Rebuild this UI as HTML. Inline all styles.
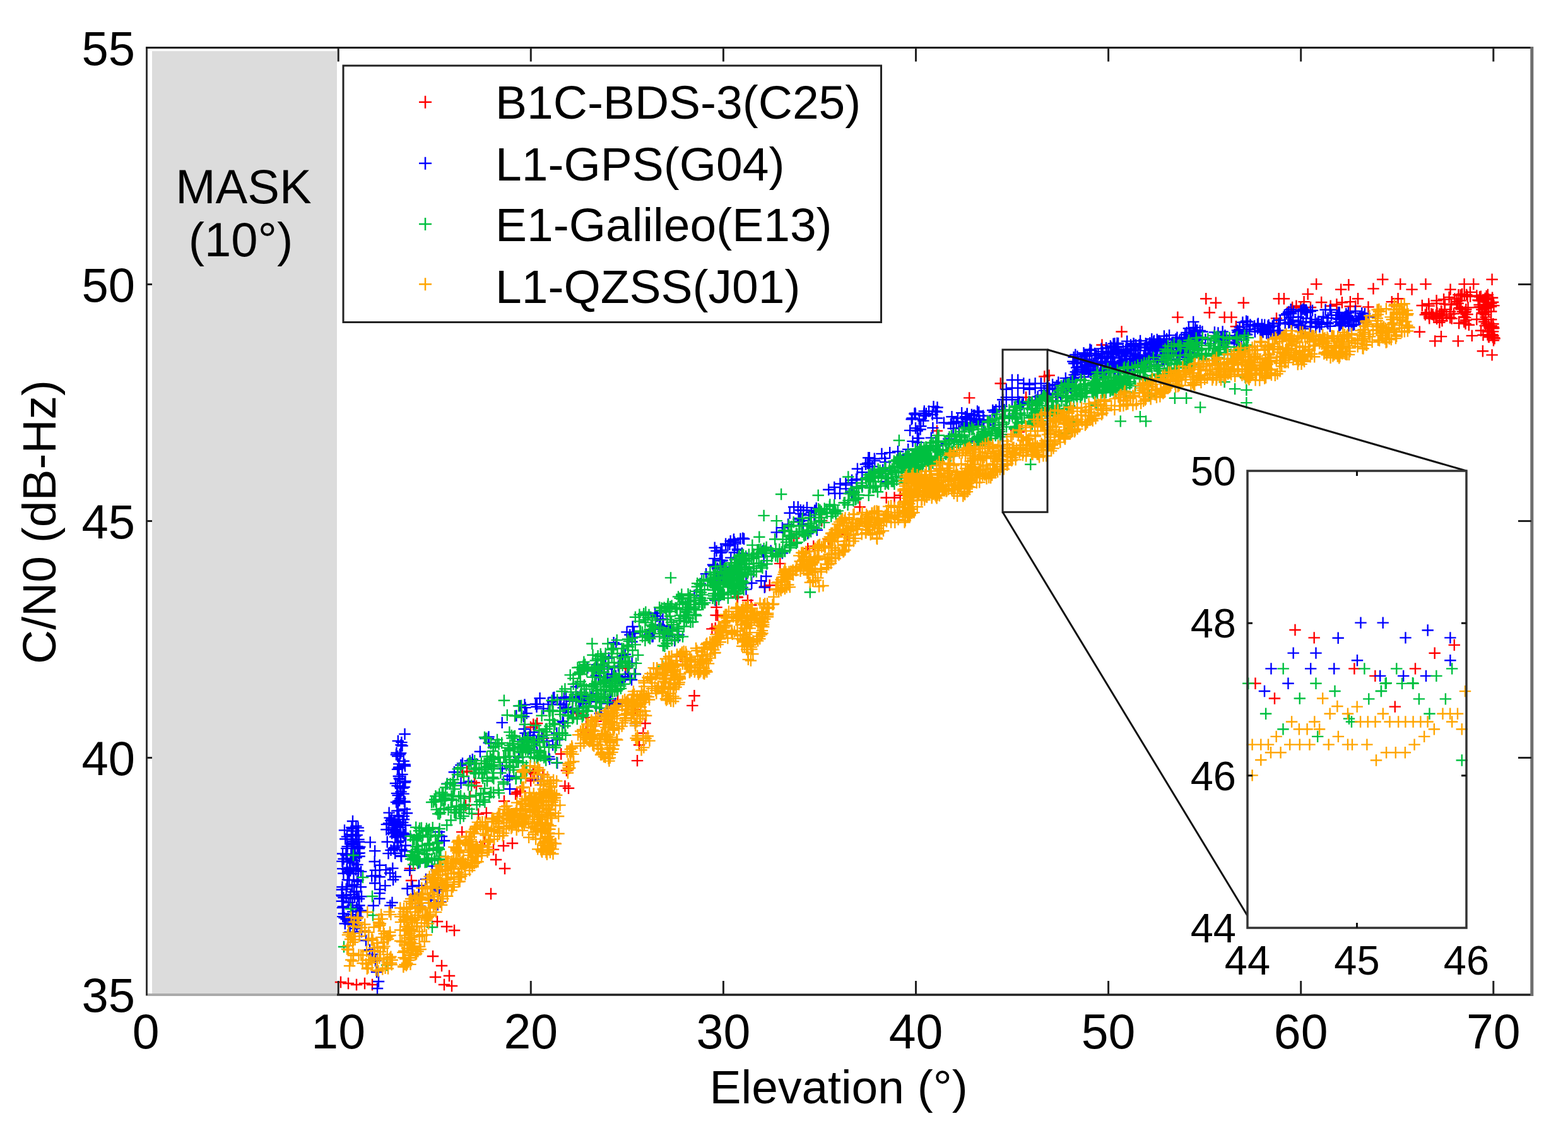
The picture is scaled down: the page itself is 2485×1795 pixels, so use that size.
<!DOCTYPE html><html><head><meta charset="utf-8"><style>html,body{margin:0;padding:0;background:#fff}svg{display:block}text{font-family:'Liberation Sans',Arial,sans-serif;fill:#000}</style></head><body>
<svg width="2485" height="1795" viewBox="0 0 2485 1795" xmlns="http://www.w3.org/2000/svg">
<rect x="241" y="81" width="293" height="1493" fill="#dcdcdc"/>
<path d="M530.8 1556.0h18.4m-9.2-9.2v18.4M542.8 1558.0h18.4m-9.2-9.2v18.4M555.8 1560.0h18.4m-9.2-9.2v18.4M568.8 1558.0h18.4m-9.2-9.2v18.4M580.8 1560.0h18.4m-9.2-9.2v18.4M676.8 1515.0h18.4m-9.2-9.2v18.4M690.8 1530.0h18.4m-9.2-9.2v18.4M680.8 1548.0h18.4m-9.2-9.2v18.4M702.8 1546.0h18.4m-9.2-9.2v18.4M694.8 1560.0h18.4m-9.2-9.2v18.4M706.8 1562.0h18.4m-9.2-9.2v18.4M683.8 1460.0h18.4m-9.2-9.2v18.4M698.8 1468.0h18.4m-9.2-9.2v18.4M710.8 1474.0h18.4m-9.2-9.2v18.4M758.8 1334.0h18.4m-9.2-9.2v18.4M772.8 1346.0h18.4m-9.2-9.2v18.4M788.8 1340.0h18.4m-9.2-9.2v18.4M802.8 1336.0h18.4m-9.2-9.2v18.4M776.8 1362.0h18.4m-9.2-9.2v18.4M790.8 1376.0h18.4m-9.2-9.2v18.4M768.8 1416.0h18.4m-9.2-9.2v18.4M730.8 1222.0h18.4m-9.2-9.2v18.4M742.8 1240.0h18.4m-9.2-9.2v18.4M735.8 1262.0h18.4m-9.2-9.2v18.4M728.8 1276.0h18.4m-9.2-9.2v18.4M831.8 1152.0h18.4m-9.2-9.2v18.4M837.8 1226.0h18.4m-9.2-9.2v18.4M640.8 1376.0h18.4m-9.2-9.2v18.4M642.8 1395.0h18.4m-9.2-9.2v18.4M835.7 1223.8h18.4m-9.2-9.2v18.4M851.3 1227.0h18.4m-9.2-9.2v18.4M888.7 1220.7h18.4m-9.2-9.2v18.4M891.8 1248.8h18.4m-9.2-9.2v18.4M904.3 1130.4h18.4m-9.2-9.2v18.4M919.8 1136.6h18.4m-9.2-9.2v18.4M935.4 1142.8h18.4m-9.2-9.2v18.4M982.1 1058.7h18.4m-9.2-9.2v18.4M1069.4 1040.0h18.4m-9.2-9.2v18.4M1091.2 1102.3h18.4m-9.2-9.2v18.4M1088.1 1117.9h18.4m-9.2-9.2v18.4M997.7 1124.1h18.4m-9.2-9.2v18.4M1013.3 1146.0h18.4m-9.2-9.2v18.4M1010.2 1161.5h18.4m-9.2-9.2v18.4M1003.9 1180.2h18.4m-9.2-9.2v18.4M1000.8 1205.1h18.4m-9.2-9.2v18.4M1119.2 996.4h18.4m-9.2-9.2v18.4M1125.4 974.6h18.4m-9.2-9.2v18.4M1159.7 946.6h18.4m-9.2-9.2v18.4M842.0 1146.0h18.4m-9.2-9.2v18.4M1395.5 788.5h18.4m-9.2-9.2v18.4M1408.3 788.5h18.4m-9.2-9.2v18.4M1417.5 784.8h18.4m-9.2-9.2v18.4M1333.3 847.1h18.4m-9.2-9.2v18.4M1304.0 854.4h18.4m-9.2-9.2v18.4M1249.0 852.6h18.4m-9.2-9.2v18.4M1280.1 865.4h18.4m-9.2-9.2v18.4M1271.0 869.1h18.4m-9.2-9.2v18.4M1227.0 892.9h18.4m-9.2-9.2v18.4M1293.0 825.1h18.4m-9.2-9.2v18.4M1353.4 803.2h18.4m-9.2-9.2v18.4M1159.3 945.6h18.4m-9.2-9.2v18.4M1175.7 951.1h18.4m-9.2-9.2v18.4M1181.2 958.5h18.4m-9.2-9.2v18.4M1128.1 974.9h18.4m-9.2-9.2v18.4M1126.3 962.1h18.4m-9.2-9.2v18.4M1124.5 995.1h18.4m-9.2-9.2v18.4M1203.2 929.2h18.4m-9.2-9.2v18.4M1210.5 927.3h18.4m-9.2-9.2v18.4M919.7 1159.5h18.4m-9.2-9.2v18.4M810.3 1255.2h18.4m-9.2-9.2v18.4M807.9 1258.0h18.4m-9.2-9.2v18.4M761.6 1288.0h18.4m-9.2-9.2v18.4M749.0 1289.7h18.4m-9.2-9.2v18.4M969.8 1110.2h18.4m-9.2-9.2v18.4M723.0 1318.1h18.4m-9.2-9.2v18.4M880.0 1194.5h18.4m-9.2-9.2v18.4M789.8 1269.2h18.4m-9.2-9.2v18.4M919.7 1158.1h18.4m-9.2-9.2v18.4M815.2 1253.5h18.4m-9.2-9.2v18.4M832.0 1237.0h18.4m-9.2-9.2v18.4M831.8 1233.7h18.4m-9.2-9.2v18.4M836.1 1147.7h18.4m-9.2-9.2v18.4M852.0 1169.7h18.4m-9.2-9.2v18.4M723.8 1223.4h18.4m-9.2-9.2v18.4M822.7 1223.4h18.4m-9.2-9.2v18.4M837.3 1223.4h18.4m-9.2-9.2v18.4M745.8 1245.4h18.4m-9.2-9.2v18.4M886.2 1245.4h18.4m-9.2-9.2v18.4M1527.0 630.4h18.4m-9.2-9.2v18.4M1576.5 607.5h18.4m-9.2-9.2v18.4M1653.4 594.7h18.4m-9.2-9.2v18.4M1646.1 596.5h18.4m-9.2-9.2v18.4M1664.4 629.5h18.4m-9.2-9.2v18.4M1616.8 629.5h18.4m-9.2-9.2v18.4M1475.7 682.6h18.4m-9.2-9.2v18.4M1479.4 743.0h18.4m-9.2-9.2v18.4M1605.8 684.4h18.4m-9.2-9.2v18.4M1717.5 570.9h18.4m-9.2-9.2v18.4M1593.0 688.1h18.4m-9.2-9.2v18.4M1737.3 546.5h18.4m-9.2-9.2v18.4M1768.4 525.5h18.4m-9.2-9.2v18.4M1857.2 502.6h18.4m-9.2-9.2v18.4M1902.1 473.3h18.4m-9.2-9.2v18.4M1917.7 479.7h18.4m-9.2-9.2v18.4M1907.6 495.2h18.4m-9.2-9.2v18.4M1931.4 502.6h18.4m-9.2-9.2v18.4M1942.4 502.6h18.4m-9.2-9.2v18.4M1961.6 479.7h18.4m-9.2-9.2v18.4M1949.7 517.2h18.4m-9.2-9.2v18.4M2013.8 504.4h18.4m-9.2-9.2v18.4M2017.5 473.3h18.4m-9.2-9.2v18.4M1882.0 539.2h18.4m-9.2-9.2v18.4M1885.6 542.9h18.4m-9.2-9.2v18.4M2335.4 483.0h18.4m-9.2-9.2v18.4M2357.2 513.2h18.4m-9.2-9.2v18.4M2344.6 516.1h18.4m-9.2-9.2v18.4M2358.8 535.2h18.4m-9.2-9.2v18.4M2350.5 534.1h18.4m-9.2-9.2v18.4M2349.6 481.5h18.4m-9.2-9.2v18.4M2345.1 483.5h18.4m-9.2-9.2v18.4M2357.4 518.3h18.4m-9.2-9.2v18.4M2355.8 530.3h18.4m-9.2-9.2v18.4M2345.2 502.4h18.4m-9.2-9.2v18.4M2346.5 469.1h18.4m-9.2-9.2v18.4M2349.8 473.9h18.4m-9.2-9.2v18.4M2357.1 520.2h18.4m-9.2-9.2v18.4M2354.1 530.7h18.4m-9.2-9.2v18.4M2344.8 498.6h18.4m-9.2-9.2v18.4M2337.7 469.8h18.4m-9.2-9.2v18.4M2339.1 490.4h18.4m-9.2-9.2v18.4M2354.6 516.1h18.4m-9.2-9.2v18.4M2348.8 525.6h18.4m-9.2-9.2v18.4M2334.3 487.0h18.4m-9.2-9.2v18.4M2335.8 470.4h18.4m-9.2-9.2v18.4M2347.8 523.7h18.4m-9.2-9.2v18.4M2349.7 513.7h18.4m-9.2-9.2v18.4M2344.1 474.7h18.4m-9.2-9.2v18.4M2341.9 478.0h18.4m-9.2-9.2v18.4M2344.4 472.6h18.4m-9.2-9.2v18.4M2354.1 480.6h18.4m-9.2-9.2v18.4M2354.0 506.2h18.4m-9.2-9.2v18.4M2344.7 494.2h18.4m-9.2-9.2v18.4M2358.2 484.1h18.4m-9.2-9.2v18.4M2348.3 530.3h18.4m-9.2-9.2v18.4M2348.7 467.0h18.4m-9.2-9.2v18.4M2356.9 478.7h18.4m-9.2-9.2v18.4M2356.8 525.2h18.4m-9.2-9.2v18.4M2343.4 488.5h18.4m-9.2-9.2v18.4M2351.5 519.7h18.4m-9.2-9.2v18.4M2350.9 530.8h18.4m-9.2-9.2v18.4M2341.4 505.6h18.4m-9.2-9.2v18.4M2341.3 530.7h18.4m-9.2-9.2v18.4M2339.7 496.8h18.4m-9.2-9.2v18.4M2347.0 487.5h18.4m-9.2-9.2v18.4M2346.6 512.8h18.4m-9.2-9.2v18.4M2356.7 534.4h18.4m-9.2-9.2v18.4M2353.7 485.7h18.4m-9.2-9.2v18.4M2333.4 475.5h18.4m-9.2-9.2v18.4M2355.9 471.8h18.4m-9.2-9.2v18.4M2331.1 506.0h18.4m-9.2-9.2v18.4M2339.5 495.8h18.4m-9.2-9.2v18.4M2335.0 476.3h18.4m-9.2-9.2v18.4M2340.1 490.5h18.4m-9.2-9.2v18.4M2349.8 533.2h18.4m-9.2-9.2v18.4M2343.1 509.7h18.4m-9.2-9.2v18.4M2331.2 468.5h18.4m-9.2-9.2v18.4M2354.0 493.5h18.4m-9.2-9.2v18.4M2350.2 493.4h18.4m-9.2-9.2v18.4M2336.2 486.1h18.4m-9.2-9.2v18.4M2347.5 478.8h18.4m-9.2-9.2v18.4M2337.9 523.7h18.4m-9.2-9.2v18.4M2357.2 531.8h18.4m-9.2-9.2v18.4M2358.1 519.9h18.4m-9.2-9.2v18.4M2348.6 482.5h18.4m-9.2-9.2v18.4M2358.8 535.7h18.4m-9.2-9.2v18.4M2359.4 536.3h18.4m-9.2-9.2v18.4M2280.8 481.7h18.4m-9.2-9.2v18.4M2302.3 467.1h18.4m-9.2-9.2v18.4M2251.7 496.5h18.4m-9.2-9.2v18.4M2314.1 490.3h18.4m-9.2-9.2v18.4M2305.6 467.5h18.4m-9.2-9.2v18.4M2275.9 504.3h18.4m-9.2-9.2v18.4M2294.9 497.0h18.4m-9.2-9.2v18.4M2275.5 493.4h18.4m-9.2-9.2v18.4M2306.3 490.0h18.4m-9.2-9.2v18.4M2268.4 496.1h18.4m-9.2-9.2v18.4M2280.0 490.1h18.4m-9.2-9.2v18.4M2263.2 502.7h18.4m-9.2-9.2v18.4M2244.6 484.0h18.4m-9.2-9.2v18.4M2255.5 484.6h18.4m-9.2-9.2v18.4M2308.7 493.7h18.4m-9.2-9.2v18.4M2274.8 493.0h18.4m-9.2-9.2v18.4M2251.7 495.3h18.4m-9.2-9.2v18.4M2267.7 480.7h18.4m-9.2-9.2v18.4M2255.0 481.5h18.4m-9.2-9.2v18.4M2278.9 474.3h18.4m-9.2-9.2v18.4M2283.2 500.5h18.4m-9.2-9.2v18.4M2303.0 512.0h18.4m-9.2-9.2v18.4M2299.3 477.8h18.4m-9.2-9.2v18.4M2303.9 487.8h18.4m-9.2-9.2v18.4M2259.2 497.5h18.4m-9.2-9.2v18.4M2267.4 476.2h18.4m-9.2-9.2v18.4M2287.4 470.9h18.4m-9.2-9.2v18.4M2290.6 482.9h18.4m-9.2-9.2v18.4M2278.0 500.4h18.4m-9.2-9.2v18.4M2314.0 507.3h18.4m-9.2-9.2v18.4M2315.1 466.9h18.4m-9.2-9.2v18.4M2267.7 501.6h18.4m-9.2-9.2v18.4M2310.9 501.9h18.4m-9.2-9.2v18.4M2313.6 493.6h18.4m-9.2-9.2v18.4M2276.3 508.2h18.4m-9.2-9.2v18.4M2320.9 469.5h18.4m-9.2-9.2v18.4M2313.4 512.9h18.4m-9.2-9.2v18.4M2261.6 498.3h18.4m-9.2-9.2v18.4M2288.9 493.8h18.4m-9.2-9.2v18.4M2266.9 499.2h18.4m-9.2-9.2v18.4M2316.3 498.0h18.4m-9.2-9.2v18.4M2266.3 502.8h18.4m-9.2-9.2v18.4M2249.6 498.6h18.4m-9.2-9.2v18.4M2312.5 494.8h18.4m-9.2-9.2v18.4M2318.7 514.7h18.4m-9.2-9.2v18.4M2290.9 482.2h18.4m-9.2-9.2v18.4M2272.1 497.8h18.4m-9.2-9.2v18.4M2305.1 476.4h18.4m-9.2-9.2v18.4M2313.2 503.1h18.4m-9.2-9.2v18.4M2267.9 505.0h18.4m-9.2-9.2v18.4M2255.5 497.8h18.4m-9.2-9.2v18.4M2291.6 504.6h18.4m-9.2-9.2v18.4M2296.2 473.5h18.4m-9.2-9.2v18.4M2256.1 504.3h18.4m-9.2-9.2v18.4M2316.5 469.8h18.4m-9.2-9.2v18.4M2311.1 510.0h18.4m-9.2-9.2v18.4M2307.9 466.0h18.4m-9.2-9.2v18.4M2255.9 501.5h18.4m-9.2-9.2v18.4M2288.9 503.2h18.4m-9.2-9.2v18.4M2272.2 510.9h18.4m-9.2-9.2v18.4M2301.4 480.8h18.4m-9.2-9.2v18.4M2320.7 462.9h18.4m-9.2-9.2v18.4M2288.8 497.6h18.4m-9.2-9.2v18.4M2317.4 487.3h18.4m-9.2-9.2v18.4M2311.6 467.7h18.4m-9.2-9.2v18.4M2085.0 479.0h18.4m-9.2-9.2v18.4M2099.5 484.7h18.4m-9.2-9.2v18.4M2045.2 484.7h18.4m-9.2-9.2v18.4M2038.9 487.0h18.4m-9.2-9.2v18.4M2159.3 486.4h18.4m-9.2-9.2v18.4M2139.1 485.2h18.4m-9.2-9.2v18.4M2117.7 479.2h18.4m-9.2-9.2v18.4M2052.3 487.2h18.4m-9.2-9.2v18.4M2067.8 487.0h18.4m-9.2-9.2v18.4M2109.2 482.3h18.4m-9.2-9.2v18.4M2130.5 485.5h18.4m-9.2-9.2v18.4M2077.0 450.1h18.4m-9.2-9.2v18.4M2063.5 465.9h18.4m-9.2-9.2v18.4M2057.4 478.1h18.4m-9.2-9.2v18.4M2025.7 473.3h18.4m-9.2-9.2v18.4M2128.2 451.3h18.4m-9.2-9.2v18.4M2116.0 458.6h18.4m-9.2-9.2v18.4M2142.9 473.3h18.4m-9.2-9.2v18.4M2130.7 478.1h18.4m-9.2-9.2v18.4M2167.3 457.4h18.4m-9.2-9.2v18.4M2182.0 442.7h18.4m-9.2-9.2v18.4M2210.1 450.1h18.4m-9.2-9.2v18.4M2228.4 458.6h18.4m-9.2-9.2v18.4M2250.3 450.1h18.4m-9.2-9.2v18.4M2196.6 478.1h18.4m-9.2-9.2v18.4M2206.4 473.3h18.4m-9.2-9.2v18.4M2289.4 458.6h18.4m-9.2-9.2v18.4M2311.4 450.1h18.4m-9.2-9.2v18.4M2326.1 450.1h18.4m-9.2-9.2v18.4M2355.4 442.7h18.4m-9.2-9.2v18.4M2240.6 525.8h18.4m-9.2-9.2v18.4M2274.8 533.1h18.4m-9.2-9.2v18.4M2265.0 540.4h18.4m-9.2-9.2v18.4M2301.6 540.4h18.4m-9.2-9.2v18.4M2323.6 531.9h18.4m-9.2-9.2v18.4M2340.7 556.3h18.4m-9.2-9.2v18.4M2355.4 562.4h18.4m-9.2-9.2v18.4M2357.8 539.2h18.4m-9.2-9.2v18.4" stroke="#ff0000" stroke-width="2.4" fill="none"/>
<path d="M549.8 1301.0h18.4m-9.2-9.2v18.4M632.3 1163.0h18.4m-9.2-9.2v18.4M556.0 1437.8h18.4m-9.2-9.2v18.4M533.3 1405.2h18.4m-9.2-9.2v18.4M534.1 1376.2h18.4m-9.2-9.2v18.4M540.7 1325.6h18.4m-9.2-9.2v18.4M543.9 1382.9h18.4m-9.2-9.2v18.4M551.0 1367.4h18.4m-9.2-9.2v18.4M533.2 1364.6h18.4m-9.2-9.2v18.4M555.1 1308.6h18.4m-9.2-9.2v18.4M549.1 1311.4h18.4m-9.2-9.2v18.4M561.0 1341.8h18.4m-9.2-9.2v18.4M549.5 1323.7h18.4m-9.2-9.2v18.4M550.0 1444.4h18.4m-9.2-9.2v18.4M562.8 1443.8h18.4m-9.2-9.2v18.4M559.0 1316.4h18.4m-9.2-9.2v18.4M555.9 1412.3h18.4m-9.2-9.2v18.4M556.5 1322.9h18.4m-9.2-9.2v18.4M539.2 1354.5h18.4m-9.2-9.2v18.4M554.9 1375.7h18.4m-9.2-9.2v18.4M544.3 1394.3h18.4m-9.2-9.2v18.4M557.2 1452.5h18.4m-9.2-9.2v18.4M560.4 1356.7h18.4m-9.2-9.2v18.4M534.8 1436.3h18.4m-9.2-9.2v18.4M533.7 1438.1h18.4m-9.2-9.2v18.4M539.5 1418.9h18.4m-9.2-9.2v18.4M557.4 1420.6h18.4m-9.2-9.2v18.4M544.2 1464.0h18.4m-9.2-9.2v18.4M547.1 1353.2h18.4m-9.2-9.2v18.4M547.3 1449.1h18.4m-9.2-9.2v18.4M538.0 1329.2h18.4m-9.2-9.2v18.4M562.9 1380.9h18.4m-9.2-9.2v18.4M546.3 1361.5h18.4m-9.2-9.2v18.4M539.4 1456.3h18.4m-9.2-9.2v18.4M558.9 1351.7h18.4m-9.2-9.2v18.4M556.2 1466.1h18.4m-9.2-9.2v18.4M545.4 1476.7h18.4m-9.2-9.2v18.4M534.0 1452.1h18.4m-9.2-9.2v18.4M560.6 1351.4h18.4m-9.2-9.2v18.4M540.5 1354.8h18.4m-9.2-9.2v18.4M535.6 1447.5h18.4m-9.2-9.2v18.4M555.2 1443.5h18.4m-9.2-9.2v18.4M553.3 1353.0h18.4m-9.2-9.2v18.4M533.9 1352.5h18.4m-9.2-9.2v18.4M558.4 1311.4h18.4m-9.2-9.2v18.4M549.5 1363.3h18.4m-9.2-9.2v18.4M540.9 1365.6h18.4m-9.2-9.2v18.4M551.5 1337.1h18.4m-9.2-9.2v18.4M536.4 1454.1h18.4m-9.2-9.2v18.4M557.2 1369.9h18.4m-9.2-9.2v18.4M539.5 1408.5h18.4m-9.2-9.2v18.4M546.3 1417.1h18.4m-9.2-9.2v18.4M543.4 1430.0h18.4m-9.2-9.2v18.4M548.9 1312.7h18.4m-9.2-9.2v18.4M554.4 1457.9h18.4m-9.2-9.2v18.4M547.8 1335.5h18.4m-9.2-9.2v18.4M541.4 1341.1h18.4m-9.2-9.2v18.4M560.2 1434.5h18.4m-9.2-9.2v18.4M541.2 1360.0h18.4m-9.2-9.2v18.4M535.2 1383.7h18.4m-9.2-9.2v18.4M559.2 1330.0h18.4m-9.2-9.2v18.4M556.7 1396.5h18.4m-9.2-9.2v18.4M542.8 1459.1h18.4m-9.2-9.2v18.4M551.7 1363.6h18.4m-9.2-9.2v18.4M555.4 1358.8h18.4m-9.2-9.2v18.4M535.4 1360.8h18.4m-9.2-9.2v18.4M547.0 1453.7h18.4m-9.2-9.2v18.4M547.4 1330.1h18.4m-9.2-9.2v18.4M559.8 1424.0h18.4m-9.2-9.2v18.4M549.9 1462.5h18.4m-9.2-9.2v18.4M545.0 1374.6h18.4m-9.2-9.2v18.4M532.7 1427.7h18.4m-9.2-9.2v18.4M552.6 1471.0h18.4m-9.2-9.2v18.4M546.1 1379.4h18.4m-9.2-9.2v18.4M532.3 1418.1h18.4m-9.2-9.2v18.4M541.7 1381.0h18.4m-9.2-9.2v18.4M560.1 1343.1h18.4m-9.2-9.2v18.4M548.7 1353.9h18.4m-9.2-9.2v18.4M552.2 1401.6h18.4m-9.2-9.2v18.4M554.2 1324.4h18.4m-9.2-9.2v18.4M552.9 1421.9h18.4m-9.2-9.2v18.4M560.6 1444.4h18.4m-9.2-9.2v18.4M558.3 1394.0h18.4m-9.2-9.2v18.4M533.0 1419.6h18.4m-9.2-9.2v18.4M550.4 1462.4h18.4m-9.2-9.2v18.4M540.0 1344.1h18.4m-9.2-9.2v18.4M555.9 1444.6h18.4m-9.2-9.2v18.4M563.8 1420.2h18.4m-9.2-9.2v18.4M540.8 1404.9h18.4m-9.2-9.2v18.4M550.1 1332.9h18.4m-9.2-9.2v18.4M548.7 1403.4h18.4m-9.2-9.2v18.4M557.1 1340.9h18.4m-9.2-9.2v18.4M550.1 1316.5h18.4m-9.2-9.2v18.4M549.7 1338.0h18.4m-9.2-9.2v18.4M540.4 1377.2h18.4m-9.2-9.2v18.4M539.7 1352.9h18.4m-9.2-9.2v18.4M541.6 1393.9h18.4m-9.2-9.2v18.4M536.8 1315.4h18.4m-9.2-9.2v18.4M562.8 1442.7h18.4m-9.2-9.2v18.4M559.9 1333.7h18.4m-9.2-9.2v18.4M546.2 1423.5h18.4m-9.2-9.2v18.4M549.4 1434.0h18.4m-9.2-9.2v18.4M537.6 1463.2h18.4m-9.2-9.2v18.4M551.5 1413.2h18.4m-9.2-9.2v18.4M551.3 1384.2h18.4m-9.2-9.2v18.4M547.6 1322.1h18.4m-9.2-9.2v18.4M551.6 1340.7h18.4m-9.2-9.2v18.4M554.8 1377.7h18.4m-9.2-9.2v18.4M553.8 1353.1h18.4m-9.2-9.2v18.4M535.2 1422.3h18.4m-9.2-9.2v18.4M559.7 1344.3h18.4m-9.2-9.2v18.4M557.2 1439.9h18.4m-9.2-9.2v18.4M558.5 1379.8h18.4m-9.2-9.2v18.4M562.6 1405.2h18.4m-9.2-9.2v18.4M532.8 1409.5h18.4m-9.2-9.2v18.4M548.2 1310.9h18.4m-9.2-9.2v18.4M580.0 1388.0h18.4m-9.2-9.2v18.4M584.9 1348.1h18.4m-9.2-9.2v18.4M586.0 1387.2h18.4m-9.2-9.2v18.4M592.2 1423.8h18.4m-9.2-9.2v18.4M582.6 1434.8h18.4m-9.2-9.2v18.4M585.0 1399.3h18.4m-9.2-9.2v18.4M585.7 1378.7h18.4m-9.2-9.2v18.4M593.0 1409.1h18.4m-9.2-9.2v18.4M577.5 1334.4h18.4m-9.2-9.2v18.4M584.5 1365.0h18.4m-9.2-9.2v18.4M628.2 1226.9h18.4m-9.2-9.2v18.4M632.4 1239.6h18.4m-9.2-9.2v18.4M631.7 1269.7h18.4m-9.2-9.2v18.4M624.5 1195.3h18.4m-9.2-9.2v18.4M622.0 1269.1h18.4m-9.2-9.2v18.4M623.3 1215.4h18.4m-9.2-9.2v18.4M619.8 1256.9h18.4m-9.2-9.2v18.4M618.7 1195.5h18.4m-9.2-9.2v18.4M620.8 1218.9h18.4m-9.2-9.2v18.4M626.3 1254.4h18.4m-9.2-9.2v18.4M624.5 1246.2h18.4m-9.2-9.2v18.4M626.3 1180.2h18.4m-9.2-9.2v18.4M633.2 1237.7h18.4m-9.2-9.2v18.4M624.4 1195.1h18.4m-9.2-9.2v18.4M625.2 1265.4h18.4m-9.2-9.2v18.4M628.3 1181.5h18.4m-9.2-9.2v18.4M621.4 1273.3h18.4m-9.2-9.2v18.4M617.7 1241.0h18.4m-9.2-9.2v18.4M631.4 1247.0h18.4m-9.2-9.2v18.4M627.2 1176.1h18.4m-9.2-9.2v18.4M620.9 1198.1h18.4m-9.2-9.2v18.4M620.5 1244.9h18.4m-9.2-9.2v18.4M621.6 1173.9h18.4m-9.2-9.2v18.4M623.6 1233.3h18.4m-9.2-9.2v18.4M621.5 1260.0h18.4m-9.2-9.2v18.4M632.5 1270.8h18.4m-9.2-9.2v18.4M632.7 1213.6h18.4m-9.2-9.2v18.4M623.9 1268.3h18.4m-9.2-9.2v18.4M618.8 1270.9h18.4m-9.2-9.2v18.4M630.5 1205.8h18.4m-9.2-9.2v18.4M619.3 1192.6h18.4m-9.2-9.2v18.4M622.7 1216.7h18.4m-9.2-9.2v18.4M629.2 1248.5h18.4m-9.2-9.2v18.4M630.3 1257.6h18.4m-9.2-9.2v18.4M623.0 1210.4h18.4m-9.2-9.2v18.4M622.6 1229.7h18.4m-9.2-9.2v18.4M624.5 1234.5h18.4m-9.2-9.2v18.4M632.3 1211.3h18.4m-9.2-9.2v18.4M625.9 1193.1h18.4m-9.2-9.2v18.4M611.6 1297.4h18.4m-9.2-9.2v18.4M622.9 1294.0h18.4m-9.2-9.2v18.4M611.9 1320.2h18.4m-9.2-9.2v18.4M630.7 1298.3h18.4m-9.2-9.2v18.4M606.3 1352.1h18.4m-9.2-9.2v18.4M625.8 1310.7h18.4m-9.2-9.2v18.4M603.6 1306.1h18.4m-9.2-9.2v18.4M607.4 1287.6h18.4m-9.2-9.2v18.4M612.3 1311.4h18.4m-9.2-9.2v18.4M626.3 1355.6h18.4m-9.2-9.2v18.4M610.0 1300.0h18.4m-9.2-9.2v18.4M608.3 1295.6h18.4m-9.2-9.2v18.4M626.0 1324.9h18.4m-9.2-9.2v18.4M606.7 1314.3h18.4m-9.2-9.2v18.4M614.5 1318.9h18.4m-9.2-9.2v18.4M627.2 1345.9h18.4m-9.2-9.2v18.4M629.5 1320.0h18.4m-9.2-9.2v18.4M627.0 1356.9h18.4m-9.2-9.2v18.4M634.0 1321.5h18.4m-9.2-9.2v18.4M630.5 1293.1h18.4m-9.2-9.2v18.4M618.0 1318.3h18.4m-9.2-9.2v18.4M616.9 1325.8h18.4m-9.2-9.2v18.4M633.5 1307.5h18.4m-9.2-9.2v18.4M615.0 1345.1h18.4m-9.2-9.2v18.4M618.9 1323.5h18.4m-9.2-9.2v18.4M632.5 1282.0h18.4m-9.2-9.2v18.4M616.2 1342.9h18.4m-9.2-9.2v18.4M619.0 1308.0h18.4m-9.2-9.2v18.4M604.5 1333.8h18.4m-9.2-9.2v18.4M622.2 1291.9h18.4m-9.2-9.2v18.4M620.2 1340.4h18.4m-9.2-9.2v18.4M621.8 1284.5h18.4m-9.2-9.2v18.4M625.3 1306.8h18.4m-9.2-9.2v18.4M625.6 1332.4h18.4m-9.2-9.2v18.4M629.0 1303.1h18.4m-9.2-9.2v18.4M616.1 1314.0h18.4m-9.2-9.2v18.4M617.0 1308.0h18.4m-9.2-9.2v18.4M615.5 1299.6h18.4m-9.2-9.2v18.4M620.6 1308.8h18.4m-9.2-9.2v18.4M623.3 1297.9h18.4m-9.2-9.2v18.4M621.0 1326.0h18.4m-9.2-9.2v18.4M633.7 1339.5h18.4m-9.2-9.2v18.4M631.5 1322.2h18.4m-9.2-9.2v18.4M620.1 1284.6h18.4m-9.2-9.2v18.4M618.1 1316.0h18.4m-9.2-9.2v18.4M603.2 1314.3h18.4m-9.2-9.2v18.4M617.8 1318.1h18.4m-9.2-9.2v18.4M635.7 1288.2h18.4m-9.2-9.2v18.4M619.4 1305.6h18.4m-9.2-9.2v18.4M612.6 1315.2h18.4m-9.2-9.2v18.4M632.3 1348.3h18.4m-9.2-9.2v18.4M606.7 1304.5h18.4m-9.2-9.2v18.4M621.8 1334.6h18.4m-9.2-9.2v18.4M621.9 1302.1h18.4m-9.2-9.2v18.4M624.6 1318.5h18.4m-9.2-9.2v18.4M617.0 1351.7h18.4m-9.2-9.2v18.4M610.3 1346.9h18.4m-9.2-9.2v18.4M592.4 1389.2h18.4m-9.2-9.2v18.4M609.2 1434.6h18.4m-9.2-9.2v18.4M689.0 1428.9h18.4m-9.2-9.2v18.4M644.3 1404.2h18.4m-9.2-9.2v18.4M654.4 1415.9h18.4m-9.2-9.2v18.4M673.7 1426.1h18.4m-9.2-9.2v18.4M654.3 1367.0h18.4m-9.2-9.2v18.4M665.8 1392.9h18.4m-9.2-9.2v18.4M644.8 1417.8h18.4m-9.2-9.2v18.4M687.1 1411.5h18.4m-9.2-9.2v18.4M656.3 1435.8h18.4m-9.2-9.2v18.4M592.5 1415.1h18.4m-9.2-9.2v18.4M601.2 1403.1h18.4m-9.2-9.2v18.4M617.7 1389.0h18.4m-9.2-9.2v18.4M678.4 1386.0h18.4m-9.2-9.2v18.4M685.5 1408.5h18.4m-9.2-9.2v18.4M685.6 1408.7h18.4m-9.2-9.2v18.4M654.8 1402.9h18.4m-9.2-9.2v18.4M687.0 1362.7h18.4m-9.2-9.2v18.4M602.4 1378.1h18.4m-9.2-9.2v18.4M684.5 1433.3h18.4m-9.2-9.2v18.4M608.9 1383.2h18.4m-9.2-9.2v18.4M640.1 1378.9h18.4m-9.2-9.2v18.4M613.1 1375.6h18.4m-9.2-9.2v18.4M675.5 1372.3h18.4m-9.2-9.2v18.4M653.7 1425.5h18.4m-9.2-9.2v18.4M613.9 1393.7h18.4m-9.2-9.2v18.4M592.5 1370.7h18.4m-9.2-9.2v18.4M636.3 1407.7h18.4m-9.2-9.2v18.4M612.3 1430.0h18.4m-9.2-9.2v18.4M563.8 1476.0h18.4m-9.2-9.2v18.4M570.8 1490.0h18.4m-9.2-9.2v18.4M576.8 1505.0h18.4m-9.2-9.2v18.4M585.8 1522.0h18.4m-9.2-9.2v18.4M587.8 1540.0h18.4m-9.2-9.2v18.4M588.8 1566.0h18.4m-9.2-9.2v18.4M590.8 1555.0h18.4m-9.2-9.2v18.4M580.8 1512.0h18.4m-9.2-9.2v18.4M686.8 1318.0h18.4m-9.2-9.2v18.4M694.8 1332.0h18.4m-9.2-9.2v18.4M690.8 1325.0h18.4m-9.2-9.2v18.4M786.8 1218.0h18.4m-9.2-9.2v18.4M794.8 1235.0h18.4m-9.2-9.2v18.4M798.8 1250.0h18.4m-9.2-9.2v18.4M1147.2 862.5h18.4m-9.2-9.2v18.4M1153.5 856.2h18.4m-9.2-9.2v18.4M1122.3 896.7h18.4m-9.2-9.2v18.4M1109.8 909.2h18.4m-9.2-9.2v18.4M1091.2 943.5h18.4m-9.2-9.2v18.4M1084.9 952.8h18.4m-9.2-9.2v18.4M1028.8 971.5h18.4m-9.2-9.2v18.4M1041.3 980.8h18.4m-9.2-9.2v18.4M1053.8 999.5h18.4m-9.2-9.2v18.4M1060.0 1015.1h18.4m-9.2-9.2v18.4M1066.3 1005.8h18.4m-9.2-9.2v18.4M960.3 1068.0h18.4m-9.2-9.2v18.4M975.9 1077.4h18.4m-9.2-9.2v18.4M985.3 1068.0h18.4m-9.2-9.2v18.4M997.7 1068.0h18.4m-9.2-9.2v18.4M904.3 1105.5h18.4m-9.2-9.2v18.4M919.8 1114.8h18.4m-9.2-9.2v18.4M935.4 1099.2h18.4m-9.2-9.2v18.4M888.7 1121.0h18.4m-9.2-9.2v18.4M882.5 1142.8h18.4m-9.2-9.2v18.4M941.6 1130.4h18.4m-9.2-9.2v18.4M966.6 1114.8h18.4m-9.2-9.2v18.4M997.7 1146.0h18.4m-9.2-9.2v18.4M823.3 1161.5h18.4m-9.2-9.2v18.4M835.7 1170.9h18.4m-9.2-9.2v18.4M857.5 1174.0h18.4m-9.2-9.2v18.4M873.1 1161.5h18.4m-9.2-9.2v18.4M848.2 1236.3h18.4m-9.2-9.2v18.4M866.9 1180.2h18.4m-9.2-9.2v18.4M829.5 1186.4h18.4m-9.2-9.2v18.4M842.0 1192.7h18.4m-9.2-9.2v18.4M860.6 1198.9h18.4m-9.2-9.2v18.4M1100.5 924.8h18.4m-9.2-9.2v18.4M1134.8 912.3h18.4m-9.2-9.2v18.4M910.8 1110.0h18.4m-9.2-9.2v18.4M895.8 1128.0h18.4m-9.2-9.2v18.4M1035.8 990.0h18.4m-9.2-9.2v18.4M1048.8 1008.0h18.4m-9.2-9.2v18.4M1349.7 742.7h18.4m-9.2-9.2v18.4M1362.6 735.4h18.4m-9.2-9.2v18.4M1377.2 729.9h18.4m-9.2-9.2v18.4M1388.2 718.9h18.4m-9.2-9.2v18.4M1401.0 717.1h18.4m-9.2-9.2v18.4M1413.8 715.2h18.4m-9.2-9.2v18.4M1313.1 772.0h18.4m-9.2-9.2v18.4M1322.3 766.5h18.4m-9.2-9.2v18.4M1331.4 768.4h18.4m-9.2-9.2v18.4M1340.6 764.7h18.4m-9.2-9.2v18.4M1347.9 759.2h18.4m-9.2-9.2v18.4M1249.0 803.2h18.4m-9.2-9.2v18.4M1260.0 814.1h18.4m-9.2-9.2v18.4M1276.5 812.3h18.4m-9.2-9.2v18.4M1282.0 808.6h18.4m-9.2-9.2v18.4M1230.7 836.1h18.4m-9.2-9.2v18.4M1239.8 830.6h18.4m-9.2-9.2v18.4M1263.7 830.6h18.4m-9.2-9.2v18.4M1221.5 843.4h18.4m-9.2-9.2v18.4M1271.0 845.3h18.4m-9.2-9.2v18.4M1285.6 839.8h18.4m-9.2-9.2v18.4M1340.6 781.2h18.4m-9.2-9.2v18.4M1140.9 861.8h18.4m-9.2-9.2v18.4M1153.8 854.4h18.4m-9.2-9.2v18.4M1199.6 872.7h18.4m-9.2-9.2v18.4M1212.4 872.7h18.4m-9.2-9.2v18.4M1230.7 876.4h18.4m-9.2-9.2v18.4M1201.4 881.9h18.4m-9.2-9.2v18.4M1131.8 887.4h18.4m-9.2-9.2v18.4M1184.9 905.7h18.4m-9.2-9.2v18.4M1205.0 913.0h18.4m-9.2-9.2v18.4M1120.8 894.7h18.4m-9.2-9.2v18.4M1139.1 898.4h18.4m-9.2-9.2v18.4M1395.5 762.9h18.4m-9.2-9.2v18.4M1390.0 744.5h18.4m-9.2-9.2v18.4M1357.1 748.2h18.4m-9.2-9.2v18.4M1368.1 739.0h18.4m-9.2-9.2v18.4M1304.0 775.7h18.4m-9.2-9.2v18.4M1173.2 933.6h18.4m-9.2-9.2v18.4M1202.5 930.5h18.4m-9.2-9.2v18.4M1197.1 920.3h18.4m-9.2-9.2v18.4M1173.2 924.3h18.4m-9.2-9.2v18.4M1182.1 923.7h18.4m-9.2-9.2v18.4M1124.5 951.1h18.4m-9.2-9.2v18.4M1242.4 812.8h18.4m-9.2-9.2v18.4M1272.8 816.1h18.4m-9.2-9.2v18.4M1264.1 808.8h18.4m-9.2-9.2v18.4M1255.5 803.3h18.4m-9.2-9.2v18.4M1257.8 825.9h18.4m-9.2-9.2v18.4M1256.3 822.6h18.4m-9.2-9.2v18.4M1259.6 808.3h18.4m-9.2-9.2v18.4M1269.7 804.1h18.4m-9.2-9.2v18.4M1284.5 805.1h18.4m-9.2-9.2v18.4M1282.5 808.6h18.4m-9.2-9.2v18.4M1281.5 811.0h18.4m-9.2-9.2v18.4M1257.6 821.2h18.4m-9.2-9.2v18.4M1281.2 819.9h18.4m-9.2-9.2v18.4M1263.0 824.9h18.4m-9.2-9.2v18.4M1348.8 765.4h18.4m-9.2-9.2v18.4M1331.4 774.4h18.4m-9.2-9.2v18.4M1341.1 777.9h18.4m-9.2-9.2v18.4M1331.2 765.6h18.4m-9.2-9.2v18.4M1340.9 760.8h18.4m-9.2-9.2v18.4M1321.8 781.7h18.4m-9.2-9.2v18.4M1357.4 769.6h18.4m-9.2-9.2v18.4M1348.3 771.4h18.4m-9.2-9.2v18.4M1348.9 760.3h18.4m-9.2-9.2v18.4M1314.0 781.8h18.4m-9.2-9.2v18.4M1392.9 726.1h18.4m-9.2-9.2v18.4M1376.6 726.7h18.4m-9.2-9.2v18.4M1394.0 732.1h18.4m-9.2-9.2v18.4M1369.2 733.4h18.4m-9.2-9.2v18.4M1368.6 725.3h18.4m-9.2-9.2v18.4M1373.3 739.3h18.4m-9.2-9.2v18.4M1365.8 734.0h18.4m-9.2-9.2v18.4M1367.0 725.2h18.4m-9.2-9.2v18.4M1362.9 735.5h18.4m-9.2-9.2v18.4M1441.1 654.6h18.4m-9.2-9.2v18.4M1441.7 656.7h18.4m-9.2-9.2v18.4M1476.3 645.5h18.4m-9.2-9.2v18.4M1446.7 694.2h18.4m-9.2-9.2v18.4M1455.1 654.8h18.4m-9.2-9.2v18.4M1469.2 677.9h18.4m-9.2-9.2v18.4M1473.5 651.4h18.4m-9.2-9.2v18.4M1468.6 656.7h18.4m-9.2-9.2v18.4M1449.4 680.3h18.4m-9.2-9.2v18.4M1435.5 664.2h18.4m-9.2-9.2v18.4M1447.6 664.3h18.4m-9.2-9.2v18.4M1436.5 662.5h18.4m-9.2-9.2v18.4M1475.6 652.5h18.4m-9.2-9.2v18.4M1440.2 655.5h18.4m-9.2-9.2v18.4M1454.7 658.0h18.4m-9.2-9.2v18.4M1433.0 681.9h18.4m-9.2-9.2v18.4M1455.6 651.4h18.4m-9.2-9.2v18.4M1458.6 655.1h18.4m-9.2-9.2v18.4M1454.1 666.6h18.4m-9.2-9.2v18.4M1441.8 678.2h18.4m-9.2-9.2v18.4M1135.4 911.3h18.4m-9.2-9.2v18.4M1127.8 900.5h18.4m-9.2-9.2v18.4M1131.7 906.7h18.4m-9.2-9.2v18.4M1133.1 899.3h18.4m-9.2-9.2v18.4M1139.2 906.1h18.4m-9.2-9.2v18.4M1133.0 888.0h18.4m-9.2-9.2v18.4M1135.4 902.1h18.4m-9.2-9.2v18.4M1134.7 888.5h18.4m-9.2-9.2v18.4M1135.3 887.8h18.4m-9.2-9.2v18.4M1155.3 896.1h18.4m-9.2-9.2v18.4M1134.8 899.3h18.4m-9.2-9.2v18.4M1156.2 861.4h18.4m-9.2-9.2v18.4M1164.5 893.0h18.4m-9.2-9.2v18.4M1169.9 853.8h18.4m-9.2-9.2v18.4M1154.8 858.9h18.4m-9.2-9.2v18.4M1137.7 899.2h18.4m-9.2-9.2v18.4M1133.0 875.8h18.4m-9.2-9.2v18.4M1124.7 910.2h18.4m-9.2-9.2v18.4M1156.6 902.9h18.4m-9.2-9.2v18.4M1133.6 871.6h18.4m-9.2-9.2v18.4M1168.4 885.8h18.4m-9.2-9.2v18.4M1164.3 853.6h18.4m-9.2-9.2v18.4M1149.1 883.6h18.4m-9.2-9.2v18.4M1123.5 867.7h18.4m-9.2-9.2v18.4M1126.3 872.9h18.4m-9.2-9.2v18.4M1168.0 852.6h18.4m-9.2-9.2v18.4M1134.5 908.2h18.4m-9.2-9.2v18.4M1135.0 874.5h18.4m-9.2-9.2v18.4M1144.3 864.4h18.4m-9.2-9.2v18.4M1170.3 888.5h18.4m-9.2-9.2v18.4M1123.1 884.9h18.4m-9.2-9.2v18.4M1159.9 871.8h18.4m-9.2-9.2v18.4M1159.6 870.1h18.4m-9.2-9.2v18.4M1148.5 857.3h18.4m-9.2-9.2v18.4M1154.6 875.3h18.4m-9.2-9.2v18.4M1166.6 876.5h18.4m-9.2-9.2v18.4M1122.0 920.4h18.4m-9.2-9.2v18.4M1024.4 1008.6h18.4m-9.2-9.2v18.4M1042.0 991.9h18.4m-9.2-9.2v18.4M1047.4 999.2h18.4m-9.2-9.2v18.4M1020.9 1004.1h18.4m-9.2-9.2v18.4M1037.4 981.6h18.4m-9.2-9.2v18.4M1055.5 999.7h18.4m-9.2-9.2v18.4M1025.5 1008.3h18.4m-9.2-9.2v18.4M1039.8 996.8h18.4m-9.2-9.2v18.4M1017.8 1005.9h18.4m-9.2-9.2v18.4M1041.6 997.4h18.4m-9.2-9.2v18.4M1052.2 999.3h18.4m-9.2-9.2v18.4M1021.2 997.2h18.4m-9.2-9.2v18.4M1027.5 1003.9h18.4m-9.2-9.2v18.4M1030.7 976.2h18.4m-9.2-9.2v18.4M1032.8 975.8h18.4m-9.2-9.2v18.4M987.1 1067.6h18.4m-9.2-9.2v18.4M961.9 1078.3h18.4m-9.2-9.2v18.4M966.7 1070.8h18.4m-9.2-9.2v18.4M981.6 1072.3h18.4m-9.2-9.2v18.4M966.3 1078.4h18.4m-9.2-9.2v18.4M953.3 1073.5h18.4m-9.2-9.2v18.4M970.7 1055.4h18.4m-9.2-9.2v18.4M971.6 1074.1h18.4m-9.2-9.2v18.4M991.8 1077.0h18.4m-9.2-9.2v18.4M992.4 1050.4h18.4m-9.2-9.2v18.4M977.4 1076.2h18.4m-9.2-9.2v18.4M961.4 1079.7h18.4m-9.2-9.2v18.4M943.3 1112.0h18.4m-9.2-9.2v18.4M898.9 1105.8h18.4m-9.2-9.2v18.4M956.8 1112.7h18.4m-9.2-9.2v18.4M913.5 1107.8h18.4m-9.2-9.2v18.4M928.3 1103.5h18.4m-9.2-9.2v18.4M915.5 1119.2h18.4m-9.2-9.2v18.4M906.5 1104.0h18.4m-9.2-9.2v18.4M883.3 1121.4h18.4m-9.2-9.2v18.4M910.3 1102.5h18.4m-9.2-9.2v18.4M877.9 1116.2h18.4m-9.2-9.2v18.4M958.6 1107.4h18.4m-9.2-9.2v18.4M937.5 1105.3h18.4m-9.2-9.2v18.4M898.3 1110.9h18.4m-9.2-9.2v18.4M949.7 1103.7h18.4m-9.2-9.2v18.4M908.2 1121.9h18.4m-9.2-9.2v18.4M917.3 1102.3h18.4m-9.2-9.2v18.4M935.5 1120.4h18.4m-9.2-9.2v18.4M953.3 1114.6h18.4m-9.2-9.2v18.4M884.7 1106.0h18.4m-9.2-9.2v18.4M924.8 1111.9h18.4m-9.2-9.2v18.4M943.8 1122.0h18.4m-9.2-9.2v18.4M879.7 1115.4h18.4m-9.2-9.2v18.4M950.4 1040.1h18.4m-9.2-9.2v18.4M981.5 1036.7h18.4m-9.2-9.2v18.4M723.8 1209.4h18.4m-9.2-9.2v18.4M989.2 1005.7h18.4m-9.2-9.2v18.4M939.2 1072.2h18.4m-9.2-9.2v18.4M922.1 1058.1h18.4m-9.2-9.2v18.4M710.7 1223.2h18.4m-9.2-9.2v18.4M786.5 1144.9h18.4m-9.2-9.2v18.4M699.5 1241.8h18.4m-9.2-9.2v18.4M866.7 1112.0h18.4m-9.2-9.2v18.4M977.7 1039.2h18.4m-9.2-9.2v18.4M735.5 1205.4h18.4m-9.2-9.2v18.4M944.4 1055.4h18.4m-9.2-9.2v18.4M814.6 1118.2h18.4m-9.2-9.2v18.4M823.4 1121.1h18.4m-9.2-9.2v18.4M859.6 1115.6h18.4m-9.2-9.2v18.4M963.4 1018.1h18.4m-9.2-9.2v18.4M721.2 1212.1h18.4m-9.2-9.2v18.4M852.1 1122.6h18.4m-9.2-9.2v18.4M841.3 1119.7h18.4m-9.2-9.2v18.4M995.7 1003.2h18.4m-9.2-9.2v18.4M764.6 1170.1h18.4m-9.2-9.2v18.4M739.6 1203.1h18.4m-9.2-9.2v18.4M992.3 1016.7h18.4m-9.2-9.2v18.4M947.9 1054.9h18.4m-9.2-9.2v18.4M765.6 1176.8h18.4m-9.2-9.2v18.4M903.7 1088.0h18.4m-9.2-9.2v18.4M867.5 1105.6h18.4m-9.2-9.2v18.4M996.8 1009.4h18.4m-9.2-9.2v18.4M953.6 1060.0h18.4m-9.2-9.2v18.4M993.4 992.8h18.4m-9.2-9.2v18.4M822.3 1116.5h18.4m-9.2-9.2v18.4M887.8 1104.3h18.4m-9.2-9.2v18.4M839.6 1115.4h18.4m-9.2-9.2v18.4M820.8 1135.3h18.4m-9.2-9.2v18.4M765.3 1167.4h18.4m-9.2-9.2v18.4M751.7 1190.7h18.4m-9.2-9.2v18.4M809.1 1133.9h18.4m-9.2-9.2v18.4M825.5 1130.1h18.4m-9.2-9.2v18.4M954.8 1056.3h18.4m-9.2-9.2v18.4M955.7 1042.5h18.4m-9.2-9.2v18.4M869.1 1105.0h18.4m-9.2-9.2v18.4M984.3 1001.4h18.4m-9.2-9.2v18.4M846.4 1106.2h18.4m-9.2-9.2v18.4M760.1 1170.1h18.4m-9.2-9.2v18.4M967.1 1020.5h18.4m-9.2-9.2v18.4M936.8 1053.3h18.4m-9.2-9.2v18.4M841.7 1115.9h18.4m-9.2-9.2v18.4M935.6 1070.2h18.4m-9.2-9.2v18.4M821.4 1155.0h18.4m-9.2-9.2v18.4M837.3 1160.0h18.4m-9.2-9.2v18.4M849.5 1166.0h18.4m-9.2-9.2v18.4M819.0 1172.0h18.4m-9.2-9.2v18.4M874.0 1172.0h18.4m-9.2-9.2v18.4M812.9 1200.0h18.4m-9.2-9.2v18.4M861.8 1202.6h18.4m-9.2-9.2v18.4M798.2 1214.8h18.4m-9.2-9.2v18.4M798.2 1229.5h18.4m-9.2-9.2v18.4M843.4 1235.6h18.4m-9.2-9.2v18.4M886.2 1123.3h18.4m-9.2-9.2v18.4M883.7 1145.2h18.4m-9.2-9.2v18.4M874.0 1208.7h18.4m-9.2-9.2v18.4M721.3 1240.5h18.4m-9.2-9.2v18.4M733.5 1238.0h18.4m-9.2-9.2v18.4M830.8 1165.0h18.4m-9.2-9.2v18.4M840.8 1175.0h18.4m-9.2-9.2v18.4M1470.3 644.1h18.4m-9.2-9.2v18.4M1462.9 651.5h18.4m-9.2-9.2v18.4M1457.4 658.8h18.4m-9.2-9.2v18.4M1475.7 662.5h18.4m-9.2-9.2v18.4M1450.1 675.3h18.4m-9.2-9.2v18.4M1444.6 682.6h18.4m-9.2-9.2v18.4M1486.7 669.8h18.4m-9.2-9.2v18.4M1497.7 671.6h18.4m-9.2-9.2v18.4M1508.7 662.5h18.4m-9.2-9.2v18.4M1516.0 669.8h18.4m-9.2-9.2v18.4M1523.4 662.5h18.4m-9.2-9.2v18.4M1530.7 657.0h18.4m-9.2-9.2v18.4M1539.8 651.5h18.4m-9.2-9.2v18.4M1549.0 658.8h18.4m-9.2-9.2v18.4M1560.0 666.1h18.4m-9.2-9.2v18.4M1565.5 673.4h18.4m-9.2-9.2v18.4M1574.6 644.1h18.4m-9.2-9.2v18.4M1580.1 633.2h18.4m-9.2-9.2v18.4M1585.6 629.5h18.4m-9.2-9.2v18.4M1594.8 602.0h18.4m-9.2-9.2v18.4M1604.0 602.0h18.4m-9.2-9.2v18.4M1613.1 607.5h18.4m-9.2-9.2v18.4M1622.3 609.3h18.4m-9.2-9.2v18.4M1631.4 607.5h18.4m-9.2-9.2v18.4M1640.6 607.5h18.4m-9.2-9.2v18.4M1651.6 611.2h18.4m-9.2-9.2v18.4M1658.9 609.3h18.4m-9.2-9.2v18.4M1668.1 605.7h18.4m-9.2-9.2v18.4M1677.2 607.5h18.4m-9.2-9.2v18.4M1686.4 611.2h18.4m-9.2-9.2v18.4M1695.5 589.2h18.4m-9.2-9.2v18.4M1704.7 581.9h18.4m-9.2-9.2v18.4M1713.8 563.6h18.4m-9.2-9.2v18.4M1717.5 559.9h18.4m-9.2-9.2v18.4M1604.0 614.8h18.4m-9.2-9.2v18.4M1613.1 614.8h18.4m-9.2-9.2v18.4M1622.3 616.7h18.4m-9.2-9.2v18.4M1594.8 614.8h18.4m-9.2-9.2v18.4M1585.6 616.7h18.4m-9.2-9.2v18.4M1631.4 614.8h18.4m-9.2-9.2v18.4M1649.7 614.8h18.4m-9.2-9.2v18.4M1658.9 616.7h18.4m-9.2-9.2v18.4M1668.1 618.5h18.4m-9.2-9.2v18.4M1677.2 614.8h18.4m-9.2-9.2v18.4M1688.2 614.8h18.4m-9.2-9.2v18.4M1430.0 711.9h18.4m-9.2-9.2v18.4M1437.3 699.1h18.4m-9.2-9.2v18.4M1426.3 721.1h18.4m-9.2-9.2v18.4M1444.6 700.9h18.4m-9.2-9.2v18.4M1466.6 693.6h18.4m-9.2-9.2v18.4M1475.7 706.4h18.4m-9.2-9.2v18.4M1490.4 702.7h18.4m-9.2-9.2v18.4M1494.1 695.4h18.4m-9.2-9.2v18.4M1538.0 699.1h18.4m-9.2-9.2v18.4M1549.0 688.1h18.4m-9.2-9.2v18.4M1431.8 735.7h18.4m-9.2-9.2v18.4M1439.1 743.0h18.4m-9.2-9.2v18.4M1585.6 633.2h18.4m-9.2-9.2v18.4M1594.8 633.2h18.4m-9.2-9.2v18.4M1604.0 629.5h18.4m-9.2-9.2v18.4M1622.3 636.8h18.4m-9.2-9.2v18.4M1640.6 633.2h18.4m-9.2-9.2v18.4M1658.9 625.8h18.4m-9.2-9.2v18.4M1501.4 678.9h18.4m-9.2-9.2v18.4M1530.7 669.8h18.4m-9.2-9.2v18.4M1704.7 592.9h18.4m-9.2-9.2v18.4M1713.8 578.2h18.4m-9.2-9.2v18.4M1754.0 579.5h18.4m-9.2-9.2v18.4M1775.2 581.8h18.4m-9.2-9.2v18.4M1772.6 568.8h18.4m-9.2-9.2v18.4M1750.1 581.6h18.4m-9.2-9.2v18.4M1759.8 553.7h18.4m-9.2-9.2v18.4M1719.5 591.3h18.4m-9.2-9.2v18.4M1751.9 583.3h18.4m-9.2-9.2v18.4M1713.4 583.6h18.4m-9.2-9.2v18.4M1738.1 556.9h18.4m-9.2-9.2v18.4M1747.4 556.8h18.4m-9.2-9.2v18.4M1753.5 577.7h18.4m-9.2-9.2v18.4M1771.7 582.4h18.4m-9.2-9.2v18.4M1754.7 559.8h18.4m-9.2-9.2v18.4M1709.8 580.8h18.4m-9.2-9.2v18.4M1724.7 577.8h18.4m-9.2-9.2v18.4M1775.1 579.3h18.4m-9.2-9.2v18.4M1721.1 571.5h18.4m-9.2-9.2v18.4M1764.3 559.5h18.4m-9.2-9.2v18.4M1757.6 573.4h18.4m-9.2-9.2v18.4M1736.6 591.7h18.4m-9.2-9.2v18.4M1741.5 565.1h18.4m-9.2-9.2v18.4M1724.8 593.6h18.4m-9.2-9.2v18.4M1764.1 589.0h18.4m-9.2-9.2v18.4M1712.0 569.3h18.4m-9.2-9.2v18.4M1774.5 581.4h18.4m-9.2-9.2v18.4M1746.5 565.3h18.4m-9.2-9.2v18.4M1725.5 590.5h18.4m-9.2-9.2v18.4M1751.0 560.4h18.4m-9.2-9.2v18.4M1697.9 573.7h18.4m-9.2-9.2v18.4M1710.8 564.3h18.4m-9.2-9.2v18.4M1709.3 597.2h18.4m-9.2-9.2v18.4M1761.5 556.3h18.4m-9.2-9.2v18.4M1662.7 615.1h18.4m-9.2-9.2v18.4M1690.6 599.3h18.4m-9.2-9.2v18.4M1679.6 599.1h18.4m-9.2-9.2v18.4M1686.6 613.7h18.4m-9.2-9.2v18.4M1690.3 598.3h18.4m-9.2-9.2v18.4M1689.6 605.3h18.4m-9.2-9.2v18.4M1691.4 600.3h18.4m-9.2-9.2v18.4M1887.9 525.3h18.4m-9.2-9.2v18.4M1743.7 586.6h18.4m-9.2-9.2v18.4M2019.6 507.3h18.4m-9.2-9.2v18.4M1790.4 573.1h18.4m-9.2-9.2v18.4M1888.0 523.2h18.4m-9.2-9.2v18.4M1735.7 567.8h18.4m-9.2-9.2v18.4M1723.9 586.3h18.4m-9.2-9.2v18.4M1845.2 557.9h18.4m-9.2-9.2v18.4M1887.0 524.2h18.4m-9.2-9.2v18.4M1865.8 544.5h18.4m-9.2-9.2v18.4M1979.7 525.5h18.4m-9.2-9.2v18.4M1988.0 523.7h18.4m-9.2-9.2v18.4M1854.3 537.1h18.4m-9.2-9.2v18.4M1736.4 566.3h18.4m-9.2-9.2v18.4M2007.9 516.5h18.4m-9.2-9.2v18.4M1946.7 541.8h18.4m-9.2-9.2v18.4M1983.9 514.3h18.4m-9.2-9.2v18.4M2017.1 513.0h18.4m-9.2-9.2v18.4M1932.2 531.5h18.4m-9.2-9.2v18.4M1838.4 559.3h18.4m-9.2-9.2v18.4M1871.5 526.9h18.4m-9.2-9.2v18.4M1755.8 561.6h18.4m-9.2-9.2v18.4M1787.7 545.4h18.4m-9.2-9.2v18.4M1790.4 562.3h18.4m-9.2-9.2v18.4M1791.2 549.5h18.4m-9.2-9.2v18.4M1883.2 538.5h18.4m-9.2-9.2v18.4M1803.6 563.8h18.4m-9.2-9.2v18.4M1865.3 542.9h18.4m-9.2-9.2v18.4M1757.0 587.3h18.4m-9.2-9.2v18.4M1882.7 528.7h18.4m-9.2-9.2v18.4M1765.0 577.2h18.4m-9.2-9.2v18.4M1763.7 583.6h18.4m-9.2-9.2v18.4M1877.8 543.1h18.4m-9.2-9.2v18.4M1955.6 518.3h18.4m-9.2-9.2v18.4M1785.2 575.3h18.4m-9.2-9.2v18.4M1742.4 586.8h18.4m-9.2-9.2v18.4M1764.7 560.5h18.4m-9.2-9.2v18.4M1767.5 558.9h18.4m-9.2-9.2v18.4M1961.9 517.9h18.4m-9.2-9.2v18.4M1746.2 579.3h18.4m-9.2-9.2v18.4M1750.7 580.9h18.4m-9.2-9.2v18.4M2001.2 529.9h18.4m-9.2-9.2v18.4M1872.8 539.6h18.4m-9.2-9.2v18.4M1965.9 508.7h18.4m-9.2-9.2v18.4M1824.1 551.8h18.4m-9.2-9.2v18.4M1762.7 554.0h18.4m-9.2-9.2v18.4M1874.7 520.3h18.4m-9.2-9.2v18.4M1923.5 539.2h18.4m-9.2-9.2v18.4M2004.9 526.4h18.4m-9.2-9.2v18.4M1822.2 564.7h18.4m-9.2-9.2v18.4M2019.4 528.5h18.4m-9.2-9.2v18.4M1874.4 545.0h18.4m-9.2-9.2v18.4M1958.1 533.6h18.4m-9.2-9.2v18.4M1950.5 544.5h18.4m-9.2-9.2v18.4M1830.1 543.4h18.4m-9.2-9.2v18.4M1875.9 543.2h18.4m-9.2-9.2v18.4M1836.4 565.2h18.4m-9.2-9.2v18.4M1992.4 526.2h18.4m-9.2-9.2v18.4M1849.8 542.4h18.4m-9.2-9.2v18.4M1734.1 591.1h18.4m-9.2-9.2v18.4M1813.5 546.3h18.4m-9.2-9.2v18.4M1901.2 537.9h18.4m-9.2-9.2v18.4M1970.7 521.8h18.4m-9.2-9.2v18.4M1966.9 524.6h18.4m-9.2-9.2v18.4M1955.2 521.9h18.4m-9.2-9.2v18.4M1818.9 541.9h18.4m-9.2-9.2v18.4M2002.9 518.9h18.4m-9.2-9.2v18.4M1806.8 550.0h18.4m-9.2-9.2v18.4M2009.5 523.8h18.4m-9.2-9.2v18.4M1926.0 537.5h18.4m-9.2-9.2v18.4M1876.2 527.4h18.4m-9.2-9.2v18.4M1882.6 527.2h18.4m-9.2-9.2v18.4M2018.7 523.4h18.4m-9.2-9.2v18.4M2009.6 512.2h18.4m-9.2-9.2v18.4M1995.0 514.6h18.4m-9.2-9.2v18.4M2001.4 515.0h18.4m-9.2-9.2v18.4M1947.8 537.4h18.4m-9.2-9.2v18.4M1966.8 530.2h18.4m-9.2-9.2v18.4M1794.2 555.4h18.4m-9.2-9.2v18.4M1796.7 568.5h18.4m-9.2-9.2v18.4M1723.8 575.5h18.4m-9.2-9.2v18.4M2015.6 523.8h18.4m-9.2-9.2v18.4M1856.3 534.6h18.4m-9.2-9.2v18.4M1859.2 559.5h18.4m-9.2-9.2v18.4M1774.8 564.5h18.4m-9.2-9.2v18.4M1984.6 517.6h18.4m-9.2-9.2v18.4M1813.7 568.4h18.4m-9.2-9.2v18.4M2000.2 516.6h18.4m-9.2-9.2v18.4M1827.7 546.9h18.4m-9.2-9.2v18.4M1819.8 539.9h18.4m-9.2-9.2v18.4M1990.6 525.7h18.4m-9.2-9.2v18.4M1782.3 568.0h18.4m-9.2-9.2v18.4M1914.7 535.7h18.4m-9.2-9.2v18.4M1791.1 568.2h18.4m-9.2-9.2v18.4M1722.9 580.7h18.4m-9.2-9.2v18.4M1989.8 525.3h18.4m-9.2-9.2v18.4M1763.7 559.0h18.4m-9.2-9.2v18.4M1926.6 541.5h18.4m-9.2-9.2v18.4M1885.1 523.0h18.4m-9.2-9.2v18.4M2017.9 527.9h18.4m-9.2-9.2v18.4M1915.7 526.4h18.4m-9.2-9.2v18.4M1789.5 572.7h18.4m-9.2-9.2v18.4M1744.5 581.7h18.4m-9.2-9.2v18.4M1960.2 510.7h18.4m-9.2-9.2v18.4M1951.6 523.4h18.4m-9.2-9.2v18.4M1789.8 555.2h18.4m-9.2-9.2v18.4M1813.0 566.0h18.4m-9.2-9.2v18.4M1783.7 552.5h18.4m-9.2-9.2v18.4M1984.0 520.4h18.4m-9.2-9.2v18.4M2007.5 516.9h18.4m-9.2-9.2v18.4M1783.1 579.6h18.4m-9.2-9.2v18.4M1845.1 561.2h18.4m-9.2-9.2v18.4M1927.1 536.5h18.4m-9.2-9.2v18.4M1984.7 512.7h18.4m-9.2-9.2v18.4M1972.2 514.5h18.4m-9.2-9.2v18.4M1886.8 534.8h18.4m-9.2-9.2v18.4M1885.3 518.9h18.4m-9.2-9.2v18.4M1952.6 538.9h18.4m-9.2-9.2v18.4M1747.7 560.5h18.4m-9.2-9.2v18.4M1825.7 548.9h18.4m-9.2-9.2v18.4M1949.7 531.7h18.4m-9.2-9.2v18.4M1780.8 574.3h18.4m-9.2-9.2v18.4M1832.0 565.6h18.4m-9.2-9.2v18.4M1936.7 543.2h18.4m-9.2-9.2v18.4M1864.0 543.3h18.4m-9.2-9.2v18.4M1735.3 573.4h18.4m-9.2-9.2v18.4M1813.2 543.3h18.4m-9.2-9.2v18.4M1742.1 572.5h18.4m-9.2-9.2v18.4M1921.7 534.4h18.4m-9.2-9.2v18.4M1964.0 529.0h18.4m-9.2-9.2v18.4M1850.0 550.5h18.4m-9.2-9.2v18.4M1800.1 575.2h18.4m-9.2-9.2v18.4M1743.8 573.7h18.4m-9.2-9.2v18.4M1863.1 535.7h18.4m-9.2-9.2v18.4M1808.6 571.9h18.4m-9.2-9.2v18.4M1785.4 573.4h18.4m-9.2-9.2v18.4M1928.4 525.4h18.4m-9.2-9.2v18.4M1993.7 521.2h18.4m-9.2-9.2v18.4M1796.0 566.2h18.4m-9.2-9.2v18.4M1990.7 514.5h18.4m-9.2-9.2v18.4M1876.0 535.9h18.4m-9.2-9.2v18.4M1766.7 573.6h18.4m-9.2-9.2v18.4M1966.5 529.6h18.4m-9.2-9.2v18.4M1978.9 516.4h18.4m-9.2-9.2v18.4M1896.3 525.5h18.4m-9.2-9.2v18.4M1773.7 560.3h18.4m-9.2-9.2v18.4M1953.5 524.6h18.4m-9.2-9.2v18.4M1811.3 559.7h18.4m-9.2-9.2v18.4M1952.2 526.6h18.4m-9.2-9.2v18.4M1782.4 559.8h18.4m-9.2-9.2v18.4M1740.8 588.2h18.4m-9.2-9.2v18.4M1730.9 578.4h18.4m-9.2-9.2v18.4M1749.2 590.1h18.4m-9.2-9.2v18.4M1818.9 551.6h18.4m-9.2-9.2v18.4M1794.4 572.2h18.4m-9.2-9.2v18.4M1998.2 528.1h18.4m-9.2-9.2v18.4M1751.0 567.0h18.4m-9.2-9.2v18.4M1968.2 509.8h18.4m-9.2-9.2v18.4M1921.3 527.4h18.4m-9.2-9.2v18.4M1756.8 573.2h18.4m-9.2-9.2v18.4M1850.7 558.3h18.4m-9.2-9.2v18.4M1882.0 509.9h18.4m-9.2-9.2v18.4M1758.1 588.2h18.4m-9.2-9.2v18.4M1693.4 576.0h18.4m-9.2-9.2v18.4M1754.3 567.3h18.4m-9.2-9.2v18.4M1824.9 550.3h18.4m-9.2-9.2v18.4M1855.0 569.6h18.4m-9.2-9.2v18.4M1709.7 590.3h18.4m-9.2-9.2v18.4M1835.8 532.5h18.4m-9.2-9.2v18.4M1839.4 569.4h18.4m-9.2-9.2v18.4M1868.9 530.3h18.4m-9.2-9.2v18.4M1761.6 545.4h18.4m-9.2-9.2v18.4M1787.2 560.8h18.4m-9.2-9.2v18.4M1883.1 530.5h18.4m-9.2-9.2v18.4M1716.7 579.0h18.4m-9.2-9.2v18.4M1698.3 564.6h18.4m-9.2-9.2v18.4M1744.5 564.4h18.4m-9.2-9.2v18.4M1834.7 569.1h18.4m-9.2-9.2v18.4M1786.5 575.6h18.4m-9.2-9.2v18.4M1856.0 542.8h18.4m-9.2-9.2v18.4M1825.1 568.9h18.4m-9.2-9.2v18.4M1744.8 559.3h18.4m-9.2-9.2v18.4M1705.6 574.2h18.4m-9.2-9.2v18.4M1781.6 582.6h18.4m-9.2-9.2v18.4M1879.6 532.4h18.4m-9.2-9.2v18.4M1828.1 541.7h18.4m-9.2-9.2v18.4M1812.7 561.9h18.4m-9.2-9.2v18.4M1885.4 523.5h18.4m-9.2-9.2v18.4M1873.2 557.0h18.4m-9.2-9.2v18.4M1886.4 541.9h18.4m-9.2-9.2v18.4M1708.3 559.2h18.4m-9.2-9.2v18.4M1740.1 591.4h18.4m-9.2-9.2v18.4M1796.4 546.3h18.4m-9.2-9.2v18.4M1885.5 536.5h18.4m-9.2-9.2v18.4M1816.1 537.1h18.4m-9.2-9.2v18.4M1829.2 553.4h18.4m-9.2-9.2v18.4M1777.9 553.6h18.4m-9.2-9.2v18.4M1761.2 581.4h18.4m-9.2-9.2v18.4M1849.1 544.4h18.4m-9.2-9.2v18.4M1760.1 557.4h18.4m-9.2-9.2v18.4M1713.0 573.1h18.4m-9.2-9.2v18.4M1819.0 562.8h18.4m-9.2-9.2v18.4M1762.9 543.9h18.4m-9.2-9.2v18.4M1863.6 554.3h18.4m-9.2-9.2v18.4M1697.0 582.5h18.4m-9.2-9.2v18.4M1693.4 593.9h18.4m-9.2-9.2v18.4M1757.3 544.2h18.4m-9.2-9.2v18.4M1800.9 570.3h18.4m-9.2-9.2v18.4M1725.8 559.9h18.4m-9.2-9.2v18.4M1761.2 543.8h18.4m-9.2-9.2v18.4M1695.1 561.9h18.4m-9.2-9.2v18.4M1762.4 549.3h18.4m-9.2-9.2v18.4M1823.6 556.0h18.4m-9.2-9.2v18.4M1728.4 563.0h18.4m-9.2-9.2v18.4M1886.1 526.0h18.4m-9.2-9.2v18.4M1752.2 557.5h18.4m-9.2-9.2v18.4M1716.1 587.5h18.4m-9.2-9.2v18.4M1833.1 572.0h18.4m-9.2-9.2v18.4M1710.5 561.8h18.4m-9.2-9.2v18.4M1826.2 540.3h18.4m-9.2-9.2v18.4M1860.4 563.0h18.4m-9.2-9.2v18.4M1691.2 572.7h18.4m-9.2-9.2v18.4M1850.4 551.9h18.4m-9.2-9.2v18.4M1751.8 550.4h18.4m-9.2-9.2v18.4M1827.6 540.0h18.4m-9.2-9.2v18.4M1748.9 580.7h18.4m-9.2-9.2v18.4M1841.3 558.2h18.4m-9.2-9.2v18.4M1780.4 584.3h18.4m-9.2-9.2v18.4M1880.0 545.3h18.4m-9.2-9.2v18.4M1822.9 577.9h18.4m-9.2-9.2v18.4M1869.7 540.4h18.4m-9.2-9.2v18.4M1798.0 563.7h18.4m-9.2-9.2v18.4M1832.2 548.8h18.4m-9.2-9.2v18.4M1720.3 555.0h18.4m-9.2-9.2v18.4M1770.7 554.7h18.4m-9.2-9.2v18.4M1888.5 538.7h18.4m-9.2-9.2v18.4M1692.0 598.6h18.4m-9.2-9.2v18.4M1787.3 544.3h18.4m-9.2-9.2v18.4M1738.4 560.4h18.4m-9.2-9.2v18.4M1760.8 549.7h18.4m-9.2-9.2v18.4M1799.1 579.9h18.4m-9.2-9.2v18.4M1871.9 565.8h18.4m-9.2-9.2v18.4M1743.2 591.9h18.4m-9.2-9.2v18.4M1817.1 553.8h18.4m-9.2-9.2v18.4M1888.9 553.8h18.4m-9.2-9.2v18.4M1695.7 593.7h18.4m-9.2-9.2v18.4M1846.5 551.4h18.4m-9.2-9.2v18.4M1755.5 580.9h18.4m-9.2-9.2v18.4M1892.7 524.0h18.4m-9.2-9.2v18.4M1716.2 583.6h18.4m-9.2-9.2v18.4M1814.1 554.9h18.4m-9.2-9.2v18.4M1790.4 563.2h18.4m-9.2-9.2v18.4M1707.0 585.4h18.4m-9.2-9.2v18.4M1836.5 546.4h18.4m-9.2-9.2v18.4M1765.7 588.0h18.4m-9.2-9.2v18.4M1834.6 568.9h18.4m-9.2-9.2v18.4M1871.7 546.7h18.4m-9.2-9.2v18.4M1806.8 566.9h18.4m-9.2-9.2v18.4M1803.2 576.3h18.4m-9.2-9.2v18.4M1776.2 557.4h18.4m-9.2-9.2v18.4M1769.3 571.0h18.4m-9.2-9.2v18.4M1856.4 569.1h18.4m-9.2-9.2v18.4M1764.3 575.9h18.4m-9.2-9.2v18.4M1728.0 588.5h18.4m-9.2-9.2v18.4M1877.1 553.4h18.4m-9.2-9.2v18.4M1755.3 544.6h18.4m-9.2-9.2v18.4M1874.5 558.2h18.4m-9.2-9.2v18.4M1703.3 570.2h18.4m-9.2-9.2v18.4M1837.5 558.1h18.4m-9.2-9.2v18.4M1862.8 557.3h18.4m-9.2-9.2v18.4M1823.7 573.3h18.4m-9.2-9.2v18.4M1731.4 561.2h18.4m-9.2-9.2v18.4M1775.6 549.3h18.4m-9.2-9.2v18.4M1728.3 587.6h18.4m-9.2-9.2v18.4M1750.7 548.3h18.4m-9.2-9.2v18.4M1692.9 575.6h18.4m-9.2-9.2v18.4M1737.9 575.8h18.4m-9.2-9.2v18.4M1843.9 531.1h18.4m-9.2-9.2v18.4M1801.6 582.4h18.4m-9.2-9.2v18.4M1715.5 589.1h18.4m-9.2-9.2v18.4M1804.8 551.1h18.4m-9.2-9.2v18.4M1887.3 531.7h18.4m-9.2-9.2v18.4M1820.5 549.4h18.4m-9.2-9.2v18.4M1727.2 563.6h18.4m-9.2-9.2v18.4M1786.0 569.5h18.4m-9.2-9.2v18.4M1882.9 559.3h18.4m-9.2-9.2v18.4M1718.2 553.7h18.4m-9.2-9.2v18.4M1703.7 569.9h18.4m-9.2-9.2v18.4M1759.3 554.9h18.4m-9.2-9.2v18.4M1784.0 548.8h18.4m-9.2-9.2v18.4M1839.8 537.0h18.4m-9.2-9.2v18.4M1810.1 550.8h18.4m-9.2-9.2v18.4M1776.2 573.1h18.4m-9.2-9.2v18.4M1775.2 555.1h18.4m-9.2-9.2v18.4M1797.9 540.0h18.4m-9.2-9.2v18.4M1891.0 543.5h18.4m-9.2-9.2v18.4M1837.3 546.7h18.4m-9.2-9.2v18.4M1777.0 540.6h18.4m-9.2-9.2v18.4M1825.6 552.3h18.4m-9.2-9.2v18.4M1776.1 563.7h18.4m-9.2-9.2v18.4M1747.6 585.1h18.4m-9.2-9.2v18.4M1859.8 562.1h18.4m-9.2-9.2v18.4M1698.8 586.5h18.4m-9.2-9.2v18.4M1845.7 560.8h18.4m-9.2-9.2v18.4M1858.4 555.8h18.4m-9.2-9.2v18.4M1743.9 551.1h18.4m-9.2-9.2v18.4M1768.2 574.0h18.4m-9.2-9.2v18.4M1798.3 579.6h18.4m-9.2-9.2v18.4M1863.6 551.1h18.4m-9.2-9.2v18.4M1867.3 537.3h18.4m-9.2-9.2v18.4M1824.5 538.0h18.4m-9.2-9.2v18.4M1808.2 545.7h18.4m-9.2-9.2v18.4M1835.0 543.6h18.4m-9.2-9.2v18.4M1847.5 561.8h18.4m-9.2-9.2v18.4M1705.4 581.0h18.4m-9.2-9.2v18.4M1806.6 544.2h18.4m-9.2-9.2v18.4M1787.6 579.1h18.4m-9.2-9.2v18.4M1692.4 565.9h18.4m-9.2-9.2v18.4M1736.3 552.4h18.4m-9.2-9.2v18.4M1860.0 540.1h18.4m-9.2-9.2v18.4M1782.8 546.5h18.4m-9.2-9.2v18.4M1790.8 546.5h18.4m-9.2-9.2v18.4M1798.8 546.5h18.4m-9.2-9.2v18.4M1806.8 546.5h18.4m-9.2-9.2v18.4M1814.8 546.5h18.4m-9.2-9.2v18.4M1822.8 546.5h18.4m-9.2-9.2v18.4M1830.8 546.5h18.4m-9.2-9.2v18.4M1838.8 546.5h18.4m-9.2-9.2v18.4M1846.8 546.5h18.4m-9.2-9.2v18.4M1854.8 546.5h18.4m-9.2-9.2v18.4M1862.8 546.5h18.4m-9.2-9.2v18.4M1610.5 640.8h18.4m-9.2-9.2v18.4M1521.2 673.0h18.4m-9.2-9.2v18.4M1538.3 668.0h18.4m-9.2-9.2v18.4M1534.0 657.9h18.4m-9.2-9.2v18.4M1652.4 624.3h18.4m-9.2-9.2v18.4M1654.0 615.2h18.4m-9.2-9.2v18.4M1528.4 675.2h18.4m-9.2-9.2v18.4M1648.4 629.4h18.4m-9.2-9.2v18.4M1522.6 664.7h18.4m-9.2-9.2v18.4M1631.6 634.0h18.4m-9.2-9.2v18.4M1645.6 618.6h18.4m-9.2-9.2v18.4M1641.4 626.0h18.4m-9.2-9.2v18.4M1582.4 649.3h18.4m-9.2-9.2v18.4M1542.1 653.3h18.4m-9.2-9.2v18.4M1542.0 663.7h18.4m-9.2-9.2v18.4M1671.8 627.0h18.4m-9.2-9.2v18.4M1528.7 663.1h18.4m-9.2-9.2v18.4M1499.3 660.3h18.4m-9.2-9.2v18.4M1515.0 654.2h18.4m-9.2-9.2v18.4M1539.4 672.7h18.4m-9.2-9.2v18.4M1520.7 660.3h18.4m-9.2-9.2v18.4M1664.4 629.6h18.4m-9.2-9.2v18.4M1518.1 675.8h18.4m-9.2-9.2v18.4M1564.1 650.0h18.4m-9.2-9.2v18.4M1535.3 658.0h18.4m-9.2-9.2v18.4M1506.6 668.0h18.4m-9.2-9.2v18.4M1665.5 610.9h18.4m-9.2-9.2v18.4M1578.2 643.9h18.4m-9.2-9.2v18.4M1689.0 611.2h18.4m-9.2-9.2v18.4M1502.3 669.3h18.4m-9.2-9.2v18.4M1651.9 623.5h18.4m-9.2-9.2v18.4M1590.7 658.7h18.4m-9.2-9.2v18.4M1606.3 636.8h18.4m-9.2-9.2v18.4M1612.6 638.5h18.4m-9.2-9.2v18.4M1621.7 641.1h18.4m-9.2-9.2v18.4M1522.2 671.3h18.4m-9.2-9.2v18.4M1681.0 619.3h18.4m-9.2-9.2v18.4M1675.9 610.4h18.4m-9.2-9.2v18.4M1530.7 665.2h18.4m-9.2-9.2v18.4M1635.5 628.5h18.4m-9.2-9.2v18.4M1510.4 678.1h18.4m-9.2-9.2v18.4M1523.6 655.5h18.4m-9.2-9.2v18.4M1549.8 669.5h18.4m-9.2-9.2v18.4M1687.6 604.6h18.4m-9.2-9.2v18.4M1569.2 649.4h18.4m-9.2-9.2v18.4M1543.4 665.6h18.4m-9.2-9.2v18.4M1566.6 652.8h18.4m-9.2-9.2v18.4M1523.3 655.7h18.4m-9.2-9.2v18.4M1550.0 665.3h18.4m-9.2-9.2v18.4M2118.0 512.1h18.4m-9.2-9.2v18.4M2033.1 511.3h18.4m-9.2-9.2v18.4M2056.1 510.0h18.4m-9.2-9.2v18.4M2123.2 510.0h18.4m-9.2-9.2v18.4M2146.1 500.9h18.4m-9.2-9.2v18.4M2098.5 490.8h18.4m-9.2-9.2v18.4M2033.3 496.1h18.4m-9.2-9.2v18.4M2146.2 508.7h18.4m-9.2-9.2v18.4M2151.7 507.6h18.4m-9.2-9.2v18.4M2036.5 490.2h18.4m-9.2-9.2v18.4M2126.3 500.0h18.4m-9.2-9.2v18.4M2138.6 493.0h18.4m-9.2-9.2v18.4M2101.0 499.3h18.4m-9.2-9.2v18.4M2137.0 514.3h18.4m-9.2-9.2v18.4M2135.1 515.0h18.4m-9.2-9.2v18.4M2060.8 491.3h18.4m-9.2-9.2v18.4M2127.8 501.8h18.4m-9.2-9.2v18.4M2036.9 496.9h18.4m-9.2-9.2v18.4M2099.6 491.1h18.4m-9.2-9.2v18.4M2032.7 495.2h18.4m-9.2-9.2v18.4M2055.6 520.8h18.4m-9.2-9.2v18.4M2112.9 516.1h18.4m-9.2-9.2v18.4M2051.0 518.8h18.4m-9.2-9.2v18.4M2059.2 517.6h18.4m-9.2-9.2v18.4M2067.8 517.3h18.4m-9.2-9.2v18.4M2070.8 491.9h18.4m-9.2-9.2v18.4M2132.4 516.7h18.4m-9.2-9.2v18.4M2113.0 510.3h18.4m-9.2-9.2v18.4M2040.9 493.2h18.4m-9.2-9.2v18.4M2052.0 509.8h18.4m-9.2-9.2v18.4M2091.4 490.7h18.4m-9.2-9.2v18.4M2095.4 512.7h18.4m-9.2-9.2v18.4M2053.7 516.8h18.4m-9.2-9.2v18.4M2127.8 495.5h18.4m-9.2-9.2v18.4M2108.0 504.5h18.4m-9.2-9.2v18.4M2048.3 502.3h18.4m-9.2-9.2v18.4M2062.7 495.0h18.4m-9.2-9.2v18.4M2061.2 492.1h18.4m-9.2-9.2v18.4M2027.5 511.7h18.4m-9.2-9.2v18.4M2067.2 511.0h18.4m-9.2-9.2v18.4M2124.1 497.3h18.4m-9.2-9.2v18.4M2094.0 510.9h18.4m-9.2-9.2v18.4M2048.6 515.9h18.4m-9.2-9.2v18.4M2078.2 512.2h18.4m-9.2-9.2v18.4M2084.9 511.9h18.4m-9.2-9.2v18.4M2128.3 516.3h18.4m-9.2-9.2v18.4M2036.5 494.6h18.4m-9.2-9.2v18.4M2076.0 518.6h18.4m-9.2-9.2v18.4M2082.2 517.9h18.4m-9.2-9.2v18.4M2095.4 503.8h18.4m-9.2-9.2v18.4M2036.4 502.8h18.4m-9.2-9.2v18.4M2122.4 501.7h18.4m-9.2-9.2v18.4M2117.0 511.6h18.4m-9.2-9.2v18.4M2030.1 497.3h18.4m-9.2-9.2v18.4M2160.4 501.7h18.4m-9.2-9.2v18.4M2125.9 505.6h18.4m-9.2-9.2v18.4M2109.5 499.6h18.4m-9.2-9.2v18.4M2067.6 493.4h18.4m-9.2-9.2v18.4M2080.8 509.4h18.4m-9.2-9.2v18.4M2114.9 514.9h18.4m-9.2-9.2v18.4M2085.3 513.8h18.4m-9.2-9.2v18.4M2087.9 501.7h18.4m-9.2-9.2v18.4M2129.8 504.3h18.4m-9.2-9.2v18.4M2048.6 510.0h18.4m-9.2-9.2v18.4M2116.2 512.4h18.4m-9.2-9.2v18.4M2150.7 503.4h18.4m-9.2-9.2v18.4M2033.3 494.0h18.4m-9.2-9.2v18.4M2040.0 507.5h18.4m-9.2-9.2v18.4M2075.3 506.3h18.4m-9.2-9.2v18.4M2118.6 512.6h18.4m-9.2-9.2v18.4M2098.7 516.7h18.4m-9.2-9.2v18.4M2146.3 509.2h18.4m-9.2-9.2v18.4M2056.1 489.6h18.4m-9.2-9.2v18.4M2115.6 510.3h18.4m-9.2-9.2v18.4M2051.2 515.5h18.4m-9.2-9.2v18.4M2152.2 508.9h18.4m-9.2-9.2v18.4M2058.6 491.1h18.4m-9.2-9.2v18.4M2152.7 501.2h18.4m-9.2-9.2v18.4M2147.5 503.9h18.4m-9.2-9.2v18.4M2060.8 504.5h18.4m-9.2-9.2v18.4M2069.4 509.7h18.4m-9.2-9.2v18.4M2153.8 497.1h18.4m-9.2-9.2v18.4M2113.6 494.9h18.4m-9.2-9.2v18.4M2113.0 505.8h18.4m-9.2-9.2v18.4M2120.3 506.0h18.4m-9.2-9.2v18.4M2140.1 507.8h18.4m-9.2-9.2v18.4M2052.3 492.8h18.4m-9.2-9.2v18.4M2149.1 496.2h18.4m-9.2-9.2v18.4M2038.3 513.8h18.4m-9.2-9.2v18.4M2055.5 520.8h18.4m-9.2-9.2v18.4M2143.6 505.6h18.4m-9.2-9.2v18.4M2034.4 510.5h18.4m-9.2-9.2v18.4M2150.1 502.1h18.4m-9.2-9.2v18.4M2053.6 491.4h18.4m-9.2-9.2v18.4M2111.8 494.9h18.4m-9.2-9.2v18.4M2026.6 499.1h18.4m-9.2-9.2v18.4" stroke="#0000ff" stroke-width="2.4" fill="none"/>
<path d="M641.8 1361.0h18.4m-9.2-9.2v18.4M644.7 1360.2h18.4m-9.2-9.2v18.4M654.0 1351.0h18.4m-9.2-9.2v18.4M659.9 1339.4h18.4m-9.2-9.2v18.4M651.0 1327.3h18.4m-9.2-9.2v18.4M645.5 1357.4h18.4m-9.2-9.2v18.4M680.8 1325.0h18.4m-9.2-9.2v18.4M648.0 1359.4h18.4m-9.2-9.2v18.4M661.0 1323.0h18.4m-9.2-9.2v18.4M667.1 1365.7h18.4m-9.2-9.2v18.4M685.4 1342.5h18.4m-9.2-9.2v18.4M667.6 1353.9h18.4m-9.2-9.2v18.4M655.8 1312.3h18.4m-9.2-9.2v18.4M665.7 1316.7h18.4m-9.2-9.2v18.4M652.8 1328.6h18.4m-9.2-9.2v18.4M666.8 1312.6h18.4m-9.2-9.2v18.4M650.0 1310.7h18.4m-9.2-9.2v18.4M684.7 1369.2h18.4m-9.2-9.2v18.4M676.5 1311.2h18.4m-9.2-9.2v18.4M643.8 1355.5h18.4m-9.2-9.2v18.4M663.4 1352.5h18.4m-9.2-9.2v18.4M656.6 1365.3h18.4m-9.2-9.2v18.4M653.6 1345.5h18.4m-9.2-9.2v18.4M668.6 1326.1h18.4m-9.2-9.2v18.4M652.8 1367.5h18.4m-9.2-9.2v18.4M688.5 1361.2h18.4m-9.2-9.2v18.4M677.4 1344.2h18.4m-9.2-9.2v18.4M654.8 1316.3h18.4m-9.2-9.2v18.4M689.2 1356.6h18.4m-9.2-9.2v18.4M651.2 1363.0h18.4m-9.2-9.2v18.4M669.4 1315.5h18.4m-9.2-9.2v18.4M654.8 1324.2h18.4m-9.2-9.2v18.4M679.7 1359.5h18.4m-9.2-9.2v18.4M671.9 1336.2h18.4m-9.2-9.2v18.4M684.6 1334.4h18.4m-9.2-9.2v18.4M644.9 1349.1h18.4m-9.2-9.2v18.4M687.6 1363.4h18.4m-9.2-9.2v18.4M683.1 1336.2h18.4m-9.2-9.2v18.4M663.9 1348.3h18.4m-9.2-9.2v18.4M666.8 1365.1h18.4m-9.2-9.2v18.4M674.8 1360.8h18.4m-9.2-9.2v18.4M671.1 1313.8h18.4m-9.2-9.2v18.4M641.2 1324.7h18.4m-9.2-9.2v18.4M670.0 1363.1h18.4m-9.2-9.2v18.4M686.8 1345.7h18.4m-9.2-9.2v18.4M651.7 1345.5h18.4m-9.2-9.2v18.4M650.4 1341.2h18.4m-9.2-9.2v18.4M664.4 1366.1h18.4m-9.2-9.2v18.4M687.4 1313.0h18.4m-9.2-9.2v18.4M682.7 1346.1h18.4m-9.2-9.2v18.4M670.4 1336.9h18.4m-9.2-9.2v18.4M686.6 1356.6h18.4m-9.2-9.2v18.4M644.9 1330.8h18.4m-9.2-9.2v18.4M650.9 1323.3h18.4m-9.2-9.2v18.4M648.3 1350.3h18.4m-9.2-9.2v18.4M657.4 1324.9h18.4m-9.2-9.2v18.4M655.2 1360.7h18.4m-9.2-9.2v18.4M645.0 1362.2h18.4m-9.2-9.2v18.4M670.4 1338.7h18.4m-9.2-9.2v18.4M646.0 1369.8h18.4m-9.2-9.2v18.4M683.2 1347.2h18.4m-9.2-9.2v18.4M666.7 1346.8h18.4m-9.2-9.2v18.4M658.7 1311.7h18.4m-9.2-9.2v18.4M647.3 1330.2h18.4m-9.2-9.2v18.4M642.5 1355.5h18.4m-9.2-9.2v18.4M667.7 1360.4h18.4m-9.2-9.2v18.4M686.4 1345.0h18.4m-9.2-9.2v18.4M673.8 1323.2h18.4m-9.2-9.2v18.4M642.6 1354.1h18.4m-9.2-9.2v18.4M685.8 1322.9h18.4m-9.2-9.2v18.4M684.2 1335.3h18.4m-9.2-9.2v18.4M669.5 1363.0h18.4m-9.2-9.2v18.4M721.7 1282.9h18.4m-9.2-9.2v18.4M674.9 1271.0h18.4m-9.2-9.2v18.4M687.1 1258.0h18.4m-9.2-9.2v18.4M721.1 1277.9h18.4m-9.2-9.2v18.4M726.7 1264.9h18.4m-9.2-9.2v18.4M694.5 1280.9h18.4m-9.2-9.2v18.4M710.9 1286.8h18.4m-9.2-9.2v18.4M701.3 1283.0h18.4m-9.2-9.2v18.4M677.8 1270.6h18.4m-9.2-9.2v18.4M706.4 1265.9h18.4m-9.2-9.2v18.4M734.4 1281.9h18.4m-9.2-9.2v18.4M738.5 1288.8h18.4m-9.2-9.2v18.4M688.9 1287.1h18.4m-9.2-9.2v18.4M720.9 1260.8h18.4m-9.2-9.2v18.4M681.2 1261.2h18.4m-9.2-9.2v18.4M717.9 1262.2h18.4m-9.2-9.2v18.4M695.1 1264.5h18.4m-9.2-9.2v18.4M679.9 1267.0h18.4m-9.2-9.2v18.4M684.9 1289.4h18.4m-9.2-9.2v18.4M734.7 1262.4h18.4m-9.2-9.2v18.4M687.5 1289.6h18.4m-9.2-9.2v18.4M696.3 1267.2h18.4m-9.2-9.2v18.4M758.8 1168.0h18.4m-9.2-9.2v18.4M768.8 1178.0h18.4m-9.2-9.2v18.4M778.8 1172.0h18.4m-9.2-9.2v18.4M675.8 1469.0h18.4m-9.2-9.2v18.4M535.8 1500.0h18.4m-9.2-9.2v18.4M603.8 1529.0h18.4m-9.2-9.2v18.4M550.8 1355.0h18.4m-9.2-9.2v18.4M565.8 1390.0h18.4m-9.2-9.2v18.4M580.8 1420.0h18.4m-9.2-9.2v18.4M546.8 1440.0h18.4m-9.2-9.2v18.4M581.8 1450.0h18.4m-9.2-9.2v18.4M1084.7 947.1h18.4m-9.2-9.2v18.4M1132.0 942.4h18.4m-9.2-9.2v18.4M1130.5 944.6h18.4m-9.2-9.2v18.4M1055.4 959.6h18.4m-9.2-9.2v18.4M1039.4 963.5h18.4m-9.2-9.2v18.4M1167.1 920.2h18.4m-9.2-9.2v18.4M1123.7 950.0h18.4m-9.2-9.2v18.4M1042.4 1004.4h18.4m-9.2-9.2v18.4M1165.0 929.5h18.4m-9.2-9.2v18.4M1052.8 961.1h18.4m-9.2-9.2v18.4M1154.0 918.6h18.4m-9.2-9.2v18.4M1092.8 957.8h18.4m-9.2-9.2v18.4M1169.9 884.5h18.4m-9.2-9.2v18.4M1170.8 899.5h18.4m-9.2-9.2v18.4M1133.5 905.3h18.4m-9.2-9.2v18.4M1081.5 943.7h18.4m-9.2-9.2v18.4M1098.6 954.7h18.4m-9.2-9.2v18.4M1013.2 1014.9h18.4m-9.2-9.2v18.4M1103.0 920.2h18.4m-9.2-9.2v18.4M1162.5 926.2h18.4m-9.2-9.2v18.4M1085.1 953.1h18.4m-9.2-9.2v18.4M1161.5 882.3h18.4m-9.2-9.2v18.4M1048.9 960.7h18.4m-9.2-9.2v18.4M1020.9 1011.8h18.4m-9.2-9.2v18.4M1058.3 989.7h18.4m-9.2-9.2v18.4M1136.6 940.8h18.4m-9.2-9.2v18.4M1158.8 886.2h18.4m-9.2-9.2v18.4M1099.9 925.6h18.4m-9.2-9.2v18.4M1077.0 965.7h18.4m-9.2-9.2v18.4M1092.6 973.6h18.4m-9.2-9.2v18.4M1017.4 978.2h18.4m-9.2-9.2v18.4M1104.3 942.4h18.4m-9.2-9.2v18.4M1094.6 936.9h18.4m-9.2-9.2v18.4M1144.1 930.4h18.4m-9.2-9.2v18.4M1155.5 886.7h18.4m-9.2-9.2v18.4M1157.9 896.3h18.4m-9.2-9.2v18.4M1088.8 985.2h18.4m-9.2-9.2v18.4M1047.2 1019.0h18.4m-9.2-9.2v18.4M1038.1 994.6h18.4m-9.2-9.2v18.4M1140.8 905.9h18.4m-9.2-9.2v18.4M1140.6 908.7h18.4m-9.2-9.2v18.4M1063.6 965.3h18.4m-9.2-9.2v18.4M1048.2 981.9h18.4m-9.2-9.2v18.4M1090.8 950.6h18.4m-9.2-9.2v18.4M1063.8 963.2h18.4m-9.2-9.2v18.4M1166.6 878.6h18.4m-9.2-9.2v18.4M1064.0 1006.6h18.4m-9.2-9.2v18.4M1168.8 879.3h18.4m-9.2-9.2v18.4M1085.6 953.4h18.4m-9.2-9.2v18.4M1081.3 941.1h18.4m-9.2-9.2v18.4M1068.3 947.9h18.4m-9.2-9.2v18.4M1103.7 956.5h18.4m-9.2-9.2v18.4M1155.1 901.5h18.4m-9.2-9.2v18.4M1140.9 906.0h18.4m-9.2-9.2v18.4M1025.0 979.0h18.4m-9.2-9.2v18.4M1151.4 930.5h18.4m-9.2-9.2v18.4M1054.9 985.7h18.4m-9.2-9.2v18.4M1051.8 968.7h18.4m-9.2-9.2v18.4M1068.7 974.7h18.4m-9.2-9.2v18.4M1162.5 880.0h18.4m-9.2-9.2v18.4M1156.9 941.4h18.4m-9.2-9.2v18.4M1165.3 911.9h18.4m-9.2-9.2v18.4M1078.1 969.0h18.4m-9.2-9.2v18.4M1130.6 916.6h18.4m-9.2-9.2v18.4M1076.4 974.4h18.4m-9.2-9.2v18.4M1167.6 930.7h18.4m-9.2-9.2v18.4M1010.8 975.0h18.4m-9.2-9.2v18.4M1116.2 906.4h18.4m-9.2-9.2v18.4M1025.1 992.8h18.4m-9.2-9.2v18.4M1161.0 940.3h18.4m-9.2-9.2v18.4M1138.6 901.2h18.4m-9.2-9.2v18.4M1138.9 916.7h18.4m-9.2-9.2v18.4M1014.3 981.9h18.4m-9.2-9.2v18.4M1083.9 947.1h18.4m-9.2-9.2v18.4M1123.8 929.6h18.4m-9.2-9.2v18.4M1048.9 1002.6h18.4m-9.2-9.2v18.4M1063.7 993.5h18.4m-9.2-9.2v18.4M1046.0 964.2h18.4m-9.2-9.2v18.4M1153.7 914.1h18.4m-9.2-9.2v18.4M1128.2 943.4h18.4m-9.2-9.2v18.4M1075.4 984.7h18.4m-9.2-9.2v18.4M1132.3 940.3h18.4m-9.2-9.2v18.4M1120.3 947.7h18.4m-9.2-9.2v18.4M1168.2 914.0h18.4m-9.2-9.2v18.4M1167.7 923.8h18.4m-9.2-9.2v18.4M1124.3 926.7h18.4m-9.2-9.2v18.4M1050.7 997.2h18.4m-9.2-9.2v18.4M1035.9 1008.2h18.4m-9.2-9.2v18.4M1035.0 995.6h18.4m-9.2-9.2v18.4M1037.6 967.3h18.4m-9.2-9.2v18.4M1162.3 890.6h18.4m-9.2-9.2v18.4M1074.7 992.5h18.4m-9.2-9.2v18.4M1103.2 951.3h18.4m-9.2-9.2v18.4M1098.6 956.2h18.4m-9.2-9.2v18.4M1041.4 1000.4h18.4m-9.2-9.2v18.4M1008.8 1001.5h18.4m-9.2-9.2v18.4M1081.1 962.3h18.4m-9.2-9.2v18.4M1079.4 966.3h18.4m-9.2-9.2v18.4M1044.2 1010.9h18.4m-9.2-9.2v18.4M1073.4 953.5h18.4m-9.2-9.2v18.4M1005.8 999.6h18.4m-9.2-9.2v18.4M1164.5 926.5h18.4m-9.2-9.2v18.4M1105.1 957.9h18.4m-9.2-9.2v18.4M1149.8 891.7h18.4m-9.2-9.2v18.4M1014.1 1006.6h18.4m-9.2-9.2v18.4M1091.9 961.4h18.4m-9.2-9.2v18.4M1080.1 957.6h18.4m-9.2-9.2v18.4M1081.6 979.3h18.4m-9.2-9.2v18.4M1026.8 996.1h18.4m-9.2-9.2v18.4M1112.3 926.6h18.4m-9.2-9.2v18.4M1137.3 940.9h18.4m-9.2-9.2v18.4M1067.5 957.3h18.4m-9.2-9.2v18.4M1166.2 889.4h18.4m-9.2-9.2v18.4M1018.4 1010.0h18.4m-9.2-9.2v18.4M1049.6 956.8h18.4m-9.2-9.2v18.4M1072.8 1008.6h18.4m-9.2-9.2v18.4M1165.2 897.7h18.4m-9.2-9.2v18.4M1061.3 962.9h18.4m-9.2-9.2v18.4M1169.4 922.8h18.4m-9.2-9.2v18.4M1120.6 923.2h18.4m-9.2-9.2v18.4M1124.9 897.8h18.4m-9.2-9.2v18.4M1065.2 1000.1h18.4m-9.2-9.2v18.4M1150.3 895.0h18.4m-9.2-9.2v18.4M1138.7 942.4h18.4m-9.2-9.2v18.4M1152.1 932.2h18.4m-9.2-9.2v18.4M1099.8 946.6h18.4m-9.2-9.2v18.4M1129.8 947.9h18.4m-9.2-9.2v18.4M1154.7 936.1h18.4m-9.2-9.2v18.4M1035.9 962.2h18.4m-9.2-9.2v18.4M1076.9 955.4h18.4m-9.2-9.2v18.4M1101.7 938.6h18.4m-9.2-9.2v18.4M1036.3 1004.0h18.4m-9.2-9.2v18.4M1170.7 887.9h18.4m-9.2-9.2v18.4M1117.9 916.6h18.4m-9.2-9.2v18.4M1083.1 966.4h18.4m-9.2-9.2v18.4M1011.0 972.3h18.4m-9.2-9.2v18.4M1132.4 896.6h18.4m-9.2-9.2v18.4M1046.8 969.6h18.4m-9.2-9.2v18.4M1169.5 934.1h18.4m-9.2-9.2v18.4M1095.6 929.5h18.4m-9.2-9.2v18.4M1071.0 949.0h18.4m-9.2-9.2v18.4M1158.5 896.6h18.4m-9.2-9.2v18.4M1094.0 975.2h18.4m-9.2-9.2v18.4M1106.2 918.2h18.4m-9.2-9.2v18.4M1048.8 1014.4h18.4m-9.2-9.2v18.4M1041.6 1022.8h18.4m-9.2-9.2v18.4M1003.7 984.4h18.4m-9.2-9.2v18.4M1020.4 997.1h18.4m-9.2-9.2v18.4M1071.1 943.6h18.4m-9.2-9.2v18.4M1123.1 918.2h18.4m-9.2-9.2v18.4M1102.8 957.7h18.4m-9.2-9.2v18.4M1067.2 983.0h18.4m-9.2-9.2v18.4M1043.4 962.7h18.4m-9.2-9.2v18.4M1029.5 995.9h18.4m-9.2-9.2v18.4M1052.2 964.4h18.4m-9.2-9.2v18.4M1090.4 964.0h18.4m-9.2-9.2v18.4M1085.3 985.9h18.4m-9.2-9.2v18.4M1149.3 938.5h18.4m-9.2-9.2v18.4M1144.1 909.0h18.4m-9.2-9.2v18.4M1072.6 957.6h18.4m-9.2-9.2v18.4M1154.5 939.4h18.4m-9.2-9.2v18.4M1130.3 934.4h18.4m-9.2-9.2v18.4M1084.7 943.2h18.4m-9.2-9.2v18.4M1004.2 973.7h18.4m-9.2-9.2v18.4M1107.4 934.1h18.4m-9.2-9.2v18.4M1095.9 924.2h18.4m-9.2-9.2v18.4M1015.4 1006.5h18.4m-9.2-9.2v18.4M1159.5 902.8h18.4m-9.2-9.2v18.4M1014.1 969.6h18.4m-9.2-9.2v18.4M1157.9 929.0h18.4m-9.2-9.2v18.4M1005.1 1001.4h18.4m-9.2-9.2v18.4M1121.8 940.5h18.4m-9.2-9.2v18.4M1019.3 974.0h18.4m-9.2-9.2v18.4M1090.6 964.5h18.4m-9.2-9.2v18.4M1055.5 1014.9h18.4m-9.2-9.2v18.4M1152.5 914.6h18.4m-9.2-9.2v18.4M1029.5 982.4h18.4m-9.2-9.2v18.4M1160.8 928.1h18.4m-9.2-9.2v18.4M1135.0 940.4h18.4m-9.2-9.2v18.4M1079.5 965.3h18.4m-9.2-9.2v18.4M1107.9 955.1h18.4m-9.2-9.2v18.4M1122.1 934.8h18.4m-9.2-9.2v18.4M1055.5 998.3h18.4m-9.2-9.2v18.4M1013.2 986.4h18.4m-9.2-9.2v18.4M1162.4 931.4h18.4m-9.2-9.2v18.4M1008.9 1008.9h18.4m-9.2-9.2v18.4M1154.8 925.5h18.4m-9.2-9.2v18.4M1065.6 1009.9h18.4m-9.2-9.2v18.4M1071.1 941.7h18.4m-9.2-9.2v18.4M1052.5 1004.7h18.4m-9.2-9.2v18.4M1020.9 1000.5h18.4m-9.2-9.2v18.4M1156.1 899.8h18.4m-9.2-9.2v18.4M1151.8 908.7h18.4m-9.2-9.2v18.4M1045.2 1002.3h18.4m-9.2-9.2v18.4M1130.0 949.9h18.4m-9.2-9.2v18.4M1154.8 917.8h18.4m-9.2-9.2v18.4M1160.5 925.0h18.4m-9.2-9.2v18.4M1044.2 1023.9h18.4m-9.2-9.2v18.4M1060.8 1013.4h18.4m-9.2-9.2v18.4M1074.4 976.9h18.4m-9.2-9.2v18.4M1136.4 923.3h18.4m-9.2-9.2v18.4M1146.0 928.9h18.4m-9.2-9.2v18.4M1101.0 947.8h18.4m-9.2-9.2v18.4M1065.8 945.4h18.4m-9.2-9.2v18.4M1069.1 979.7h18.4m-9.2-9.2v18.4M1123.7 924.4h18.4m-9.2-9.2v18.4M1166.0 881.5h18.4m-9.2-9.2v18.4M1101.0 934.4h18.4m-9.2-9.2v18.4M1051.4 968.6h18.4m-9.2-9.2v18.4M1093.2 966.2h18.4m-9.2-9.2v18.4M1132.6 940.9h18.4m-9.2-9.2v18.4M1141.8 902.5h18.4m-9.2-9.2v18.4M1065.7 996.3h18.4m-9.2-9.2v18.4M1079.4 970.2h18.4m-9.2-9.2v18.4M1140.2 899.9h18.4m-9.2-9.2v18.4M1078.7 984.4h18.4m-9.2-9.2v18.4M1102.3 927.5h18.4m-9.2-9.2v18.4M1082.8 974.5h18.4m-9.2-9.2v18.4M1112.4 920.6h18.4m-9.2-9.2v18.4M1122.1 944.1h18.4m-9.2-9.2v18.4M1022.8 990.5h18.4m-9.2-9.2v18.4M1167.0 907.3h18.4m-9.2-9.2v18.4M1048.6 1019.9h18.4m-9.2-9.2v18.4M1122.7 909.9h18.4m-9.2-9.2v18.4M1052.8 976.3h18.4m-9.2-9.2v18.4M913.3 1060.7h18.4m-9.2-9.2v18.4M909.3 1057.2h18.4m-9.2-9.2v18.4M964.0 1049.7h18.4m-9.2-9.2v18.4M948.6 1055.4h18.4m-9.2-9.2v18.4M935.3 1103.5h18.4m-9.2-9.2v18.4M910.4 1079.7h18.4m-9.2-9.2v18.4M998.9 1050.9h18.4m-9.2-9.2v18.4M988.5 1051.6h18.4m-9.2-9.2v18.4M996.1 1067.5h18.4m-9.2-9.2v18.4M985.9 1040.4h18.4m-9.2-9.2v18.4M974.1 1086.7h18.4m-9.2-9.2v18.4M937.6 1043.6h18.4m-9.2-9.2v18.4M931.6 1088.2h18.4m-9.2-9.2v18.4M906.2 1057.8h18.4m-9.2-9.2v18.4M958.4 1089.0h18.4m-9.2-9.2v18.4M934.6 1046.5h18.4m-9.2-9.2v18.4M980.6 1041.4h18.4m-9.2-9.2v18.4M966.3 1080.4h18.4m-9.2-9.2v18.4M899.2 1074.9h18.4m-9.2-9.2v18.4M933.4 1058.2h18.4m-9.2-9.2v18.4M937.5 1094.1h18.4m-9.2-9.2v18.4M899.5 1083.8h18.4m-9.2-9.2v18.4M920.8 1056.8h18.4m-9.2-9.2v18.4M915.3 1054.5h18.4m-9.2-9.2v18.4M970.1 1075.0h18.4m-9.2-9.2v18.4M946.9 1052.3h18.4m-9.2-9.2v18.4M925.5 1101.2h18.4m-9.2-9.2v18.4M954.3 1107.1h18.4m-9.2-9.2v18.4M918.0 1052.7h18.4m-9.2-9.2v18.4M960.3 1086.3h18.4m-9.2-9.2v18.4M1002.0 1037.9h18.4m-9.2-9.2v18.4M972.9 1050.0h18.4m-9.2-9.2v18.4M916.4 1087.0h18.4m-9.2-9.2v18.4M953.0 1112.6h18.4m-9.2-9.2v18.4M938.1 1057.4h18.4m-9.2-9.2v18.4M975.7 1035.1h18.4m-9.2-9.2v18.4M967.3 1074.2h18.4m-9.2-9.2v18.4M961.0 1094.8h18.4m-9.2-9.2v18.4M968.4 1094.5h18.4m-9.2-9.2v18.4M933.2 1083.1h18.4m-9.2-9.2v18.4M969.3 1035.6h18.4m-9.2-9.2v18.4M982.7 1047.5h18.4m-9.2-9.2v18.4M989.5 1074.6h18.4m-9.2-9.2v18.4M960.1 1083.1h18.4m-9.2-9.2v18.4M916.2 1048.7h18.4m-9.2-9.2v18.4M973.1 1077.8h18.4m-9.2-9.2v18.4M930.3 1037.8h18.4m-9.2-9.2v18.4M949.0 1102.6h18.4m-9.2-9.2v18.4M916.9 1085.3h18.4m-9.2-9.2v18.4M930.3 1100.3h18.4m-9.2-9.2v18.4M938.4 1039.3h18.4m-9.2-9.2v18.4M943.7 1107.2h18.4m-9.2-9.2v18.4M894.5 1069.4h18.4m-9.2-9.2v18.4M961.8 1096.1h18.4m-9.2-9.2v18.4M972.1 1050.5h18.4m-9.2-9.2v18.4M941.5 1067.0h18.4m-9.2-9.2v18.4M958.2 1092.8h18.4m-9.2-9.2v18.4M986.0 1054.7h18.4m-9.2-9.2v18.4M928.9 1087.1h18.4m-9.2-9.2v18.4M948.2 1059.7h18.4m-9.2-9.2v18.4M987.7 1054.6h18.4m-9.2-9.2v18.4M931.4 1061.8h18.4m-9.2-9.2v18.4M970.1 1092.3h18.4m-9.2-9.2v18.4M965.1 1095.2h18.4m-9.2-9.2v18.4M942.9 1055.1h18.4m-9.2-9.2v18.4M964.5 1075.8h18.4m-9.2-9.2v18.4M909.5 1064.6h18.4m-9.2-9.2v18.4M1053.8 915.4h18.4m-9.2-9.2v18.4M997.7 977.7h18.4m-9.2-9.2v18.4M929.2 1019.8h18.4m-9.2-9.2v18.4M954.1 1019.8h18.4m-9.2-9.2v18.4M817.0 1117.9h18.4m-9.2-9.2v18.4M817.0 1136.6h18.4m-9.2-9.2v18.4M873.1 1208.3h18.4m-9.2-9.2v18.4M1041.3 1055.6h18.4m-9.2-9.2v18.4M979.0 1027.6h18.4m-9.2-9.2v18.4M1415.7 697.8h18.4m-9.2-9.2v18.4M1228.9 783.0h18.4m-9.2-9.2v18.4M1201.4 816.9h18.4m-9.2-9.2v18.4M1221.5 825.1h18.4m-9.2-9.2v18.4M1194.1 850.8h18.4m-9.2-9.2v18.4M1183.1 863.6h18.4m-9.2-9.2v18.4M1287.5 784.8h18.4m-9.2-9.2v18.4M1335.1 755.5h18.4m-9.2-9.2v18.4M1148.0 924.3h18.4m-9.2-9.2v18.4M1152.2 920.1h18.4m-9.2-9.2v18.4M1122.8 927.0h18.4m-9.2-9.2v18.4M1121.1 928.3h18.4m-9.2-9.2v18.4M1144.6 947.5h18.4m-9.2-9.2v18.4M1274.6 938.3h18.4m-9.2-9.2v18.4M1405.0 744.9h18.4m-9.2-9.2v18.4M1185.5 900.4h18.4m-9.2-9.2v18.4M1152.9 905.2h18.4m-9.2-9.2v18.4M1419.0 728.9h18.4m-9.2-9.2v18.4M1274.5 829.4h18.4m-9.2-9.2v18.4M1419.1 757.2h18.4m-9.2-9.2v18.4M1357.1 771.5h18.4m-9.2-9.2v18.4M1291.5 820.4h18.4m-9.2-9.2v18.4M1432.7 741.3h18.4m-9.2-9.2v18.4M1441.0 737.1h18.4m-9.2-9.2v18.4M1368.7 756.0h18.4m-9.2-9.2v18.4M1283.1 815.6h18.4m-9.2-9.2v18.4M1370.9 751.0h18.4m-9.2-9.2v18.4M1441.2 723.3h18.4m-9.2-9.2v18.4M1430.8 740.4h18.4m-9.2-9.2v18.4M1301.6 812.5h18.4m-9.2-9.2v18.4M1237.0 858.9h18.4m-9.2-9.2v18.4M1418.9 748.7h18.4m-9.2-9.2v18.4M1244.1 863.5h18.4m-9.2-9.2v18.4M1166.7 892.4h18.4m-9.2-9.2v18.4M1244.8 852.9h18.4m-9.2-9.2v18.4M1245.9 849.2h18.4m-9.2-9.2v18.4M1181.5 884.1h18.4m-9.2-9.2v18.4M1476.8 689.9h18.4m-9.2-9.2v18.4M1193.5 870.8h18.4m-9.2-9.2v18.4M1450.7 707.6h18.4m-9.2-9.2v18.4M1174.1 893.7h18.4m-9.2-9.2v18.4M1444.6 725.8h18.4m-9.2-9.2v18.4M1144.4 920.2h18.4m-9.2-9.2v18.4M1427.3 741.0h18.4m-9.2-9.2v18.4M1290.3 807.9h18.4m-9.2-9.2v18.4M1186.0 904.7h18.4m-9.2-9.2v18.4M1242.0 865.0h18.4m-9.2-9.2v18.4M1292.6 811.0h18.4m-9.2-9.2v18.4M1389.2 750.3h18.4m-9.2-9.2v18.4M1382.8 755.8h18.4m-9.2-9.2v18.4M1170.9 885.3h18.4m-9.2-9.2v18.4M1151.1 915.0h18.4m-9.2-9.2v18.4M1288.0 806.2h18.4m-9.2-9.2v18.4M1226.1 870.2h18.4m-9.2-9.2v18.4M1132.9 922.3h18.4m-9.2-9.2v18.4M1164.4 908.4h18.4m-9.2-9.2v18.4M1480.6 712.5h18.4m-9.2-9.2v18.4M1383.1 748.7h18.4m-9.2-9.2v18.4M1137.0 917.6h18.4m-9.2-9.2v18.4M1234.7 840.3h18.4m-9.2-9.2v18.4M1245.4 848.6h18.4m-9.2-9.2v18.4M1301.5 811.9h18.4m-9.2-9.2v18.4M1453.2 738.1h18.4m-9.2-9.2v18.4M1452.8 735.9h18.4m-9.2-9.2v18.4M1432.3 752.2h18.4m-9.2-9.2v18.4M1199.1 899.7h18.4m-9.2-9.2v18.4M1149.9 903.4h18.4m-9.2-9.2v18.4M1148.6 918.3h18.4m-9.2-9.2v18.4M1203.9 872.9h18.4m-9.2-9.2v18.4M1370.6 753.7h18.4m-9.2-9.2v18.4M1356.6 769.1h18.4m-9.2-9.2v18.4M1136.2 914.8h18.4m-9.2-9.2v18.4M1315.0 811.2h18.4m-9.2-9.2v18.4M1441.5 711.2h18.4m-9.2-9.2v18.4M1446.3 731.1h18.4m-9.2-9.2v18.4M1149.2 901.8h18.4m-9.2-9.2v18.4M1127.9 906.7h18.4m-9.2-9.2v18.4M1172.0 902.8h18.4m-9.2-9.2v18.4M1449.4 725.4h18.4m-9.2-9.2v18.4M1329.7 796.1h18.4m-9.2-9.2v18.4M1206.2 893.5h18.4m-9.2-9.2v18.4M1398.1 765.0h18.4m-9.2-9.2v18.4M1387.8 753.7h18.4m-9.2-9.2v18.4M1245.6 847.9h18.4m-9.2-9.2v18.4M1181.2 910.9h18.4m-9.2-9.2v18.4M1280.8 835.8h18.4m-9.2-9.2v18.4M1445.1 718.8h18.4m-9.2-9.2v18.4M1305.5 802.3h18.4m-9.2-9.2v18.4M1201.4 869.0h18.4m-9.2-9.2v18.4M1123.4 914.2h18.4m-9.2-9.2v18.4M1342.6 778.9h18.4m-9.2-9.2v18.4M1431.7 723.3h18.4m-9.2-9.2v18.4M1274.6 819.7h18.4m-9.2-9.2v18.4M1443.3 721.1h18.4m-9.2-9.2v18.4M1371.2 755.5h18.4m-9.2-9.2v18.4M1420.8 746.7h18.4m-9.2-9.2v18.4M1121.1 921.3h18.4m-9.2-9.2v18.4M1369.6 757.0h18.4m-9.2-9.2v18.4M1159.8 901.9h18.4m-9.2-9.2v18.4M1367.1 757.0h18.4m-9.2-9.2v18.4M1193.4 892.2h18.4m-9.2-9.2v18.4M1171.5 888.9h18.4m-9.2-9.2v18.4M1284.7 836.9h18.4m-9.2-9.2v18.4M1252.7 845.4h18.4m-9.2-9.2v18.4M1397.1 758.4h18.4m-9.2-9.2v18.4M1348.8 772.3h18.4m-9.2-9.2v18.4M1129.3 914.4h18.4m-9.2-9.2v18.4M1272.4 843.7h18.4m-9.2-9.2v18.4M1132.2 925.1h18.4m-9.2-9.2v18.4M1415.4 740.3h18.4m-9.2-9.2v18.4M1411.9 760.6h18.4m-9.2-9.2v18.4M1142.6 921.1h18.4m-9.2-9.2v18.4M1310.7 812.6h18.4m-9.2-9.2v18.4M1469.4 701.9h18.4m-9.2-9.2v18.4M1196.2 896.7h18.4m-9.2-9.2v18.4M1376.6 746.5h18.4m-9.2-9.2v18.4M1184.5 893.0h18.4m-9.2-9.2v18.4M1172.9 881.1h18.4m-9.2-9.2v18.4M1403.5 762.5h18.4m-9.2-9.2v18.4M1377.8 769.6h18.4m-9.2-9.2v18.4M1191.1 871.1h18.4m-9.2-9.2v18.4M1369.8 759.8h18.4m-9.2-9.2v18.4M1412.5 734.9h18.4m-9.2-9.2v18.4M1121.5 910.7h18.4m-9.2-9.2v18.4M1257.1 842.5h18.4m-9.2-9.2v18.4M1123.5 926.8h18.4m-9.2-9.2v18.4M1418.1 735.3h18.4m-9.2-9.2v18.4M1334.4 799.8h18.4m-9.2-9.2v18.4M1215.5 876.5h18.4m-9.2-9.2v18.4M1368.4 772.4h18.4m-9.2-9.2v18.4M1141.8 907.7h18.4m-9.2-9.2v18.4M1453.5 717.9h18.4m-9.2-9.2v18.4M1407.6 730.5h18.4m-9.2-9.2v18.4M1382.4 743.3h18.4m-9.2-9.2v18.4M1339.3 778.8h18.4m-9.2-9.2v18.4M1172.1 902.1h18.4m-9.2-9.2v18.4M1297.5 805.6h18.4m-9.2-9.2v18.4M1414.5 732.4h18.4m-9.2-9.2v18.4M1421.8 736.2h18.4m-9.2-9.2v18.4M1300.9 806.9h18.4m-9.2-9.2v18.4M1185.6 881.4h18.4m-9.2-9.2v18.4M1343.1 784.1h18.4m-9.2-9.2v18.4M1129.6 926.3h18.4m-9.2-9.2v18.4M1252.6 860.7h18.4m-9.2-9.2v18.4M1429.8 718.7h18.4m-9.2-9.2v18.4M1444.4 716.3h18.4m-9.2-9.2v18.4M1464.4 725.0h18.4m-9.2-9.2v18.4M1440.1 722.4h18.4m-9.2-9.2v18.4M1385.4 745.1h18.4m-9.2-9.2v18.4M1343.3 793.2h18.4m-9.2-9.2v18.4M1336.6 782.0h18.4m-9.2-9.2v18.4M1314.2 808.0h18.4m-9.2-9.2v18.4M1469.1 733.5h18.4m-9.2-9.2v18.4M1475.4 700.6h18.4m-9.2-9.2v18.4M1262.6 821.2h18.4m-9.2-9.2v18.4M1150.5 915.1h18.4m-9.2-9.2v18.4M1231.4 854.5h18.4m-9.2-9.2v18.4M1158.0 907.3h18.4m-9.2-9.2v18.4M1241.9 850.3h18.4m-9.2-9.2v18.4M1261.3 833.4h18.4m-9.2-9.2v18.4M1192.6 876.5h18.4m-9.2-9.2v18.4M1415.1 747.8h18.4m-9.2-9.2v18.4M1400.6 741.7h18.4m-9.2-9.2v18.4M1412.1 728.7h18.4m-9.2-9.2v18.4M1364.0 759.5h18.4m-9.2-9.2v18.4M1350.6 788.7h18.4m-9.2-9.2v18.4M1159.6 900.4h18.4m-9.2-9.2v18.4M1346.4 791.6h18.4m-9.2-9.2v18.4M1396.9 765.1h18.4m-9.2-9.2v18.4M1146.5 899.9h18.4m-9.2-9.2v18.4M1377.6 757.5h18.4m-9.2-9.2v18.4M1427.3 728.1h18.4m-9.2-9.2v18.4M1147.5 918.2h18.4m-9.2-9.2v18.4M1189.6 905.9h18.4m-9.2-9.2v18.4M1223.3 882.3h18.4m-9.2-9.2v18.4M1265.3 849.1h18.4m-9.2-9.2v18.4M1206.5 888.3h18.4m-9.2-9.2v18.4M1432.9 748.7h18.4m-9.2-9.2v18.4M1356.0 765.1h18.4m-9.2-9.2v18.4M1408.2 766.8h18.4m-9.2-9.2v18.4M1264.6 846.9h18.4m-9.2-9.2v18.4M1290.2 811.2h18.4m-9.2-9.2v18.4M1374.3 763.1h18.4m-9.2-9.2v18.4M1462.7 723.4h18.4m-9.2-9.2v18.4M1477.6 716.2h18.4m-9.2-9.2v18.4M1154.1 899.5h18.4m-9.2-9.2v18.4M1291.7 824.6h18.4m-9.2-9.2v18.4M1242.1 867.9h18.4m-9.2-9.2v18.4M1416.8 733.8h18.4m-9.2-9.2v18.4M1369.9 773.2h18.4m-9.2-9.2v18.4M1197.8 895.9h18.4m-9.2-9.2v18.4M1381.7 779.3h18.4m-9.2-9.2v18.4M1184.4 884.9h18.4m-9.2-9.2v18.4M1480.1 713.0h18.4m-9.2-9.2v18.4M1440.4 743.7h18.4m-9.2-9.2v18.4M1463.1 722.8h18.4m-9.2-9.2v18.4M1398.9 756.5h18.4m-9.2-9.2v18.4M1318.6 809.4h18.4m-9.2-9.2v18.4M1455.2 709.3h18.4m-9.2-9.2v18.4M1312.9 800.1h18.4m-9.2-9.2v18.4M1205.1 871.0h18.4m-9.2-9.2v18.4M1469.7 707.8h18.4m-9.2-9.2v18.4M1416.3 731.7h18.4m-9.2-9.2v18.4M1291.9 815.3h18.4m-9.2-9.2v18.4M1459.5 730.1h18.4m-9.2-9.2v18.4M1292.3 820.0h18.4m-9.2-9.2v18.4M1162.3 906.6h18.4m-9.2-9.2v18.4M1196.3 870.4h18.4m-9.2-9.2v18.4M1245.1 834.1h18.4m-9.2-9.2v18.4M1213.8 881.5h18.4m-9.2-9.2v18.4M1218.9 854.2h18.4m-9.2-9.2v18.4M1241.0 832.0h18.4m-9.2-9.2v18.4M1158.0 891.1h18.4m-9.2-9.2v18.4M1124.5 914.9h18.4m-9.2-9.2v18.4M1394.2 741.4h18.4m-9.2-9.2v18.4M1375.4 748.7h18.4m-9.2-9.2v18.4M1154.4 904.8h18.4m-9.2-9.2v18.4M1165.0 888.0h18.4m-9.2-9.2v18.4M1189.9 882.5h18.4m-9.2-9.2v18.4M1438.9 728.5h18.4m-9.2-9.2v18.4M1457.6 715.9h18.4m-9.2-9.2v18.4M1234.2 872.8h18.4m-9.2-9.2v18.4M1348.0 773.8h18.4m-9.2-9.2v18.4M1445.8 740.0h18.4m-9.2-9.2v18.4M1478.6 689.6h18.4m-9.2-9.2v18.4M1446.6 735.9h18.4m-9.2-9.2v18.4M1335.3 792.9h18.4m-9.2-9.2v18.4M1425.1 728.7h18.4m-9.2-9.2v18.4M1131.4 926.0h18.4m-9.2-9.2v18.4M1328.4 796.7h18.4m-9.2-9.2v18.4M1315.5 814.0h18.4m-9.2-9.2v18.4M1437.0 746.5h18.4m-9.2-9.2v18.4M1243.2 862.4h18.4m-9.2-9.2v18.4M1465.7 711.0h18.4m-9.2-9.2v18.4M1367.5 784.7h18.4m-9.2-9.2v18.4M1441.2 743.1h18.4m-9.2-9.2v18.4M1244.2 842.0h18.4m-9.2-9.2v18.4M1183.0 878.5h18.4m-9.2-9.2v18.4M1367.1 759.9h18.4m-9.2-9.2v18.4M1394.0 747.4h18.4m-9.2-9.2v18.4M1147.1 925.4h18.4m-9.2-9.2v18.4M1258.3 832.5h18.4m-9.2-9.2v18.4M1457.7 731.1h18.4m-9.2-9.2v18.4M1402.9 745.9h18.4m-9.2-9.2v18.4M1150.9 906.0h18.4m-9.2-9.2v18.4M1458.2 708.1h18.4m-9.2-9.2v18.4M1234.9 873.5h18.4m-9.2-9.2v18.4M1151.4 905.5h18.4m-9.2-9.2v18.4M1292.1 810.1h18.4m-9.2-9.2v18.4M1254.4 859.1h18.4m-9.2-9.2v18.4M1476.6 711.9h18.4m-9.2-9.2v18.4M1463.2 735.8h18.4m-9.2-9.2v18.4M1374.4 772.0h18.4m-9.2-9.2v18.4M1128.1 932.9h18.4m-9.2-9.2v18.4M1220.1 878.0h18.4m-9.2-9.2v18.4M1407.7 738.5h18.4m-9.2-9.2v18.4M1144.7 927.5h18.4m-9.2-9.2v18.4M1288.7 826.0h18.4m-9.2-9.2v18.4M1466.6 700.9h18.4m-9.2-9.2v18.4M1306.1 799.5h18.4m-9.2-9.2v18.4M1386.5 769.8h18.4m-9.2-9.2v18.4M1121.4 927.3h18.4m-9.2-9.2v18.4M1344.8 780.0h18.4m-9.2-9.2v18.4M1398.8 766.7h18.4m-9.2-9.2v18.4M1409.8 748.8h18.4m-9.2-9.2v18.4M1404.0 751.5h18.4m-9.2-9.2v18.4M1367.5 752.2h18.4m-9.2-9.2v18.4M1475.2 723.0h18.4m-9.2-9.2v18.4M1426.1 729.6h18.4m-9.2-9.2v18.4M1447.8 720.6h18.4m-9.2-9.2v18.4M1175.5 908.7h18.4m-9.2-9.2v18.4M1205.5 867.0h18.4m-9.2-9.2v18.4M1417.1 729.3h18.4m-9.2-9.2v18.4M1362.7 757.9h18.4m-9.2-9.2v18.4M1439.4 726.5h18.4m-9.2-9.2v18.4M1393.2 740.9h18.4m-9.2-9.2v18.4M1301.7 813.4h18.4m-9.2-9.2v18.4M1351.7 784.3h18.4m-9.2-9.2v18.4M1437.3 736.4h18.4m-9.2-9.2v18.4M1426.3 735.0h18.4m-9.2-9.2v18.4M1455.8 725.4h18.4m-9.2-9.2v18.4M1155.4 895.4h18.4m-9.2-9.2v18.4M1288.6 826.8h18.4m-9.2-9.2v18.4M1177.7 878.5h18.4m-9.2-9.2v18.4M1308.1 818.1h18.4m-9.2-9.2v18.4M1177.9 898.2h18.4m-9.2-9.2v18.4M1347.4 790.2h18.4m-9.2-9.2v18.4M1428.6 730.8h18.4m-9.2-9.2v18.4M1229.7 874.4h18.4m-9.2-9.2v18.4M1441.7 745.0h18.4m-9.2-9.2v18.4M1441.5 713.9h18.4m-9.2-9.2v18.4M1176.5 905.8h18.4m-9.2-9.2v18.4M1241.3 849.0h18.4m-9.2-9.2v18.4M1377.7 763.0h18.4m-9.2-9.2v18.4M1145.3 914.9h18.4m-9.2-9.2v18.4M1157.3 917.3h18.4m-9.2-9.2v18.4M1248.5 827.2h18.4m-9.2-9.2v18.4M1277.4 834.2h18.4m-9.2-9.2v18.4M1142.1 914.6h18.4m-9.2-9.2v18.4M1197.5 874.1h18.4m-9.2-9.2v18.4M1464.5 705.7h18.4m-9.2-9.2v18.4M1469.7 705.9h18.4m-9.2-9.2v18.4M1417.8 723.9h18.4m-9.2-9.2v18.4M1431.8 752.1h18.4m-9.2-9.2v18.4M1124.6 931.0h18.4m-9.2-9.2v18.4M1393.7 766.7h18.4m-9.2-9.2v18.4M1269.5 840.4h18.4m-9.2-9.2v18.4M1267.6 847.5h18.4m-9.2-9.2v18.4M1467.0 727.0h18.4m-9.2-9.2v18.4M1424.6 737.6h18.4m-9.2-9.2v18.4M1441.7 724.9h18.4m-9.2-9.2v18.4M1297.0 827.9h18.4m-9.2-9.2v18.4M1158.8 918.3h18.4m-9.2-9.2v18.4M1220.3 869.5h18.4m-9.2-9.2v18.4M1162.3 909.7h18.4m-9.2-9.2v18.4M1379.3 771.1h18.4m-9.2-9.2v18.4M1415.3 726.2h18.4m-9.2-9.2v18.4M1220.1 880.5h18.4m-9.2-9.2v18.4M1178.2 893.4h18.4m-9.2-9.2v18.4M1411.1 754.8h18.4m-9.2-9.2v18.4M1466.7 725.8h18.4m-9.2-9.2v18.4M1185.1 877.9h18.4m-9.2-9.2v18.4M1438.6 722.9h18.4m-9.2-9.2v18.4M1374.8 772.0h18.4m-9.2-9.2v18.4M1276.5 829.4h18.4m-9.2-9.2v18.4M1231.2 871.9h18.4m-9.2-9.2v18.4M1203.3 875.7h18.4m-9.2-9.2v18.4M1452.6 714.9h18.4m-9.2-9.2v18.4M1128.3 930.0h18.4m-9.2-9.2v18.4M1271.5 832.4h18.4m-9.2-9.2v18.4M1405.9 762.8h18.4m-9.2-9.2v18.4M1276.0 842.2h18.4m-9.2-9.2v18.4M1370.6 761.9h18.4m-9.2-9.2v18.4M1232.6 840.8h18.4m-9.2-9.2v18.4M1168.8 886.8h18.4m-9.2-9.2v18.4M1262.2 842.8h18.4m-9.2-9.2v18.4M1478.6 700.8h18.4m-9.2-9.2v18.4M1254.0 846.0h18.4m-9.2-9.2v18.4M913.6 1135.5h18.4m-9.2-9.2v18.4M928.7 1062.2h18.4m-9.2-9.2v18.4M756.8 1258.0h18.4m-9.2-9.2v18.4M789.1 1242.0h18.4m-9.2-9.2v18.4M766.2 1262.3h18.4m-9.2-9.2v18.4M755.9 1232.9h18.4m-9.2-9.2v18.4M904.2 1122.4h18.4m-9.2-9.2v18.4M799.0 1186.8h18.4m-9.2-9.2v18.4M916.0 1126.8h18.4m-9.2-9.2v18.4M853.0 1200.4h18.4m-9.2-9.2v18.4M828.1 1176.0h18.4m-9.2-9.2v18.4M754.5 1225.9h18.4m-9.2-9.2v18.4M804.9 1184.9h18.4m-9.2-9.2v18.4M912.6 1096.7h18.4m-9.2-9.2v18.4M839.6 1149.2h18.4m-9.2-9.2v18.4M699.1 1242.1h18.4m-9.2-9.2v18.4M947.3 1103.4h18.4m-9.2-9.2v18.4M852.5 1169.0h18.4m-9.2-9.2v18.4M706.3 1261.2h18.4m-9.2-9.2v18.4M924.0 1118.3h18.4m-9.2-9.2v18.4M895.7 1096.4h18.4m-9.2-9.2v18.4M762.6 1236.6h18.4m-9.2-9.2v18.4M878.1 1126.5h18.4m-9.2-9.2v18.4M783.6 1207.9h18.4m-9.2-9.2v18.4M878.9 1131.9h18.4m-9.2-9.2v18.4M986.7 1024.6h18.4m-9.2-9.2v18.4M824.8 1182.5h18.4m-9.2-9.2v18.4M964.9 1057.7h18.4m-9.2-9.2v18.4M943.8 1113.4h18.4m-9.2-9.2v18.4M705.5 1278.9h18.4m-9.2-9.2v18.4M825.0 1213.4h18.4m-9.2-9.2v18.4M952.0 1088.5h18.4m-9.2-9.2v18.4M903.2 1110.1h18.4m-9.2-9.2v18.4M899.8 1136.4h18.4m-9.2-9.2v18.4M936.3 1109.7h18.4m-9.2-9.2v18.4M992.8 1010.8h18.4m-9.2-9.2v18.4M877.7 1171.4h18.4m-9.2-9.2v18.4M960.6 1041.0h18.4m-9.2-9.2v18.4M855.7 1198.8h18.4m-9.2-9.2v18.4M872.3 1181.0h18.4m-9.2-9.2v18.4M781.7 1256.4h18.4m-9.2-9.2v18.4M746.4 1275.0h18.4m-9.2-9.2v18.4M758.6 1223.3h18.4m-9.2-9.2v18.4M762.9 1237.6h18.4m-9.2-9.2v18.4M808.4 1233.8h18.4m-9.2-9.2v18.4M808.6 1232.0h18.4m-9.2-9.2v18.4M803.3 1178.1h18.4m-9.2-9.2v18.4M905.5 1139.0h18.4m-9.2-9.2v18.4M922.3 1105.3h18.4m-9.2-9.2v18.4M963.3 1027.3h18.4m-9.2-9.2v18.4M713.8 1288.0h18.4m-9.2-9.2v18.4M868.7 1164.4h18.4m-9.2-9.2v18.4M951.2 1076.7h18.4m-9.2-9.2v18.4M949.5 1079.7h18.4m-9.2-9.2v18.4M934.8 1119.9h18.4m-9.2-9.2v18.4M756.6 1267.5h18.4m-9.2-9.2v18.4M911.0 1101.0h18.4m-9.2-9.2v18.4M972.4 1068.1h18.4m-9.2-9.2v18.4M959.5 1029.3h18.4m-9.2-9.2v18.4M789.1 1199.1h18.4m-9.2-9.2v18.4M814.4 1174.8h18.4m-9.2-9.2v18.4M932.2 1063.4h18.4m-9.2-9.2v18.4M784.2 1224.5h18.4m-9.2-9.2v18.4M737.9 1244.5h18.4m-9.2-9.2v18.4M798.7 1208.0h18.4m-9.2-9.2v18.4M708.4 1239.6h18.4m-9.2-9.2v18.4M914.3 1112.2h18.4m-9.2-9.2v18.4M967.6 1075.6h18.4m-9.2-9.2v18.4M768.1 1255.4h18.4m-9.2-9.2v18.4M758.9 1249.1h18.4m-9.2-9.2v18.4M881.8 1161.3h18.4m-9.2-9.2v18.4M993.3 1030.3h18.4m-9.2-9.2v18.4M721.3 1287.2h18.4m-9.2-9.2v18.4M929.7 1072.8h18.4m-9.2-9.2v18.4M937.5 1094.3h18.4m-9.2-9.2v18.4M759.2 1270.8h18.4m-9.2-9.2v18.4M857.6 1154.7h18.4m-9.2-9.2v18.4M931.7 1059.7h18.4m-9.2-9.2v18.4M716.1 1227.3h18.4m-9.2-9.2v18.4M816.7 1230.4h18.4m-9.2-9.2v18.4M903.7 1100.0h18.4m-9.2-9.2v18.4M977.4 1054.4h18.4m-9.2-9.2v18.4M939.0 1060.7h18.4m-9.2-9.2v18.4M745.3 1260.0h18.4m-9.2-9.2v18.4M846.5 1192.8h18.4m-9.2-9.2v18.4M832.5 1188.7h18.4m-9.2-9.2v18.4M849.4 1133.7h18.4m-9.2-9.2v18.4M957.0 1094.0h18.4m-9.2-9.2v18.4M745.9 1210.1h18.4m-9.2-9.2v18.4M796.0 1184.7h18.4m-9.2-9.2v18.4M914.8 1128.0h18.4m-9.2-9.2v18.4M920.9 1063.0h18.4m-9.2-9.2v18.4M891.8 1132.6h18.4m-9.2-9.2v18.4M821.6 1181.0h18.4m-9.2-9.2v18.4M976.3 1027.4h18.4m-9.2-9.2v18.4M823.8 1188.3h18.4m-9.2-9.2v18.4M799.2 1215.3h18.4m-9.2-9.2v18.4M825.5 1220.5h18.4m-9.2-9.2v18.4M893.6 1108.3h18.4m-9.2-9.2v18.4M819.4 1208.2h18.4m-9.2-9.2v18.4M947.8 1093.3h18.4m-9.2-9.2v18.4M711.4 1244.5h18.4m-9.2-9.2v18.4M941.5 1073.5h18.4m-9.2-9.2v18.4M693.2 1257.9h18.4m-9.2-9.2v18.4M947.5 1064.5h18.4m-9.2-9.2v18.4M692.2 1268.4h18.4m-9.2-9.2v18.4M827.5 1189.3h18.4m-9.2-9.2v18.4M944.1 1099.6h18.4m-9.2-9.2v18.4M837.2 1192.9h18.4m-9.2-9.2v18.4M742.4 1219.2h18.4m-9.2-9.2v18.4M767.8 1198.1h18.4m-9.2-9.2v18.4M826.5 1169.5h18.4m-9.2-9.2v18.4M949.0 1078.1h18.4m-9.2-9.2v18.4M696.9 1247.5h18.4m-9.2-9.2v18.4M997.6 1021.4h18.4m-9.2-9.2v18.4M817.2 1179.4h18.4m-9.2-9.2v18.4M773.0 1214.6h18.4m-9.2-9.2v18.4M710.8 1250.1h18.4m-9.2-9.2v18.4M773.0 1255.7h18.4m-9.2-9.2v18.4M816.2 1233.0h18.4m-9.2-9.2v18.4M872.0 1169.0h18.4m-9.2-9.2v18.4M764.2 1214.3h18.4m-9.2-9.2v18.4M955.5 1050.1h18.4m-9.2-9.2v18.4M947.6 1044.5h18.4m-9.2-9.2v18.4M852.6 1164.9h18.4m-9.2-9.2v18.4M720.1 1296.6h18.4m-9.2-9.2v18.4M797.8 1198.2h18.4m-9.2-9.2v18.4M773.1 1224.6h18.4m-9.2-9.2v18.4M791.7 1199.7h18.4m-9.2-9.2v18.4M870.6 1184.4h18.4m-9.2-9.2v18.4M910.9 1099.4h18.4m-9.2-9.2v18.4M837.6 1175.1h18.4m-9.2-9.2v18.4M947.6 1065.4h18.4m-9.2-9.2v18.4M946.3 1080.4h18.4m-9.2-9.2v18.4M942.9 1106.0h18.4m-9.2-9.2v18.4M920.1 1091.6h18.4m-9.2-9.2v18.4M734.3 1209.4h18.4m-9.2-9.2v18.4M890.9 1134.4h18.4m-9.2-9.2v18.4M753.6 1209.1h18.4m-9.2-9.2v18.4M827.7 1168.0h18.4m-9.2-9.2v18.4M780.6 1251.7h18.4m-9.2-9.2v18.4M987.6 1015.8h18.4m-9.2-9.2v18.4M961.5 1087.9h18.4m-9.2-9.2v18.4M704.5 1241.7h18.4m-9.2-9.2v18.4M942.6 1036.2h18.4m-9.2-9.2v18.4M952.2 1088.1h18.4m-9.2-9.2v18.4M741.8 1223.7h18.4m-9.2-9.2v18.4M891.5 1123.8h18.4m-9.2-9.2v18.4M805.0 1219.9h18.4m-9.2-9.2v18.4M725.5 1293.0h18.4m-9.2-9.2v18.4M947.0 1079.8h18.4m-9.2-9.2v18.4M914.4 1126.3h18.4m-9.2-9.2v18.4M974.7 1090.7h18.4m-9.2-9.2v18.4M861.8 1140.5h18.4m-9.2-9.2v18.4M772.2 1190.0h18.4m-9.2-9.2v18.4M725.6 1279.4h18.4m-9.2-9.2v18.4M985.6 1012.8h18.4m-9.2-9.2v18.4M803.9 1215.5h18.4m-9.2-9.2v18.4M718.1 1282.2h18.4m-9.2-9.2v18.4M955.9 1085.9h18.4m-9.2-9.2v18.4M915.1 1133.2h18.4m-9.2-9.2v18.4M916.9 1087.1h18.4m-9.2-9.2v18.4M680.1 1266.6h18.4m-9.2-9.2v18.4M699.0 1307.3h18.4m-9.2-9.2v18.4M720.4 1216.3h18.4m-9.2-9.2v18.4M856.7 1159.5h18.4m-9.2-9.2v18.4M943.0 1091.9h18.4m-9.2-9.2v18.4M799.0 1203.5h18.4m-9.2-9.2v18.4M860.8 1126.5h18.4m-9.2-9.2v18.4M752.8 1256.9h18.4m-9.2-9.2v18.4M799.0 1180.7h18.4m-9.2-9.2v18.4M751.1 1270.1h18.4m-9.2-9.2v18.4M882.3 1161.7h18.4m-9.2-9.2v18.4M968.5 1014.1h18.4m-9.2-9.2v18.4M961.4 1028.6h18.4m-9.2-9.2v18.4M750.2 1219.9h18.4m-9.2-9.2v18.4M868.9 1146.4h18.4m-9.2-9.2v18.4M898.6 1108.1h18.4m-9.2-9.2v18.4M862.6 1126.0h18.4m-9.2-9.2v18.4M769.1 1255.7h18.4m-9.2-9.2v18.4M907.2 1126.0h18.4m-9.2-9.2v18.4M714.4 1277.0h18.4m-9.2-9.2v18.4M819.8 1183.8h18.4m-9.2-9.2v18.4M935.5 1085.1h18.4m-9.2-9.2v18.4M773.2 1233.6h18.4m-9.2-9.2v18.4M705.4 1299.5h18.4m-9.2-9.2v18.4M824.2 1175.1h18.4m-9.2-9.2v18.4M689.6 1268.7h18.4m-9.2-9.2v18.4M681.4 1270.0h18.4m-9.2-9.2v18.4M827.3 1172.8h18.4m-9.2-9.2v18.4M761.4 1219.4h18.4m-9.2-9.2v18.4M721.2 1276.6h18.4m-9.2-9.2v18.4M811.6 1182.9h18.4m-9.2-9.2v18.4M781.4 1179.0h18.4m-9.2-9.2v18.4M804.5 1187.4h18.4m-9.2-9.2v18.4M975.1 1050.4h18.4m-9.2-9.2v18.4M732.8 1210.0h18.4m-9.2-9.2v18.4M926.6 1107.9h18.4m-9.2-9.2v18.4M887.2 1164.8h18.4m-9.2-9.2v18.4M709.2 1235.2h18.4m-9.2-9.2v18.4M908.0 1067.0h18.4m-9.2-9.2v18.4M805.3 1166.7h18.4m-9.2-9.2v18.4M942.4 1082.7h18.4m-9.2-9.2v18.4M801.6 1165.3h18.4m-9.2-9.2v18.4M939.8 1104.9h18.4m-9.2-9.2v18.4M792.5 1199.6h18.4m-9.2-9.2v18.4M866.8 1141.0h18.4m-9.2-9.2v18.4M707.5 1267.9h18.4m-9.2-9.2v18.4M945.3 1043.7h18.4m-9.2-9.2v18.4M713.1 1287.5h18.4m-9.2-9.2v18.4M910.7 1068.2h18.4m-9.2-9.2v18.4M837.8 1200.9h18.4m-9.2-9.2v18.4M954.6 1055.6h18.4m-9.2-9.2v18.4M941.0 1122.0h18.4m-9.2-9.2v18.4M682.5 1282.6h18.4m-9.2-9.2v18.4M775.9 1182.1h18.4m-9.2-9.2v18.4M919.2 1120.3h18.4m-9.2-9.2v18.4M732.8 1243.5h18.4m-9.2-9.2v18.4M890.6 1145.1h18.4m-9.2-9.2v18.4M917.1 1058.3h18.4m-9.2-9.2v18.4M822.5 1223.0h18.4m-9.2-9.2v18.4M985.4 1057.4h18.4m-9.2-9.2v18.4M691.5 1255.4h18.4m-9.2-9.2v18.4M793.4 1212.7h18.4m-9.2-9.2v18.4M876.7 1160.9h18.4m-9.2-9.2v18.4M934.7 1109.5h18.4m-9.2-9.2v18.4M984.5 1022.2h18.4m-9.2-9.2v18.4M763.3 1205.7h18.4m-9.2-9.2v18.4M716.5 1218.4h18.4m-9.2-9.2v18.4M922.1 1126.9h18.4m-9.2-9.2v18.4M867.4 1127.0h18.4m-9.2-9.2v18.4M771.5 1231.5h18.4m-9.2-9.2v18.4M915.4 1132.4h18.4m-9.2-9.2v18.4M812.4 1207.2h18.4m-9.2-9.2v18.4M772.7 1217.7h18.4m-9.2-9.2v18.4M726.3 1274.7h18.4m-9.2-9.2v18.4M979.8 1083.8h18.4m-9.2-9.2v18.4M943.4 1040.2h18.4m-9.2-9.2v18.4M749.6 1223.8h18.4m-9.2-9.2v18.4M770.2 1203.0h18.4m-9.2-9.2v18.4M821.7 1169.1h18.4m-9.2-9.2v18.4M781.6 1200.5h18.4m-9.2-9.2v18.4M796.0 1189.3h18.4m-9.2-9.2v18.4M898.3 1107.5h18.4m-9.2-9.2v18.4M802.4 1169.5h18.4m-9.2-9.2v18.4M845.1 1157.2h18.4m-9.2-9.2v18.4M843.2 1171.3h18.4m-9.2-9.2v18.4M942.1 1072.6h18.4m-9.2-9.2v18.4M697.0 1258.5h18.4m-9.2-9.2v18.4M862.0 1150.6h18.4m-9.2-9.2v18.4M897.8 1123.3h18.4m-9.2-9.2v18.4M886.2 1150.3h18.4m-9.2-9.2v18.4M962.7 1070.6h18.4m-9.2-9.2v18.4M898.0 1138.2h18.4m-9.2-9.2v18.4M906.1 1082.6h18.4m-9.2-9.2v18.4M708.9 1260.7h18.4m-9.2-9.2v18.4M866.1 1125.4h18.4m-9.2-9.2v18.4M719.6 1287.0h18.4m-9.2-9.2v18.4M921.0 1125.6h18.4m-9.2-9.2v18.4M798.4 1189.4h18.4m-9.2-9.2v18.4M799.2 1216.1h18.4m-9.2-9.2v18.4M950.5 1035.4h18.4m-9.2-9.2v18.4M789.7 1109.8h18.4m-9.2-9.2v18.4M812.9 1118.4h18.4m-9.2-9.2v18.4M794.6 1133.0h18.4m-9.2-9.2v18.4M806.8 1134.2h18.4m-9.2-9.2v18.4M817.8 1133.0h18.4m-9.2-9.2v18.4M822.7 1147.7h18.4m-9.2-9.2v18.4M865.4 1109.8h18.4m-9.2-9.2v18.4M874.0 1108.6h18.4m-9.2-9.2v18.4M881.3 1095.2h18.4m-9.2-9.2v18.4M886.2 1091.5h18.4m-9.2-9.2v18.4M870.3 1147.7h18.4m-9.2-9.2v18.4M855.6 1155.0h18.4m-9.2-9.2v18.4M798.2 1159.9h18.4m-9.2-9.2v18.4M806.8 1166.0h18.4m-9.2-9.2v18.4M761.6 1169.7h18.4m-9.2-9.2v18.4M786.0 1177.0h18.4m-9.2-9.2v18.4M772.6 1184.3h18.4m-9.2-9.2v18.4M788.5 1239.0h18.4m-9.2-9.2v18.4M715.8 1227.0h18.4m-9.2-9.2v18.4M725.8 1230.0h18.4m-9.2-9.2v18.4M832.1 1192.6h18.4m-9.2-9.2v18.4M836.1 1181.3h18.4m-9.2-9.2v18.4M808.9 1206.2h18.4m-9.2-9.2v18.4M831.6 1199.1h18.4m-9.2-9.2v18.4M847.5 1197.6h18.4m-9.2-9.2v18.4M841.7 1200.1h18.4m-9.2-9.2v18.4M853.9 1183.8h18.4m-9.2-9.2v18.4M845.5 1196.0h18.4m-9.2-9.2v18.4M856.0 1204.5h18.4m-9.2-9.2v18.4M819.6 1199.4h18.4m-9.2-9.2v18.4M829.7 1182.0h18.4m-9.2-9.2v18.4M838.5 1180.6h18.4m-9.2-9.2v18.4M826.7 1185.3h18.4m-9.2-9.2v18.4M860.7 1183.9h18.4m-9.2-9.2v18.4M817.5 1192.3h18.4m-9.2-9.2v18.4M846.1 1176.2h18.4m-9.2-9.2v18.4M806.6 1198.1h18.4m-9.2-9.2v18.4M851.6 1175.0h18.4m-9.2-9.2v18.4M842.0 1200.4h18.4m-9.2-9.2v18.4M814.8 1190.5h18.4m-9.2-9.2v18.4M833.1 1177.1h18.4m-9.2-9.2v18.4M843.2 1201.8h18.4m-9.2-9.2v18.4M845.9 1189.0h18.4m-9.2-9.2v18.4M853.8 1197.9h18.4m-9.2-9.2v18.4M811.5 1205.2h18.4m-9.2-9.2v18.4M847.8 1190.9h18.4m-9.2-9.2v18.4M774.1 1211.8h18.4m-9.2-9.2v18.4M770.0 1213.8h18.4m-9.2-9.2v18.4M762.6 1198.6h18.4m-9.2-9.2v18.4M766.8 1205.9h18.4m-9.2-9.2v18.4M780.2 1199.4h18.4m-9.2-9.2v18.4M770.0 1211.9h18.4m-9.2-9.2v18.4M758.3 1209.8h18.4m-9.2-9.2v18.4M773.3 1200.3h18.4m-9.2-9.2v18.4M759.8 1216.5h18.4m-9.2-9.2v18.4M744.5 1225.9h18.4m-9.2-9.2v18.4M743.0 1205.1h18.4m-9.2-9.2v18.4M760.5 1209.7h18.4m-9.2-9.2v18.4M744.0 1219.0h18.4m-9.2-9.2v18.4M745.3 1216.7h18.4m-9.2-9.2v18.4M737.4 1208.2h18.4m-9.2-9.2v18.4M1624.1 735.7h18.4m-9.2-9.2v18.4M1691.9 667.9h18.4m-9.2-9.2v18.4M1680.9 686.3h18.4m-9.2-9.2v18.4M1704.7 618.5h18.4m-9.2-9.2v18.4M1713.8 614.8h18.4m-9.2-9.2v18.4M1530.8 677.3h18.4m-9.2-9.2v18.4M1743.5 622.1h18.4m-9.2-9.2v18.4M1520.4 699.3h18.4m-9.2-9.2v18.4M1640.4 633.6h18.4m-9.2-9.2v18.4M1541.0 694.4h18.4m-9.2-9.2v18.4M1553.1 689.9h18.4m-9.2-9.2v18.4M1495.6 696.7h18.4m-9.2-9.2v18.4M1758.1 602.3h18.4m-9.2-9.2v18.4M1490.0 719.7h18.4m-9.2-9.2v18.4M1703.1 629.2h18.4m-9.2-9.2v18.4M1600.3 675.8h18.4m-9.2-9.2v18.4M1703.7 601.3h18.4m-9.2-9.2v18.4M1657.5 635.7h18.4m-9.2-9.2v18.4M1560.2 694.8h18.4m-9.2-9.2v18.4M1595.2 659.4h18.4m-9.2-9.2v18.4M1446.2 727.5h18.4m-9.2-9.2v18.4M1558.5 668.5h18.4m-9.2-9.2v18.4M1431.9 739.6h18.4m-9.2-9.2v18.4M1762.7 605.2h18.4m-9.2-9.2v18.4M1685.3 608.4h18.4m-9.2-9.2v18.4M1719.8 611.6h18.4m-9.2-9.2v18.4M1427.0 748.2h18.4m-9.2-9.2v18.4M1504.5 687.6h18.4m-9.2-9.2v18.4M1759.2 614.5h18.4m-9.2-9.2v18.4M1602.7 655.4h18.4m-9.2-9.2v18.4M1711.3 618.7h18.4m-9.2-9.2v18.4M1713.1 622.7h18.4m-9.2-9.2v18.4M1684.9 611.7h18.4m-9.2-9.2v18.4M1725.8 617.7h18.4m-9.2-9.2v18.4M1574.0 673.5h18.4m-9.2-9.2v18.4M1513.1 700.8h18.4m-9.2-9.2v18.4M1633.1 634.8h18.4m-9.2-9.2v18.4M1694.9 614.0h18.4m-9.2-9.2v18.4M1439.2 730.2h18.4m-9.2-9.2v18.4M1530.9 680.5h18.4m-9.2-9.2v18.4M1579.3 651.4h18.4m-9.2-9.2v18.4M1739.4 600.5h18.4m-9.2-9.2v18.4M1740.1 620.0h18.4m-9.2-9.2v18.4M1703.4 615.3h18.4m-9.2-9.2v18.4M1763.7 621.0h18.4m-9.2-9.2v18.4M1729.8 608.9h18.4m-9.2-9.2v18.4M1433.9 732.0h18.4m-9.2-9.2v18.4M1421.2 740.8h18.4m-9.2-9.2v18.4M1742.1 613.2h18.4m-9.2-9.2v18.4M1753.4 617.6h18.4m-9.2-9.2v18.4M1582.9 660.2h18.4m-9.2-9.2v18.4M1727.3 606.8h18.4m-9.2-9.2v18.4M1632.1 647.1h18.4m-9.2-9.2v18.4M1444.7 739.2h18.4m-9.2-9.2v18.4M1429.0 722.6h18.4m-9.2-9.2v18.4M1696.7 624.2h18.4m-9.2-9.2v18.4M1750.3 617.6h18.4m-9.2-9.2v18.4M1426.4 722.9h18.4m-9.2-9.2v18.4M1599.6 660.5h18.4m-9.2-9.2v18.4M1574.8 683.7h18.4m-9.2-9.2v18.4M1541.0 691.1h18.4m-9.2-9.2v18.4M1495.8 723.4h18.4m-9.2-9.2v18.4M1448.6 720.1h18.4m-9.2-9.2v18.4M1499.6 715.8h18.4m-9.2-9.2v18.4M1600.4 660.9h18.4m-9.2-9.2v18.4M1465.6 735.5h18.4m-9.2-9.2v18.4M1632.6 651.2h18.4m-9.2-9.2v18.4M1631.1 654.3h18.4m-9.2-9.2v18.4M1461.9 723.7h18.4m-9.2-9.2v18.4M1689.9 620.4h18.4m-9.2-9.2v18.4M1638.0 666.9h18.4m-9.2-9.2v18.4M1492.3 717.0h18.4m-9.2-9.2v18.4M1503.5 697.2h18.4m-9.2-9.2v18.4M1648.1 630.3h18.4m-9.2-9.2v18.4M1634.4 639.1h18.4m-9.2-9.2v18.4M1672.1 617.6h18.4m-9.2-9.2v18.4M1727.4 611.2h18.4m-9.2-9.2v18.4M1696.9 613.2h18.4m-9.2-9.2v18.4M1541.1 675.3h18.4m-9.2-9.2v18.4M1497.7 722.2h18.4m-9.2-9.2v18.4M1524.0 701.8h18.4m-9.2-9.2v18.4M1721.4 619.1h18.4m-9.2-9.2v18.4M1548.3 692.0h18.4m-9.2-9.2v18.4M1473.3 729.9h18.4m-9.2-9.2v18.4M1518.7 678.2h18.4m-9.2-9.2v18.4M1619.7 640.9h18.4m-9.2-9.2v18.4M1444.6 718.6h18.4m-9.2-9.2v18.4M1545.5 695.5h18.4m-9.2-9.2v18.4M1747.2 603.4h18.4m-9.2-9.2v18.4M1726.0 615.6h18.4m-9.2-9.2v18.4M1646.5 627.9h18.4m-9.2-9.2v18.4M1602.4 663.8h18.4m-9.2-9.2v18.4M1710.2 628.6h18.4m-9.2-9.2v18.4M1511.6 689.3h18.4m-9.2-9.2v18.4M1695.2 610.5h18.4m-9.2-9.2v18.4M1572.3 686.5h18.4m-9.2-9.2v18.4M1521.3 697.7h18.4m-9.2-9.2v18.4M1585.8 676.4h18.4m-9.2-9.2v18.4M1541.9 693.4h18.4m-9.2-9.2v18.4M1436.6 745.1h18.4m-9.2-9.2v18.4M1604.4 669.8h18.4m-9.2-9.2v18.4M1502.0 708.5h18.4m-9.2-9.2v18.4M1738.4 613.3h18.4m-9.2-9.2v18.4M1672.5 611.0h18.4m-9.2-9.2v18.4M1733.4 609.7h18.4m-9.2-9.2v18.4M1658.7 634.8h18.4m-9.2-9.2v18.4M1509.9 704.1h18.4m-9.2-9.2v18.4M1692.6 632.2h18.4m-9.2-9.2v18.4M1579.2 669.5h18.4m-9.2-9.2v18.4M1423.0 740.1h18.4m-9.2-9.2v18.4M1706.3 623.7h18.4m-9.2-9.2v18.4M1577.3 688.4h18.4m-9.2-9.2v18.4M1421.1 740.1h18.4m-9.2-9.2v18.4M1627.3 642.7h18.4m-9.2-9.2v18.4M1574.3 680.2h18.4m-9.2-9.2v18.4M1675.7 623.3h18.4m-9.2-9.2v18.4M1700.9 616.4h18.4m-9.2-9.2v18.4M1681.7 634.9h18.4m-9.2-9.2v18.4M1625.8 648.8h18.4m-9.2-9.2v18.4M1580.1 661.9h18.4m-9.2-9.2v18.4M1519.5 689.2h18.4m-9.2-9.2v18.4M1515.3 684.0h18.4m-9.2-9.2v18.4M1684.4 607.5h18.4m-9.2-9.2v18.4M1551.8 684.5h18.4m-9.2-9.2v18.4M1625.2 637.4h18.4m-9.2-9.2v18.4M1659.1 629.9h18.4m-9.2-9.2v18.4M1443.0 736.0h18.4m-9.2-9.2v18.4M1546.7 688.6h18.4m-9.2-9.2v18.4M1626.5 659.7h18.4m-9.2-9.2v18.4M1634.5 653.1h18.4m-9.2-9.2v18.4M1454.3 714.6h18.4m-9.2-9.2v18.4M1752.1 614.2h18.4m-9.2-9.2v18.4M1580.6 672.4h18.4m-9.2-9.2v18.4M1507.2 699.7h18.4m-9.2-9.2v18.4M1721.4 620.8h18.4m-9.2-9.2v18.4M1695.8 618.0h18.4m-9.2-9.2v18.4M1526.0 677.6h18.4m-9.2-9.2v18.4M1505.8 688.9h18.4m-9.2-9.2v18.4M1678.2 610.0h18.4m-9.2-9.2v18.4M1642.3 642.5h18.4m-9.2-9.2v18.4M1474.0 711.6h18.4m-9.2-9.2v18.4M1551.3 683.1h18.4m-9.2-9.2v18.4M1601.8 679.0h18.4m-9.2-9.2v18.4M1673.8 614.1h18.4m-9.2-9.2v18.4M1451.5 721.7h18.4m-9.2-9.2v18.4M1646.5 650.4h18.4m-9.2-9.2v18.4M1440.2 744.2h18.4m-9.2-9.2v18.4M1664.7 643.1h18.4m-9.2-9.2v18.4M1759.5 618.8h18.4m-9.2-9.2v18.4M1547.0 679.7h18.4m-9.2-9.2v18.4M1708.1 609.1h18.4m-9.2-9.2v18.4M1626.5 671.7h18.4m-9.2-9.2v18.4M1667.3 635.5h18.4m-9.2-9.2v18.4M1697.9 626.7h18.4m-9.2-9.2v18.4M1448.3 712.0h18.4m-9.2-9.2v18.4M1495.7 713.6h18.4m-9.2-9.2v18.4M1589.9 662.7h18.4m-9.2-9.2v18.4M1686.0 642.9h18.4m-9.2-9.2v18.4M1554.4 696.2h18.4m-9.2-9.2v18.4M1590.3 649.4h18.4m-9.2-9.2v18.4M1780.6 607.6h18.4m-9.2-9.2v18.4M1457.1 716.6h18.4m-9.2-9.2v18.4M1639.4 666.6h18.4m-9.2-9.2v18.4M1738.0 608.9h18.4m-9.2-9.2v18.4M1737.3 622.3h18.4m-9.2-9.2v18.4M1681.6 647.2h18.4m-9.2-9.2v18.4M1568.4 663.5h18.4m-9.2-9.2v18.4M1667.3 626.1h18.4m-9.2-9.2v18.4M1775.4 621.2h18.4m-9.2-9.2v18.4M1473.5 699.0h18.4m-9.2-9.2v18.4M1561.9 689.6h18.4m-9.2-9.2v18.4M1481.6 726.0h18.4m-9.2-9.2v18.4M1628.7 666.8h18.4m-9.2-9.2v18.4M1571.0 656.1h18.4m-9.2-9.2v18.4M1639.0 649.7h18.4m-9.2-9.2v18.4M1738.2 617.6h18.4m-9.2-9.2v18.4M1727.0 622.2h18.4m-9.2-9.2v18.4M1777.3 599.5h18.4m-9.2-9.2v18.4M1763.1 604.4h18.4m-9.2-9.2v18.4M1459.3 709.7h18.4m-9.2-9.2v18.4M1434.5 726.7h18.4m-9.2-9.2v18.4M1673.5 635.3h18.4m-9.2-9.2v18.4M1679.4 627.9h18.4m-9.2-9.2v18.4M1570.4 686.8h18.4m-9.2-9.2v18.4M1637.9 635.0h18.4m-9.2-9.2v18.4M1729.8 602.0h18.4m-9.2-9.2v18.4M1636.0 658.9h18.4m-9.2-9.2v18.4M1568.5 690.0h18.4m-9.2-9.2v18.4M1695.9 626.4h18.4m-9.2-9.2v18.4M1676.9 648.4h18.4m-9.2-9.2v18.4M1488.5 698.6h18.4m-9.2-9.2v18.4M1518.7 692.0h18.4m-9.2-9.2v18.4M1490.1 704.7h18.4m-9.2-9.2v18.4M1692.7 618.4h18.4m-9.2-9.2v18.4M1610.7 670.0h18.4m-9.2-9.2v18.4M1670.2 648.7h18.4m-9.2-9.2v18.4M1740.5 621.9h18.4m-9.2-9.2v18.4M1659.0 636.2h18.4m-9.2-9.2v18.4M1433.5 744.9h18.4m-9.2-9.2v18.4M1666.3 623.2h18.4m-9.2-9.2v18.4M1481.9 719.9h18.4m-9.2-9.2v18.4M1768.5 609.7h18.4m-9.2-9.2v18.4M1731.6 610.4h18.4m-9.2-9.2v18.4M1697.7 632.7h18.4m-9.2-9.2v18.4M1613.9 657.5h18.4m-9.2-9.2v18.4M1604.9 678.1h18.4m-9.2-9.2v18.4M1645.5 627.0h18.4m-9.2-9.2v18.4M1704.8 617.6h18.4m-9.2-9.2v18.4M1702.8 611.9h18.4m-9.2-9.2v18.4M1625.6 669.4h18.4m-9.2-9.2v18.4M1724.6 608.7h18.4m-9.2-9.2v18.4M1498.7 690.2h18.4m-9.2-9.2v18.4M1606.9 642.2h18.4m-9.2-9.2v18.4M1463.8 728.7h18.4m-9.2-9.2v18.4M1504.9 690.6h18.4m-9.2-9.2v18.4M1446.2 741.6h18.4m-9.2-9.2v18.4M1555.7 667.5h18.4m-9.2-9.2v18.4M1558.2 679.5h18.4m-9.2-9.2v18.4M1422.7 739.1h18.4m-9.2-9.2v18.4M1756.1 602.4h18.4m-9.2-9.2v18.4M1464.0 713.1h18.4m-9.2-9.2v18.4M1682.1 609.4h18.4m-9.2-9.2v18.4M1547.0 698.0h18.4m-9.2-9.2v18.4M1539.3 692.6h18.4m-9.2-9.2v18.4M1748.2 610.2h18.4m-9.2-9.2v18.4M1710.6 608.2h18.4m-9.2-9.2v18.4M1599.7 650.4h18.4m-9.2-9.2v18.4M1452.0 719.6h18.4m-9.2-9.2v18.4M1705.2 626.4h18.4m-9.2-9.2v18.4M1649.8 632.3h18.4m-9.2-9.2v18.4M1625.0 658.6h18.4m-9.2-9.2v18.4M1601.9 679.9h18.4m-9.2-9.2v18.4M1643.0 630.8h18.4m-9.2-9.2v18.4M1766.3 610.5h18.4m-9.2-9.2v18.4M1636.1 658.8h18.4m-9.2-9.2v18.4M1427.2 745.5h18.4m-9.2-9.2v18.4M1436.2 733.3h18.4m-9.2-9.2v18.4M1451.3 738.8h18.4m-9.2-9.2v18.4M1649.4 654.5h18.4m-9.2-9.2v18.4M1460.0 729.3h18.4m-9.2-9.2v18.4M1485.2 714.0h18.4m-9.2-9.2v18.4M1737.7 618.9h18.4m-9.2-9.2v18.4M1582.7 658.9h18.4m-9.2-9.2v18.4M1601.2 675.7h18.4m-9.2-9.2v18.4M1601.0 643.5h18.4m-9.2-9.2v18.4M1443.2 728.8h18.4m-9.2-9.2v18.4M1772.0 606.6h18.4m-9.2-9.2v18.4M1637.6 658.7h18.4m-9.2-9.2v18.4M1610.4 668.0h18.4m-9.2-9.2v18.4M1559.7 690.4h18.4m-9.2-9.2v18.4M1708.9 602.8h18.4m-9.2-9.2v18.4M1533.4 679.9h18.4m-9.2-9.2v18.4M1436.4 748.3h18.4m-9.2-9.2v18.4M1657.3 648.6h18.4m-9.2-9.2v18.4M1636.3 638.9h18.4m-9.2-9.2v18.4M1552.8 685.3h18.4m-9.2-9.2v18.4M1757.3 614.6h18.4m-9.2-9.2v18.4M1563.2 666.5h18.4m-9.2-9.2v18.4M1682.8 629.8h18.4m-9.2-9.2v18.4M1515.2 692.6h18.4m-9.2-9.2v18.4M1733.4 608.2h18.4m-9.2-9.2v18.4M1488.8 699.3h18.4m-9.2-9.2v18.4M1578.9 661.9h18.4m-9.2-9.2v18.4M1584.1 650.5h18.4m-9.2-9.2v18.4M1596.9 655.6h18.4m-9.2-9.2v18.4M1610.0 670.2h18.4m-9.2-9.2v18.4M1575.8 692.1h18.4m-9.2-9.2v18.4M1622.2 662.0h18.4m-9.2-9.2v18.4M1626.6 637.2h18.4m-9.2-9.2v18.4M1495.0 702.3h18.4m-9.2-9.2v18.4M1633.6 641.5h18.4m-9.2-9.2v18.4M1567.9 677.3h18.4m-9.2-9.2v18.4M1755.2 599.4h18.4m-9.2-9.2v18.4M1659.0 648.4h18.4m-9.2-9.2v18.4M1538.4 697.2h18.4m-9.2-9.2v18.4M1444.5 732.8h18.4m-9.2-9.2v18.4M1769.0 603.4h18.4m-9.2-9.2v18.4M1704.9 621.8h18.4m-9.2-9.2v18.4M1542.2 704.7h18.4m-9.2-9.2v18.4M1743.1 606.1h18.4m-9.2-9.2v18.4M1652.4 645.7h18.4m-9.2-9.2v18.4M1608.8 647.3h18.4m-9.2-9.2v18.4M1664.6 652.6h18.4m-9.2-9.2v18.4M1644.3 626.7h18.4m-9.2-9.2v18.4M1478.0 729.1h18.4m-9.2-9.2v18.4M1478.2 729.8h18.4m-9.2-9.2v18.4M1435.1 726.5h18.4m-9.2-9.2v18.4M1668.9 619.3h18.4m-9.2-9.2v18.4M1534.9 695.0h18.4m-9.2-9.2v18.4M1683.7 609.0h18.4m-9.2-9.2v18.4M1757.6 608.4h18.4m-9.2-9.2v18.4M1660.3 642.9h18.4m-9.2-9.2v18.4M1723.6 623.1h18.4m-9.2-9.2v18.4M1550.9 697.2h18.4m-9.2-9.2v18.4M1609.8 669.2h18.4m-9.2-9.2v18.4M1436.1 736.9h18.4m-9.2-9.2v18.4M1607.8 654.5h18.4m-9.2-9.2v18.4M1703.6 622.4h18.4m-9.2-9.2v18.4M1619.0 646.8h18.4m-9.2-9.2v18.4M1437.2 748.7h18.4m-9.2-9.2v18.4M1544.4 698.4h18.4m-9.2-9.2v18.4M1599.0 678.3h18.4m-9.2-9.2v18.4M1495.3 692.1h18.4m-9.2-9.2v18.4M1639.3 666.7h18.4m-9.2-9.2v18.4M1529.3 706.1h18.4m-9.2-9.2v18.4M1729.7 611.8h18.4m-9.2-9.2v18.4M1598.5 679.6h18.4m-9.2-9.2v18.4M1621.2 636.4h18.4m-9.2-9.2v18.4M1563.8 682.4h18.4m-9.2-9.2v18.4M1472.4 714.0h18.4m-9.2-9.2v18.4M1679.8 626.8h18.4m-9.2-9.2v18.4M1647.8 647.0h18.4m-9.2-9.2v18.4M1659.8 658.7h18.4m-9.2-9.2v18.4M1772.8 621.0h18.4m-9.2-9.2v18.4M1660.5 655.6h18.4m-9.2-9.2v18.4M1499.7 715.0h18.4m-9.2-9.2v18.4M1551.9 683.8h18.4m-9.2-9.2v18.4M1550.0 687.7h18.4m-9.2-9.2v18.4M1626.5 659.5h18.4m-9.2-9.2v18.4M1527.6 681.2h18.4m-9.2-9.2v18.4M1556.2 668.9h18.4m-9.2-9.2v18.4M1750.8 612.7h18.4m-9.2-9.2v18.4M1690.4 603.6h18.4m-9.2-9.2v18.4M1598.7 645.3h18.4m-9.2-9.2v18.4M1493.4 713.0h18.4m-9.2-9.2v18.4M1679.9 636.1h18.4m-9.2-9.2v18.4M1424.5 764.7h18.4m-9.2-9.2v18.4M1728.1 641.8h18.4m-9.2-9.2v18.4M1766.6 667.4h18.4m-9.2-9.2v18.4M1797.7 660.1h18.4m-9.2-9.2v18.4M1806.9 667.4h18.4m-9.2-9.2v18.4M1852.7 630.8h18.4m-9.2-9.2v18.4M1871.0 630.8h18.4m-9.2-9.2v18.4M1893.0 645.4h18.4m-9.2-9.2v18.4M1931.4 605.1h18.4m-9.2-9.2v18.4M1947.9 616.1h18.4m-9.2-9.2v18.4M1966.2 617.9h18.4m-9.2-9.2v18.4M1966.2 638.1h18.4m-9.2-9.2v18.4M1964.4 597.8h18.4m-9.2-9.2v18.4M1757.4 605.1h18.4m-9.2-9.2v18.4M1762.9 614.3h18.4m-9.2-9.2v18.4M1812.4 627.1h18.4m-9.2-9.2v18.4M1750.2 619.7h18.4m-9.2-9.2v18.4M1846.6 588.0h18.4m-9.2-9.2v18.4M1796.8 599.0h18.4m-9.2-9.2v18.4M1779.0 581.0h18.4m-9.2-9.2v18.4M1829.5 598.0h18.4m-9.2-9.2v18.4M1961.7 547.4h18.4m-9.2-9.2v18.4M1847.7 590.7h18.4m-9.2-9.2v18.4M1931.2 562.0h18.4m-9.2-9.2v18.4M1808.3 601.5h18.4m-9.2-9.2v18.4M1877.4 563.8h18.4m-9.2-9.2v18.4M1950.0 535.7h18.4m-9.2-9.2v18.4M1729.9 600.0h18.4m-9.2-9.2v18.4M1806.2 584.7h18.4m-9.2-9.2v18.4M1889.3 555.6h18.4m-9.2-9.2v18.4M1921.3 551.1h18.4m-9.2-9.2v18.4M1738.0 590.0h18.4m-9.2-9.2v18.4M1871.1 552.1h18.4m-9.2-9.2v18.4M1835.4 594.3h18.4m-9.2-9.2v18.4M1869.4 582.8h18.4m-9.2-9.2v18.4M1770.6 609.1h18.4m-9.2-9.2v18.4M1923.6 549.0h18.4m-9.2-9.2v18.4M1793.8 590.4h18.4m-9.2-9.2v18.4M1848.0 563.1h18.4m-9.2-9.2v18.4M1755.8 606.7h18.4m-9.2-9.2v18.4M1931.3 548.7h18.4m-9.2-9.2v18.4M1811.5 571.8h18.4m-9.2-9.2v18.4M1805.5 587.5h18.4m-9.2-9.2v18.4M1929.2 544.7h18.4m-9.2-9.2v18.4M1764.3 615.7h18.4m-9.2-9.2v18.4M1888.9 544.3h18.4m-9.2-9.2v18.4M1784.7 582.8h18.4m-9.2-9.2v18.4M1750.8 618.1h18.4m-9.2-9.2v18.4M1921.8 567.3h18.4m-9.2-9.2v18.4M1813.9 603.7h18.4m-9.2-9.2v18.4M1751.2 589.8h18.4m-9.2-9.2v18.4M1747.2 605.6h18.4m-9.2-9.2v18.4M1747.3 605.0h18.4m-9.2-9.2v18.4M1827.8 587.9h18.4m-9.2-9.2v18.4M1888.2 542.2h18.4m-9.2-9.2v18.4M1922.7 558.5h18.4m-9.2-9.2v18.4M1875.8 572.2h18.4m-9.2-9.2v18.4M1884.3 566.9h18.4m-9.2-9.2v18.4M1776.3 610.8h18.4m-9.2-9.2v18.4M1772.2 590.3h18.4m-9.2-9.2v18.4M1837.3 568.8h18.4m-9.2-9.2v18.4M1877.2 569.4h18.4m-9.2-9.2v18.4M1799.9 577.9h18.4m-9.2-9.2v18.4M1828.9 595.2h18.4m-9.2-9.2v18.4M1760.9 602.4h18.4m-9.2-9.2v18.4M1789.5 580.9h18.4m-9.2-9.2v18.4M1874.0 577.3h18.4m-9.2-9.2v18.4M1968.8 535.0h18.4m-9.2-9.2v18.4M1878.2 545.9h18.4m-9.2-9.2v18.4M1757.3 614.3h18.4m-9.2-9.2v18.4M1884.6 560.7h18.4m-9.2-9.2v18.4M1843.7 584.9h18.4m-9.2-9.2v18.4M1778.0 592.1h18.4m-9.2-9.2v18.4M1807.9 575.6h18.4m-9.2-9.2v18.4M1891.2 563.2h18.4m-9.2-9.2v18.4M1906.2 551.9h18.4m-9.2-9.2v18.4M1802.0 581.4h18.4m-9.2-9.2v18.4M1831.1 570.8h18.4m-9.2-9.2v18.4M1804.7 588.6h18.4m-9.2-9.2v18.4M1912.3 561.9h18.4m-9.2-9.2v18.4M1879.3 565.1h18.4m-9.2-9.2v18.4M1837.4 556.9h18.4m-9.2-9.2v18.4M1967.5 548.9h18.4m-9.2-9.2v18.4M1851.4 544.6h18.4m-9.2-9.2v18.4M1788.1 598.0h18.4m-9.2-9.2v18.4M1774.7 597.7h18.4m-9.2-9.2v18.4M1894.8 547.2h18.4m-9.2-9.2v18.4M1873.9 543.2h18.4m-9.2-9.2v18.4M1934.9 535.2h18.4m-9.2-9.2v18.4M1872.2 548.9h18.4m-9.2-9.2v18.4M1811.7 580.1h18.4m-9.2-9.2v18.4M1872.8 579.3h18.4m-9.2-9.2v18.4M1919.2 560.8h18.4m-9.2-9.2v18.4M1729.1 619.7h18.4m-9.2-9.2v18.4M1802.4 597.7h18.4m-9.2-9.2v18.4M1915.2 531.9h18.4m-9.2-9.2v18.4M1916.6 540.0h18.4m-9.2-9.2v18.4M1721.7 610.3h18.4m-9.2-9.2v18.4M1913.9 552.4h18.4m-9.2-9.2v18.4M1804.1 574.9h18.4m-9.2-9.2v18.4M1896.7 534.4h18.4m-9.2-9.2v18.4M1898.3 568.8h18.4m-9.2-9.2v18.4M1837.3 553.1h18.4m-9.2-9.2v18.4M1946.8 556.6h18.4m-9.2-9.2v18.4M1815.5 580.7h18.4m-9.2-9.2v18.4M1771.5 583.8h18.4m-9.2-9.2v18.4M1811.9 572.9h18.4m-9.2-9.2v18.4M1851.4 563.6h18.4m-9.2-9.2v18.4M1962.8 551.8h18.4m-9.2-9.2v18.4M1829.3 595.7h18.4m-9.2-9.2v18.4M1815.7 601.2h18.4m-9.2-9.2v18.4M1901.5 561.8h18.4m-9.2-9.2v18.4M1824.7 592.8h18.4m-9.2-9.2v18.4M1963.4 531.1h18.4m-9.2-9.2v18.4M1879.3 578.0h18.4m-9.2-9.2v18.4M1941.7 560.9h18.4m-9.2-9.2v18.4M1742.2 596.1h18.4m-9.2-9.2v18.4M1885.6 542.6h18.4m-9.2-9.2v18.4M1846.6 591.6h18.4m-9.2-9.2v18.4M1765.1 596.0h18.4m-9.2-9.2v18.4M1752.1 598.7h18.4m-9.2-9.2v18.4M1746.4 584.0h18.4m-9.2-9.2v18.4M1929.5 534.3h18.4m-9.2-9.2v18.4M1939.2 535.0h18.4m-9.2-9.2v18.4M1962.4 554.9h18.4m-9.2-9.2v18.4M1901.3 559.9h18.4m-9.2-9.2v18.4M1818.7 566.5h18.4m-9.2-9.2v18.4M1955.3 551.9h18.4m-9.2-9.2v18.4M1862.5 548.5h18.4m-9.2-9.2v18.4M1916.4 561.2h18.4m-9.2-9.2v18.4M1916.4 539.7h18.4m-9.2-9.2v18.4M1933.8 553.9h18.4m-9.2-9.2v18.4M1873.2 568.5h18.4m-9.2-9.2v18.4M1888.0 551.3h18.4m-9.2-9.2v18.4M1833.9 562.5h18.4m-9.2-9.2v18.4M1761.6 586.8h18.4m-9.2-9.2v18.4M1935.5 549.7h18.4m-9.2-9.2v18.4M1919.5 533.0h18.4m-9.2-9.2v18.4M1952.9 549.7h18.4m-9.2-9.2v18.4M1813.0 580.2h18.4m-9.2-9.2v18.4M1734.2 613.0h18.4m-9.2-9.2v18.4M1842.0 571.5h18.4m-9.2-9.2v18.4M1895.5 564.0h18.4m-9.2-9.2v18.4M1872.4 546.5h18.4m-9.2-9.2v18.4M1851.7 585.1h18.4m-9.2-9.2v18.4M1827.2 593.3h18.4m-9.2-9.2v18.4M1924.9 551.0h18.4m-9.2-9.2v18.4M1766.3 609.6h18.4m-9.2-9.2v18.4M1746.8 598.0h18.4m-9.2-9.2v18.4M1857.8 575.8h18.4m-9.2-9.2v18.4M1781.5 608.3h18.4m-9.2-9.2v18.4M1767.2 596.8h18.4m-9.2-9.2v18.4M1846.3 584.9h18.4m-9.2-9.2v18.4M1790.2 611.4h18.4m-9.2-9.2v18.4M1861.2 562.6h18.4m-9.2-9.2v18.4M1866.4 577.2h18.4m-9.2-9.2v18.4M1875.8 552.8h18.4m-9.2-9.2v18.4M1724.3 618.2h18.4m-9.2-9.2v18.4M1789.8 588.7h18.4m-9.2-9.2v18.4M1939.6 536.7h18.4m-9.2-9.2v18.4M1895.3 553.5h18.4m-9.2-9.2v18.4M1894.7 560.1h18.4m-9.2-9.2v18.4M1751.4 609.9h18.4m-9.2-9.2v18.4M1750.6 588.0h18.4m-9.2-9.2v18.4M1847.4 549.0h18.4m-9.2-9.2v18.4M1895.0 553.7h18.4m-9.2-9.2v18.4M1854.6 563.7h18.4m-9.2-9.2v18.4M1793.9 578.4h18.4m-9.2-9.2v18.4M1857.5 548.0h18.4m-9.2-9.2v18.4M1883.6 564.4h18.4m-9.2-9.2v18.4M1841.9 547.9h18.4m-9.2-9.2v18.4M1778.8 595.5h18.4m-9.2-9.2v18.4M1840.6 574.5h18.4m-9.2-9.2v18.4M1730.7 593.8h18.4m-9.2-9.2v18.4M1744.0 611.8h18.4m-9.2-9.2v18.4M1847.5 556.9h18.4m-9.2-9.2v18.4M1798.2 586.4h18.4m-9.2-9.2v18.4M1729.2 589.7h18.4m-9.2-9.2v18.4M1840.8 555.6h18.4m-9.2-9.2v18.4M1748.0 599.1h18.4m-9.2-9.2v18.4M1782.3 604.7h18.4m-9.2-9.2v18.4M1912.0 564.3h18.4m-9.2-9.2v18.4M1836.4 586.6h18.4m-9.2-9.2v18.4M1953.4 554.4h18.4m-9.2-9.2v18.4M1723.7 605.8h18.4m-9.2-9.2v18.4M1825.6 583.8h18.4m-9.2-9.2v18.4M1961.8 538.8h18.4m-9.2-9.2v18.4M1760.1 606.8h18.4m-9.2-9.2v18.4M1816.5 594.9h18.4m-9.2-9.2v18.4M1842.4 583.3h18.4m-9.2-9.2v18.4M1840.5 565.8h18.4m-9.2-9.2v18.4M1723.9 605.9h18.4m-9.2-9.2v18.4M1887.9 543.7h18.4m-9.2-9.2v18.4M1880.6 547.2h18.4m-9.2-9.2v18.4M1951.4 533.8h18.4m-9.2-9.2v18.4M1759.0 609.8h18.4m-9.2-9.2v18.4M1726.3 596.8h18.4m-9.2-9.2v18.4M1902.5 563.8h18.4m-9.2-9.2v18.4M1922.4 534.3h18.4m-9.2-9.2v18.4M1918.0 534.6h18.4m-9.2-9.2v18.4M1855.3 577.2h18.4m-9.2-9.2v18.4M1910.2 544.4h18.4m-9.2-9.2v18.4M1794.0 580.5h18.4m-9.2-9.2v18.4M1724.0 621.3h18.4m-9.2-9.2v18.4M1772.9 581.8h18.4m-9.2-9.2v18.4M1868.5 562.4h18.4m-9.2-9.2v18.4M1730.0 622.7h18.4m-9.2-9.2v18.4M1776.9 583.8h18.4m-9.2-9.2v18.4M1765.4 614.2h18.4m-9.2-9.2v18.4M1886.5 535.5h18.4m-9.2-9.2v18.4M1875.0 539.3h18.4m-9.2-9.2v18.4M1730.1 619.1h18.4m-9.2-9.2v18.4M1875.8 545.0h18.4m-9.2-9.2v18.4M1930.1 541.3h18.4m-9.2-9.2v18.4M1776.2 614.2h18.4m-9.2-9.2v18.4M1822.6 580.2h18.4m-9.2-9.2v18.4M1797.3 600.0h18.4m-9.2-9.2v18.4M1755.2 618.0h18.4m-9.2-9.2v18.4M1846.8 571.3h18.4m-9.2-9.2v18.4M1819.6 578.7h18.4m-9.2-9.2v18.4M1773.8 605.2h18.4m-9.2-9.2v18.4M1843.5 562.2h18.4m-9.2-9.2v18.4M1965.6 546.6h18.4m-9.2-9.2v18.4M1860.4 573.5h18.4m-9.2-9.2v18.4M1860.1 546.7h18.4m-9.2-9.2v18.4M1828.8 586.9h18.4m-9.2-9.2v18.4M1746.2 607.8h18.4m-9.2-9.2v18.4M1881.9 549.1h18.4m-9.2-9.2v18.4M1827.3 579.0h18.4m-9.2-9.2v18.4M1890.8 564.4h18.4m-9.2-9.2v18.4M1905.1 536.7h18.4m-9.2-9.2v18.4M1865.7 576.5h18.4m-9.2-9.2v18.4M1908.6 547.6h18.4m-9.2-9.2v18.4M1917.2 562.4h18.4m-9.2-9.2v18.4" stroke="#00c040" stroke-width="2.4" fill="none"/>
<path d="M607.6 1444.6h18.4m-9.2-9.2v18.4M599.5 1479.3h18.4m-9.2-9.2v18.4M596.7 1455.9h18.4m-9.2-9.2v18.4M558.1 1453.5h18.4m-9.2-9.2v18.4M579.9 1489.2h18.4m-9.2-9.2v18.4M591.3 1466.9h18.4m-9.2-9.2v18.4M590.3 1538.2h18.4m-9.2-9.2v18.4M569.3 1474.4h18.4m-9.2-9.2v18.4M610.8 1525.6h18.4m-9.2-9.2v18.4M559.4 1512.7h18.4m-9.2-9.2v18.4M545.9 1488.0h18.4m-9.2-9.2v18.4M598.3 1492.7h18.4m-9.2-9.2v18.4M580.3 1486.7h18.4m-9.2-9.2v18.4M574.4 1488.9h18.4m-9.2-9.2v18.4M605.9 1487.7h18.4m-9.2-9.2v18.4M580.5 1524.7h18.4m-9.2-9.2v18.4M562.9 1513.2h18.4m-9.2-9.2v18.4M604.1 1488.4h18.4m-9.2-9.2v18.4M593.1 1465.9h18.4m-9.2-9.2v18.4M543.2 1477.7h18.4m-9.2-9.2v18.4M563.8 1469.8h18.4m-9.2-9.2v18.4M591.5 1456.3h18.4m-9.2-9.2v18.4M600.1 1499.4h18.4m-9.2-9.2v18.4M547.4 1453.2h18.4m-9.2-9.2v18.4M608.9 1476.8h18.4m-9.2-9.2v18.4M583.6 1517.8h18.4m-9.2-9.2v18.4M595.2 1485.0h18.4m-9.2-9.2v18.4M559.7 1461.5h18.4m-9.2-9.2v18.4M566.0 1513.1h18.4m-9.2-9.2v18.4M570.9 1527.3h18.4m-9.2-9.2v18.4M569.0 1464.5h18.4m-9.2-9.2v18.4M586.8 1537.1h18.4m-9.2-9.2v18.4M584.5 1506.0h18.4m-9.2-9.2v18.4M583.3 1469.0h18.4m-9.2-9.2v18.4M597.9 1502.1h18.4m-9.2-9.2v18.4M543.0 1504.8h18.4m-9.2-9.2v18.4M550.3 1522.5h18.4m-9.2-9.2v18.4M597.1 1535.5h18.4m-9.2-9.2v18.4M608.8 1517.7h18.4m-9.2-9.2v18.4M606.8 1482.7h18.4m-9.2-9.2v18.4M588.1 1494.3h18.4m-9.2-9.2v18.4M573.1 1445.0h18.4m-9.2-9.2v18.4M550.0 1467.2h18.4m-9.2-9.2v18.4M574.2 1533.4h18.4m-9.2-9.2v18.4M594.9 1449.0h18.4m-9.2-9.2v18.4M551.4 1478.7h18.4m-9.2-9.2v18.4M565.4 1526.0h18.4m-9.2-9.2v18.4M598.5 1475.1h18.4m-9.2-9.2v18.4M550.8 1488.5h18.4m-9.2-9.2v18.4M609.4 1482.0h18.4m-9.2-9.2v18.4M610.2 1515.8h18.4m-9.2-9.2v18.4M571.9 1507.2h18.4m-9.2-9.2v18.4M604.7 1524.2h18.4m-9.2-9.2v18.4M604.1 1485.1h18.4m-9.2-9.2v18.4M588.8 1521.3h18.4m-9.2-9.2v18.4M589.4 1500.8h18.4m-9.2-9.2v18.4M547.1 1520.8h18.4m-9.2-9.2v18.4M553.5 1488.7h18.4m-9.2-9.2v18.4M550.7 1513.7h18.4m-9.2-9.2v18.4M578.1 1520.4h18.4m-9.2-9.2v18.4M590.8 1461.3h18.4m-9.2-9.2v18.4M560.3 1483.3h18.4m-9.2-9.2v18.4M547.7 1483.9h18.4m-9.2-9.2v18.4M610.2 1448.9h18.4m-9.2-9.2v18.4M541.8 1481.1h18.4m-9.2-9.2v18.4M581.6 1489.5h18.4m-9.2-9.2v18.4M552.2 1460.8h18.4m-9.2-9.2v18.4M575.2 1521.2h18.4m-9.2-9.2v18.4M592.1 1517.9h18.4m-9.2-9.2v18.4M549.8 1492.7h18.4m-9.2-9.2v18.4M604.6 1512.0h18.4m-9.2-9.2v18.4M563.0 1469.5h18.4m-9.2-9.2v18.4M601.4 1533.7h18.4m-9.2-9.2v18.4M540.8 1503.7h18.4m-9.2-9.2v18.4M583.7 1501.7h18.4m-9.2-9.2v18.4M593.7 1463.2h18.4m-9.2-9.2v18.4M611.5 1528.2h18.4m-9.2-9.2v18.4M542.6 1498.3h18.4m-9.2-9.2v18.4M605.8 1534.5h18.4m-9.2-9.2v18.4M556.8 1455.3h18.4m-9.2-9.2v18.4M593.7 1507.9h18.4m-9.2-9.2v18.4M572.6 1534.7h18.4m-9.2-9.2v18.4M544.8 1530.2h18.4m-9.2-9.2v18.4M599.2 1520.5h18.4m-9.2-9.2v18.4M612.5 1521.0h18.4m-9.2-9.2v18.4M575.2 1476.9h18.4m-9.2-9.2v18.4M550.9 1510.8h18.4m-9.2-9.2v18.4M765.8 1346.5h18.4m-9.2-9.2v18.4M633.1 1519.4h18.4m-9.2-9.2v18.4M650.1 1438.3h18.4m-9.2-9.2v18.4M817.1 1295.3h18.4m-9.2-9.2v18.4M643.5 1488.5h18.4m-9.2-9.2v18.4M748.4 1365.2h18.4m-9.2-9.2v18.4M763.2 1342.0h18.4m-9.2-9.2v18.4M630.0 1530.8h18.4m-9.2-9.2v18.4M820.6 1302.6h18.4m-9.2-9.2v18.4M660.6 1441.2h18.4m-9.2-9.2v18.4M647.6 1418.6h18.4m-9.2-9.2v18.4M667.6 1405.0h18.4m-9.2-9.2v18.4M856.0 1259.1h18.4m-9.2-9.2v18.4M708.8 1405.3h18.4m-9.2-9.2v18.4M764.8 1334.3h18.4m-9.2-9.2v18.4M629.5 1448.4h18.4m-9.2-9.2v18.4M641.5 1492.2h18.4m-9.2-9.2v18.4M722.6 1376.0h18.4m-9.2-9.2v18.4M774.3 1317.2h18.4m-9.2-9.2v18.4M651.0 1467.3h18.4m-9.2-9.2v18.4M821.7 1306.0h18.4m-9.2-9.2v18.4M650.9 1510.7h18.4m-9.2-9.2v18.4M700.8 1364.0h18.4m-9.2-9.2v18.4M722.1 1388.0h18.4m-9.2-9.2v18.4M789.5 1309.3h18.4m-9.2-9.2v18.4M697.1 1357.5h18.4m-9.2-9.2v18.4M745.2 1341.2h18.4m-9.2-9.2v18.4M678.0 1385.9h18.4m-9.2-9.2v18.4M636.3 1527.3h18.4m-9.2-9.2v18.4M847.3 1259.2h18.4m-9.2-9.2v18.4M633.8 1473.8h18.4m-9.2-9.2v18.4M642.9 1473.5h18.4m-9.2-9.2v18.4M735.1 1379.1h18.4m-9.2-9.2v18.4M728.2 1385.1h18.4m-9.2-9.2v18.4M779.3 1316.5h18.4m-9.2-9.2v18.4M689.4 1429.9h18.4m-9.2-9.2v18.4M671.5 1448.4h18.4m-9.2-9.2v18.4M852.0 1261.9h18.4m-9.2-9.2v18.4M697.5 1394.3h18.4m-9.2-9.2v18.4M671.4 1388.7h18.4m-9.2-9.2v18.4M719.9 1363.0h18.4m-9.2-9.2v18.4M724.7 1367.5h18.4m-9.2-9.2v18.4M818.4 1273.5h18.4m-9.2-9.2v18.4M725.5 1369.7h18.4m-9.2-9.2v18.4M684.7 1381.1h18.4m-9.2-9.2v18.4M665.9 1451.2h18.4m-9.2-9.2v18.4M801.6 1291.6h18.4m-9.2-9.2v18.4M716.7 1331.8h18.4m-9.2-9.2v18.4M719.0 1385.0h18.4m-9.2-9.2v18.4M687.1 1372.4h18.4m-9.2-9.2v18.4M782.9 1289.3h18.4m-9.2-9.2v18.4M649.2 1422.4h18.4m-9.2-9.2v18.4M851.7 1250.3h18.4m-9.2-9.2v18.4M663.5 1491.8h18.4m-9.2-9.2v18.4M655.5 1475.9h18.4m-9.2-9.2v18.4M719.5 1389.2h18.4m-9.2-9.2v18.4M761.0 1313.8h18.4m-9.2-9.2v18.4M645.6 1505.1h18.4m-9.2-9.2v18.4M809.7 1281.2h18.4m-9.2-9.2v18.4M641.5 1495.0h18.4m-9.2-9.2v18.4M644.6 1431.7h18.4m-9.2-9.2v18.4M632.9 1474.9h18.4m-9.2-9.2v18.4M766.0 1332.1h18.4m-9.2-9.2v18.4M664.5 1408.0h18.4m-9.2-9.2v18.4M637.5 1471.0h18.4m-9.2-9.2v18.4M727.3 1372.6h18.4m-9.2-9.2v18.4M773.2 1314.1h18.4m-9.2-9.2v18.4M643.8 1472.2h18.4m-9.2-9.2v18.4M839.8 1313.5h18.4m-9.2-9.2v18.4M635.1 1440.5h18.4m-9.2-9.2v18.4M688.5 1394.6h18.4m-9.2-9.2v18.4M705.9 1383.4h18.4m-9.2-9.2v18.4M725.4 1361.3h18.4m-9.2-9.2v18.4M793.7 1296.0h18.4m-9.2-9.2v18.4M767.7 1329.9h18.4m-9.2-9.2v18.4M828.3 1304.3h18.4m-9.2-9.2v18.4M637.0 1444.8h18.4m-9.2-9.2v18.4M683.6 1378.4h18.4m-9.2-9.2v18.4M846.0 1287.1h18.4m-9.2-9.2v18.4M641.3 1527.9h18.4m-9.2-9.2v18.4M860.7 1261.2h18.4m-9.2-9.2v18.4M742.5 1367.9h18.4m-9.2-9.2v18.4M664.3 1451.4h18.4m-9.2-9.2v18.4M685.6 1386.5h18.4m-9.2-9.2v18.4M654.5 1450.0h18.4m-9.2-9.2v18.4M631.0 1457.0h18.4m-9.2-9.2v18.4M831.3 1276.7h18.4m-9.2-9.2v18.4M653.3 1507.2h18.4m-9.2-9.2v18.4M791.1 1278.1h18.4m-9.2-9.2v18.4M658.6 1462.2h18.4m-9.2-9.2v18.4M858.9 1313.8h18.4m-9.2-9.2v18.4M776.7 1301.5h18.4m-9.2-9.2v18.4M863.4 1261.8h18.4m-9.2-9.2v18.4M713.5 1344.2h18.4m-9.2-9.2v18.4M635.8 1473.3h18.4m-9.2-9.2v18.4M845.2 1263.0h18.4m-9.2-9.2v18.4M736.9 1367.6h18.4m-9.2-9.2v18.4M820.3 1298.4h18.4m-9.2-9.2v18.4M676.2 1393.3h18.4m-9.2-9.2v18.4M644.6 1458.6h18.4m-9.2-9.2v18.4M747.6 1343.0h18.4m-9.2-9.2v18.4M643.7 1455.4h18.4m-9.2-9.2v18.4M699.9 1391.6h18.4m-9.2-9.2v18.4M672.6 1438.5h18.4m-9.2-9.2v18.4M718.3 1331.4h18.4m-9.2-9.2v18.4M839.8 1265.3h18.4m-9.2-9.2v18.4M642.0 1513.9h18.4m-9.2-9.2v18.4M720.0 1337.0h18.4m-9.2-9.2v18.4M719.9 1390.1h18.4m-9.2-9.2v18.4M689.7 1372.6h18.4m-9.2-9.2v18.4M639.4 1428.0h18.4m-9.2-9.2v18.4M718.3 1349.1h18.4m-9.2-9.2v18.4M659.6 1480.7h18.4m-9.2-9.2v18.4M739.6 1371.3h18.4m-9.2-9.2v18.4M737.7 1347.0h18.4m-9.2-9.2v18.4M629.3 1508.9h18.4m-9.2-9.2v18.4M852.9 1264.5h18.4m-9.2-9.2v18.4M839.2 1278.9h18.4m-9.2-9.2v18.4M829.4 1272.4h18.4m-9.2-9.2v18.4M659.8 1482.2h18.4m-9.2-9.2v18.4M793.0 1313.3h18.4m-9.2-9.2v18.4M743.6 1345.3h18.4m-9.2-9.2v18.4M754.5 1341.5h18.4m-9.2-9.2v18.4M721.1 1367.2h18.4m-9.2-9.2v18.4M802.3 1310.4h18.4m-9.2-9.2v18.4M842.5 1276.4h18.4m-9.2-9.2v18.4M739.2 1373.3h18.4m-9.2-9.2v18.4M760.2 1323.3h18.4m-9.2-9.2v18.4M652.2 1468.2h18.4m-9.2-9.2v18.4M732.6 1337.3h18.4m-9.2-9.2v18.4M781.1 1299.6h18.4m-9.2-9.2v18.4M635.0 1437.7h18.4m-9.2-9.2v18.4M748.9 1346.9h18.4m-9.2-9.2v18.4M663.7 1467.4h18.4m-9.2-9.2v18.4M691.9 1380.4h18.4m-9.2-9.2v18.4M639.1 1513.4h18.4m-9.2-9.2v18.4M857.3 1293.3h18.4m-9.2-9.2v18.4M822.9 1295.8h18.4m-9.2-9.2v18.4M773.0 1296.9h18.4m-9.2-9.2v18.4M701.0 1384.4h18.4m-9.2-9.2v18.4M631.1 1444.5h18.4m-9.2-9.2v18.4M699.9 1419.8h18.4m-9.2-9.2v18.4M809.3 1283.6h18.4m-9.2-9.2v18.4M639.9 1472.5h18.4m-9.2-9.2v18.4M669.7 1453.1h18.4m-9.2-9.2v18.4M667.4 1393.6h18.4m-9.2-9.2v18.4M640.6 1439.0h18.4m-9.2-9.2v18.4M828.1 1268.3h18.4m-9.2-9.2v18.4M643.8 1484.8h18.4m-9.2-9.2v18.4M648.5 1436.6h18.4m-9.2-9.2v18.4M718.8 1334.1h18.4m-9.2-9.2v18.4M824.2 1301.4h18.4m-9.2-9.2v18.4M787.5 1324.0h18.4m-9.2-9.2v18.4M644.1 1501.7h18.4m-9.2-9.2v18.4M697.0 1377.2h18.4m-9.2-9.2v18.4M666.7 1454.2h18.4m-9.2-9.2v18.4M737.6 1365.7h18.4m-9.2-9.2v18.4M780.8 1288.9h18.4m-9.2-9.2v18.4M657.1 1436.1h18.4m-9.2-9.2v18.4M847.4 1259.4h18.4m-9.2-9.2v18.4M638.7 1521.3h18.4m-9.2-9.2v18.4M809.9 1271.6h18.4m-9.2-9.2v18.4M719.5 1396.5h18.4m-9.2-9.2v18.4M781.6 1302.3h18.4m-9.2-9.2v18.4M736.4 1317.4h18.4m-9.2-9.2v18.4M745.3 1366.4h18.4m-9.2-9.2v18.4M681.9 1445.1h18.4m-9.2-9.2v18.4M657.5 1421.1h18.4m-9.2-9.2v18.4M823.4 1285.0h18.4m-9.2-9.2v18.4M764.1 1312.5h18.4m-9.2-9.2v18.4M789.2 1319.9h18.4m-9.2-9.2v18.4M650.3 1510.9h18.4m-9.2-9.2v18.4M643.2 1431.5h18.4m-9.2-9.2v18.4M862.3 1313.7h18.4m-9.2-9.2v18.4M681.0 1432.9h18.4m-9.2-9.2v18.4M677.7 1434.7h18.4m-9.2-9.2v18.4M654.3 1436.7h18.4m-9.2-9.2v18.4M624.8 1452.3h18.4m-9.2-9.2v18.4M844.1 1298.0h18.4m-9.2-9.2v18.4M851.7 1277.4h18.4m-9.2-9.2v18.4M734.0 1350.3h18.4m-9.2-9.2v18.4M710.4 1392.9h18.4m-9.2-9.2v18.4M713.2 1366.5h18.4m-9.2-9.2v18.4M828.6 1268.5h18.4m-9.2-9.2v18.4M797.4 1289.3h18.4m-9.2-9.2v18.4M676.2 1406.8h18.4m-9.2-9.2v18.4M705.3 1374.8h18.4m-9.2-9.2v18.4M648.7 1453.7h18.4m-9.2-9.2v18.4M781.6 1305.3h18.4m-9.2-9.2v18.4M728.6 1367.7h18.4m-9.2-9.2v18.4M710.0 1397.6h18.4m-9.2-9.2v18.4M810.4 1291.3h18.4m-9.2-9.2v18.4M835.6 1282.0h18.4m-9.2-9.2v18.4M657.5 1504.0h18.4m-9.2-9.2v18.4M680.6 1395.0h18.4m-9.2-9.2v18.4M840.1 1270.3h18.4m-9.2-9.2v18.4M634.8 1529.5h18.4m-9.2-9.2v18.4M651.9 1421.2h18.4m-9.2-9.2v18.4M632.2 1458.6h18.4m-9.2-9.2v18.4M755.2 1302.2h18.4m-9.2-9.2v18.4M660.2 1480.7h18.4m-9.2-9.2v18.4M862.0 1281.8h18.4m-9.2-9.2v18.4M765.4 1333.1h18.4m-9.2-9.2v18.4M859.4 1306.5h18.4m-9.2-9.2v18.4M657.2 1438.7h18.4m-9.2-9.2v18.4M729.7 1326.4h18.4m-9.2-9.2v18.4M752.2 1309.1h18.4m-9.2-9.2v18.4M710.1 1342.0h18.4m-9.2-9.2v18.4M815.2 1281.2h18.4m-9.2-9.2v18.4M837.5 1293.4h18.4m-9.2-9.2v18.4M632.3 1528.1h18.4m-9.2-9.2v18.4M742.7 1313.9h18.4m-9.2-9.2v18.4M685.4 1431.2h18.4m-9.2-9.2v18.4M685.9 1378.7h18.4m-9.2-9.2v18.4M696.9 1379.6h18.4m-9.2-9.2v18.4M830.8 1287.0h18.4m-9.2-9.2v18.4M842.2 1281.4h18.4m-9.2-9.2v18.4M625.1 1438.5h18.4m-9.2-9.2v18.4M630.2 1532.0h18.4m-9.2-9.2v18.4M630.4 1517.3h18.4m-9.2-9.2v18.4M763.3 1349.7h18.4m-9.2-9.2v18.4M667.3 1457.5h18.4m-9.2-9.2v18.4M727.9 1336.2h18.4m-9.2-9.2v18.4M655.6 1482.9h18.4m-9.2-9.2v18.4M817.0 1291.6h18.4m-9.2-9.2v18.4M705.7 1371.4h18.4m-9.2-9.2v18.4M835.0 1304.5h18.4m-9.2-9.2v18.4M625.8 1460.9h18.4m-9.2-9.2v18.4M638.9 1471.0h18.4m-9.2-9.2v18.4M850.6 1303.2h18.4m-9.2-9.2v18.4M846.5 1256.2h18.4m-9.2-9.2v18.4M814.3 1292.7h18.4m-9.2-9.2v18.4M838.1 1276.7h18.4m-9.2-9.2v18.4M669.7 1430.8h18.4m-9.2-9.2v18.4M861.1 1319.7h18.4m-9.2-9.2v18.4M670.6 1423.3h18.4m-9.2-9.2v18.4M830.5 1263.3h18.4m-9.2-9.2v18.4M862.0 1245.6h18.4m-9.2-9.2v18.4M698.7 1367.3h18.4m-9.2-9.2v18.4M669.9 1463.3h18.4m-9.2-9.2v18.4M627.8 1492.1h18.4m-9.2-9.2v18.4M817.8 1301.6h18.4m-9.2-9.2v18.4M801.1 1300.5h18.4m-9.2-9.2v18.4M744.9 1357.1h18.4m-9.2-9.2v18.4M850.6 1276.7h18.4m-9.2-9.2v18.4M695.7 1404.2h18.4m-9.2-9.2v18.4M739.5 1339.2h18.4m-9.2-9.2v18.4M716.3 1351.2h18.4m-9.2-9.2v18.4M801.1 1312.3h18.4m-9.2-9.2v18.4M688.5 1386.4h18.4m-9.2-9.2v18.4M643.6 1461.3h18.4m-9.2-9.2v18.4M649.1 1436.9h18.4m-9.2-9.2v18.4M638.6 1494.0h18.4m-9.2-9.2v18.4M847.7 1270.9h18.4m-9.2-9.2v18.4M661.2 1415.8h18.4m-9.2-9.2v18.4M655.5 1482.3h18.4m-9.2-9.2v18.4M738.9 1337.4h18.4m-9.2-9.2v18.4M743.7 1350.2h18.4m-9.2-9.2v18.4M635.2 1468.2h18.4m-9.2-9.2v18.4M844.6 1290.3h18.4m-9.2-9.2v18.4M797.6 1308.1h18.4m-9.2-9.2v18.4M684.9 1403.6h18.4m-9.2-9.2v18.4M852.7 1253.2h18.4m-9.2-9.2v18.4M756.1 1313.8h18.4m-9.2-9.2v18.4M710.0 1360.5h18.4m-9.2-9.2v18.4M719.5 1346.9h18.4m-9.2-9.2v18.4M742.6 1320.7h18.4m-9.2-9.2v18.4M668.7 1451.0h18.4m-9.2-9.2v18.4M642.0 1455.7h18.4m-9.2-9.2v18.4M839.4 1285.1h18.4m-9.2-9.2v18.4M732.2 1339.5h18.4m-9.2-9.2v18.4M861.3 1283.2h18.4m-9.2-9.2v18.4M863.6 1308.3h18.4m-9.2-9.2v18.4M778.8 1295.3h18.4m-9.2-9.2v18.4M856.3 1306.5h18.4m-9.2-9.2v18.4M832.4 1311.3h18.4m-9.2-9.2v18.4M747.1 1309.6h18.4m-9.2-9.2v18.4M697.8 1401.7h18.4m-9.2-9.2v18.4M747.6 1302.6h18.4m-9.2-9.2v18.4M693.1 1423.9h18.4m-9.2-9.2v18.4M864.5 1247.2h18.4m-9.2-9.2v18.4M799.0 1290.2h18.4m-9.2-9.2v18.4M667.7 1451.7h18.4m-9.2-9.2v18.4M861.5 1252.7h18.4m-9.2-9.2v18.4M679.1 1420.8h18.4m-9.2-9.2v18.4M849.8 1263.6h18.4m-9.2-9.2v18.4M635.8 1525.8h18.4m-9.2-9.2v18.4M782.6 1319.8h18.4m-9.2-9.2v18.4M756.2 1339.4h18.4m-9.2-9.2v18.4M713.5 1348.4h18.4m-9.2-9.2v18.4M862.4 1255.4h18.4m-9.2-9.2v18.4M647.9 1494.7h18.4m-9.2-9.2v18.4M754.0 1355.5h18.4m-9.2-9.2v18.4M818.1 1269.3h18.4m-9.2-9.2v18.4M837.8 1284.3h18.4m-9.2-9.2v18.4M667.7 1454.8h18.4m-9.2-9.2v18.4M752.4 1339.1h18.4m-9.2-9.2v18.4M754.8 1351.9h18.4m-9.2-9.2v18.4M672.8 1407.2h18.4m-9.2-9.2v18.4M779.3 1324.9h18.4m-9.2-9.2v18.4M789.7 1282.5h18.4m-9.2-9.2v18.4M734.1 1330.4h18.4m-9.2-9.2v18.4M751.4 1303.1h18.4m-9.2-9.2v18.4M650.1 1511.5h18.4m-9.2-9.2v18.4M794.3 1296.7h18.4m-9.2-9.2v18.4M748.3 1348.0h18.4m-9.2-9.2v18.4M710.6 1401.0h18.4m-9.2-9.2v18.4M640.2 1517.1h18.4m-9.2-9.2v18.4M781.6 1311.0h18.4m-9.2-9.2v18.4M643.1 1432.1h18.4m-9.2-9.2v18.4M631.0 1506.6h18.4m-9.2-9.2v18.4M740.3 1318.2h18.4m-9.2-9.2v18.4M824.1 1266.2h18.4m-9.2-9.2v18.4M630.9 1439.3h18.4m-9.2-9.2v18.4M709.7 1376.9h18.4m-9.2-9.2v18.4M795.2 1288.6h18.4m-9.2-9.2v18.4M631.7 1481.9h18.4m-9.2-9.2v18.4M809.0 1284.7h18.4m-9.2-9.2v18.4M716.9 1382.0h18.4m-9.2-9.2v18.4M861.4 1321.0h18.4m-9.2-9.2v18.4M635.7 1451.1h18.4m-9.2-9.2v18.4M706.8 1372.2h18.4m-9.2-9.2v18.4M673.8 1404.3h18.4m-9.2-9.2v18.4M707.3 1364.1h18.4m-9.2-9.2v18.4M640.0 1485.2h18.4m-9.2-9.2v18.4M849.2 1292.7h18.4m-9.2-9.2v18.4M706.5 1410.6h18.4m-9.2-9.2v18.4M713.6 1361.7h18.4m-9.2-9.2v18.4M678.5 1436.6h18.4m-9.2-9.2v18.4M787.8 1292.7h18.4m-9.2-9.2v18.4M807.9 1288.3h18.4m-9.2-9.2v18.4M834.3 1282.2h18.4m-9.2-9.2v18.4M735.8 1350.0h18.4m-9.2-9.2v18.4M657.0 1423.7h18.4m-9.2-9.2v18.4M756.8 1320.6h18.4m-9.2-9.2v18.4M806.5 1302.2h18.4m-9.2-9.2v18.4M675.6 1385.6h18.4m-9.2-9.2v18.4M859.6 1268.1h18.4m-9.2-9.2v18.4M809.5 1314.9h18.4m-9.2-9.2v18.4M693.3 1403.2h18.4m-9.2-9.2v18.4M638.6 1517.7h18.4m-9.2-9.2v18.4M639.7 1497.5h18.4m-9.2-9.2v18.4M624.9 1490.8h18.4m-9.2-9.2v18.4M774.1 1329.7h18.4m-9.2-9.2v18.4M729.1 1337.4h18.4m-9.2-9.2v18.4M720.4 1368.9h18.4m-9.2-9.2v18.4M640.5 1478.6h18.4m-9.2-9.2v18.4M798.2 1298.7h18.4m-9.2-9.2v18.4M840.7 1268.6h18.4m-9.2-9.2v18.4M780.4 1293.3h18.4m-9.2-9.2v18.4M698.7 1367.0h18.4m-9.2-9.2v18.4M822.3 1265.7h18.4m-9.2-9.2v18.4M770.4 1297.8h18.4m-9.2-9.2v18.4M655.9 1499.7h18.4m-9.2-9.2v18.4M823.9 1291.7h18.4m-9.2-9.2v18.4M836.9 1267.2h18.4m-9.2-9.2v18.4M769.5 1316.5h18.4m-9.2-9.2v18.4M723.1 1364.9h18.4m-9.2-9.2v18.4M797.5 1287.3h18.4m-9.2-9.2v18.4M830.2 1261.7h18.4m-9.2-9.2v18.4M761.8 1310.6h18.4m-9.2-9.2v18.4M736.2 1333.6h18.4m-9.2-9.2v18.4M739.5 1362.8h18.4m-9.2-9.2v18.4M672.5 1451.0h18.4m-9.2-9.2v18.4M770.3 1301.2h18.4m-9.2-9.2v18.4M691.3 1420.3h18.4m-9.2-9.2v18.4M678.9 1395.4h18.4m-9.2-9.2v18.4M676.5 1398.4h18.4m-9.2-9.2v18.4M676.5 1414.4h18.4m-9.2-9.2v18.4M808.7 1307.0h18.4m-9.2-9.2v18.4M659.1 1406.8h18.4m-9.2-9.2v18.4M849.9 1269.1h18.4m-9.2-9.2v18.4M647.8 1456.6h18.4m-9.2-9.2v18.4M854.4 1304.0h18.4m-9.2-9.2v18.4M751.8 1306.7h18.4m-9.2-9.2v18.4M692.4 1400.2h18.4m-9.2-9.2v18.4M739.0 1338.4h18.4m-9.2-9.2v18.4M812.3 1304.8h18.4m-9.2-9.2v18.4M635.9 1502.7h18.4m-9.2-9.2v18.4M836.2 1273.8h18.4m-9.2-9.2v18.4M840.9 1263.1h18.4m-9.2-9.2v18.4M803.9 1291.4h18.4m-9.2-9.2v18.4M641.9 1424.0h18.4m-9.2-9.2v18.4M634.4 1453.2h18.4m-9.2-9.2v18.4M710.4 1383.4h18.4m-9.2-9.2v18.4M715.3 1334.1h18.4m-9.2-9.2v18.4M684.1 1417.3h18.4m-9.2-9.2v18.4M818.3 1274.3h18.4m-9.2-9.2v18.4M699.3 1403.8h18.4m-9.2-9.2v18.4M756.1 1341.3h18.4m-9.2-9.2v18.4M668.4 1417.6h18.4m-9.2-9.2v18.4M804.8 1288.9h18.4m-9.2-9.2v18.4M695.9 1373.4h18.4m-9.2-9.2v18.4M682.7 1402.4h18.4m-9.2-9.2v18.4M834.6 1287.4h18.4m-9.2-9.2v18.4M632.0 1497.0h18.4m-9.2-9.2v18.4M678.2 1390.2h18.4m-9.2-9.2v18.4M745.3 1338.2h18.4m-9.2-9.2v18.4M655.2 1483.5h18.4m-9.2-9.2v18.4M684.7 1407.3h18.4m-9.2-9.2v18.4M645.6 1500.7h18.4m-9.2-9.2v18.4M794.0 1276.9h18.4m-9.2-9.2v18.4M837.7 1309.0h18.4m-9.2-9.2v18.4M812.6 1309.4h18.4m-9.2-9.2v18.4M693.4 1407.7h18.4m-9.2-9.2v18.4M713.7 1346.7h18.4m-9.2-9.2v18.4M679.7 1391.2h18.4m-9.2-9.2v18.4M763.1 1346.8h18.4m-9.2-9.2v18.4M732.8 1355.1h18.4m-9.2-9.2v18.4M717.5 1397.0h18.4m-9.2-9.2v18.4M647.0 1475.4h18.4m-9.2-9.2v18.4M659.5 1425.8h18.4m-9.2-9.2v18.4M734.6 1374.5h18.4m-9.2-9.2v18.4M863.4 1245.5h18.4m-9.2-9.2v18.4M710.2 1389.6h18.4m-9.2-9.2v18.4M847.5 1315.8h18.4m-9.2-9.2v18.4M713.8 1342.4h18.4m-9.2-9.2v18.4M649.1 1512.5h18.4m-9.2-9.2v18.4M652.8 1444.7h18.4m-9.2-9.2v18.4M746.5 1352.3h18.4m-9.2-9.2v18.4M850.4 1307.1h18.4m-9.2-9.2v18.4M864.8 1275.5h18.4m-9.2-9.2v18.4M771.3 1296.1h18.4m-9.2-9.2v18.4M653.9 1431.2h18.4m-9.2-9.2v18.4M638.4 1486.3h18.4m-9.2-9.2v18.4M759.8 1302.4h18.4m-9.2-9.2v18.4M845.1 1285.5h18.4m-9.2-9.2v18.4M819.4 1297.6h18.4m-9.2-9.2v18.4M624.9 1473.5h18.4m-9.2-9.2v18.4M728.0 1372.1h18.4m-9.2-9.2v18.4M705.0 1368.6h18.4m-9.2-9.2v18.4M800.9 1289.2h18.4m-9.2-9.2v18.4M657.9 1436.8h18.4m-9.2-9.2v18.4M840.8 1313.5h18.4m-9.2-9.2v18.4M734.6 1325.7h18.4m-9.2-9.2v18.4M690.8 1398.3h18.4m-9.2-9.2v18.4M666.6 1481.2h18.4m-9.2-9.2v18.4M859.8 1287.5h18.4m-9.2-9.2v18.4M690.8 1433.8h18.4m-9.2-9.2v18.4M639.0 1481.6h18.4m-9.2-9.2v18.4M738.5 1333.2h18.4m-9.2-9.2v18.4M740.0 1358.5h18.4m-9.2-9.2v18.4M744.0 1312.2h18.4m-9.2-9.2v18.4M794.0 1303.4h18.4m-9.2-9.2v18.4M642.1 1505.9h18.4m-9.2-9.2v18.4M647.9 1498.7h18.4m-9.2-9.2v18.4M684.6 1380.4h18.4m-9.2-9.2v18.4M656.2 1423.2h18.4m-9.2-9.2v18.4M746.4 1309.0h18.4m-9.2-9.2v18.4M697.2 1411.0h18.4m-9.2-9.2v18.4M671.1 1430.2h18.4m-9.2-9.2v18.4M640.1 1489.3h18.4m-9.2-9.2v18.4M681.7 1377.6h18.4m-9.2-9.2v18.4M831.9 1264.4h18.4m-9.2-9.2v18.4M733.6 1334.4h18.4m-9.2-9.2v18.4M737.6 1326.1h18.4m-9.2-9.2v18.4M730.0 1325.0h18.4m-9.2-9.2v18.4M867.6 1345.4h18.4m-9.2-9.2v18.4M854.7 1328.3h18.4m-9.2-9.2v18.4M858.0 1346.0h18.4m-9.2-9.2v18.4M851.3 1339.3h18.4m-9.2-9.2v18.4M852.1 1336.2h18.4m-9.2-9.2v18.4M860.9 1346.4h18.4m-9.2-9.2v18.4M863.4 1339.6h18.4m-9.2-9.2v18.4M858.0 1327.1h18.4m-9.2-9.2v18.4M860.4 1325.1h18.4m-9.2-9.2v18.4M862.7 1350.6h18.4m-9.2-9.2v18.4M850.7 1345.8h18.4m-9.2-9.2v18.4M858.0 1333.8h18.4m-9.2-9.2v18.4M856.9 1348.2h18.4m-9.2-9.2v18.4M852.4 1344.7h18.4m-9.2-9.2v18.4M858.5 1325.7h18.4m-9.2-9.2v18.4M849.8 1349.7h18.4m-9.2-9.2v18.4M848.0 1345.6h18.4m-9.2-9.2v18.4M865.3 1335.5h18.4m-9.2-9.2v18.4M861.0 1343.1h18.4m-9.2-9.2v18.4M853.1 1334.1h18.4m-9.2-9.2v18.4M856.2 1350.3h18.4m-9.2-9.2v18.4M851.2 1339.1h18.4m-9.2-9.2v18.4M859.4 1334.2h18.4m-9.2-9.2v18.4M863.6 1330.0h18.4m-9.2-9.2v18.4M847.5 1328.6h18.4m-9.2-9.2v18.4M854.9 1333.4h18.4m-9.2-9.2v18.4M860.3 1330.8h18.4m-9.2-9.2v18.4M870.5 1263.7h18.4m-9.2-9.2v18.4M822.4 1219.1h18.4m-9.2-9.2v18.4M843.0 1345.4h18.4m-9.2-9.2v18.4M873.0 1259.7h18.4m-9.2-9.2v18.4M824.9 1298.4h18.4m-9.2-9.2v18.4M863.0 1289.6h18.4m-9.2-9.2v18.4M844.8 1276.3h18.4m-9.2-9.2v18.4M851.5 1242.9h18.4m-9.2-9.2v18.4M871.2 1288.3h18.4m-9.2-9.2v18.4M856.4 1258.9h18.4m-9.2-9.2v18.4M822.9 1282.6h18.4m-9.2-9.2v18.4M817.7 1303.8h18.4m-9.2-9.2v18.4M862.9 1334.5h18.4m-9.2-9.2v18.4M818.9 1315.9h18.4m-9.2-9.2v18.4M836.0 1272.5h18.4m-9.2-9.2v18.4M876.3 1320.8h18.4m-9.2-9.2v18.4M842.3 1226.8h18.4m-9.2-9.2v18.4M850.2 1316.8h18.4m-9.2-9.2v18.4M853.0 1236.3h18.4m-9.2-9.2v18.4M863.9 1339.8h18.4m-9.2-9.2v18.4M839.9 1329.6h18.4m-9.2-9.2v18.4M863.6 1240.8h18.4m-9.2-9.2v18.4M849.1 1318.2h18.4m-9.2-9.2v18.4M841.8 1221.5h18.4m-9.2-9.2v18.4M847.0 1243.6h18.4m-9.2-9.2v18.4M817.9 1246.9h18.4m-9.2-9.2v18.4M831.0 1213.1h18.4m-9.2-9.2v18.4M848.9 1347.9h18.4m-9.2-9.2v18.4M820.8 1246.9h18.4m-9.2-9.2v18.4M852.0 1339.2h18.4m-9.2-9.2v18.4M835.5 1322.1h18.4m-9.2-9.2v18.4M862.2 1333.8h18.4m-9.2-9.2v18.4M861.4 1256.8h18.4m-9.2-9.2v18.4M828.9 1326.8h18.4m-9.2-9.2v18.4M862.3 1240.7h18.4m-9.2-9.2v18.4M865.4 1296.3h18.4m-9.2-9.2v18.4M849.1 1305.3h18.4m-9.2-9.2v18.4M836.8 1232.6h18.4m-9.2-9.2v18.4M830.6 1274.2h18.4m-9.2-9.2v18.4M819.9 1281.2h18.4m-9.2-9.2v18.4M871.6 1336.7h18.4m-9.2-9.2v18.4M856.3 1258.0h18.4m-9.2-9.2v18.4M860.2 1255.8h18.4m-9.2-9.2v18.4M829.9 1255.9h18.4m-9.2-9.2v18.4M823.3 1291.0h18.4m-9.2-9.2v18.4M823.4 1278.1h18.4m-9.2-9.2v18.4M819.3 1221.1h18.4m-9.2-9.2v18.4M867.9 1235.7h18.4m-9.2-9.2v18.4M815.9 1282.9h18.4m-9.2-9.2v18.4M867.3 1352.8h18.4m-9.2-9.2v18.4M833.7 1263.6h18.4m-9.2-9.2v18.4M878.3 1275.6h18.4m-9.2-9.2v18.4M849.3 1262.7h18.4m-9.2-9.2v18.4M842.1 1302.0h18.4m-9.2-9.2v18.4M843.3 1315.6h18.4m-9.2-9.2v18.4M847.2 1298.4h18.4m-9.2-9.2v18.4M818.8 1248.1h18.4m-9.2-9.2v18.4M869.6 1257.2h18.4m-9.2-9.2v18.4M860.2 1313.4h18.4m-9.2-9.2v18.4M867.4 1267.9h18.4m-9.2-9.2v18.4M875.9 1293.2h18.4m-9.2-9.2v18.4M849.2 1295.4h18.4m-9.2-9.2v18.4M821.2 1223.3h18.4m-9.2-9.2v18.4M846.0 1219.5h18.4m-9.2-9.2v18.4M863.2 1291.2h18.4m-9.2-9.2v18.4M842.3 1286.2h18.4m-9.2-9.2v18.4M871.1 1276.3h18.4m-9.2-9.2v18.4M856.2 1280.3h18.4m-9.2-9.2v18.4M854.5 1332.5h18.4m-9.2-9.2v18.4M873.0 1237.4h18.4m-9.2-9.2v18.4M816.8 1289.0h18.4m-9.2-9.2v18.4M839.1 1318.1h18.4m-9.2-9.2v18.4M818.8 1223.2h18.4m-9.2-9.2v18.4M857.6 1353.5h18.4m-9.2-9.2v18.4M853.0 1227.7h18.4m-9.2-9.2v18.4M848.4 1237.4h18.4m-9.2-9.2v18.4M869.1 1264.2h18.4m-9.2-9.2v18.4M818.5 1221.8h18.4m-9.2-9.2v18.4M858.4 1319.6h18.4m-9.2-9.2v18.4M843.5 1216.2h18.4m-9.2-9.2v18.4M848.2 1303.4h18.4m-9.2-9.2v18.4M838.3 1215.6h18.4m-9.2-9.2v18.4M866.4 1270.9h18.4m-9.2-9.2v18.4M856.5 1275.0h18.4m-9.2-9.2v18.4M823.9 1232.4h18.4m-9.2-9.2v18.4M865.8 1258.0h18.4m-9.2-9.2v18.4M841.3 1269.8h18.4m-9.2-9.2v18.4M870.8 1336.1h18.4m-9.2-9.2v18.4M836.6 1257.1h18.4m-9.2-9.2v18.4M858.5 1231.0h18.4m-9.2-9.2v18.4M852.9 1312.2h18.4m-9.2-9.2v18.4M845.3 1294.8h18.4m-9.2-9.2v18.4M841.2 1272.3h18.4m-9.2-9.2v18.4M825.3 1293.6h18.4m-9.2-9.2v18.4M851.9 1238.0h18.4m-9.2-9.2v18.4M967.9 1171.1h18.4m-9.2-9.2v18.4M960.9 1148.6h18.4m-9.2-9.2v18.4M949.1 1147.7h18.4m-9.2-9.2v18.4M965.1 1120.0h18.4m-9.2-9.2v18.4M976.4 1150.6h18.4m-9.2-9.2v18.4M913.9 1155.9h18.4m-9.2-9.2v18.4M928.9 1167.0h18.4m-9.2-9.2v18.4M935.1 1138.5h18.4m-9.2-9.2v18.4M981.5 1141.7h18.4m-9.2-9.2v18.4M932.6 1150.4h18.4m-9.2-9.2v18.4M949.5 1132.7h18.4m-9.2-9.2v18.4M926.3 1158.8h18.4m-9.2-9.2v18.4M934.9 1136.6h18.4m-9.2-9.2v18.4M950.7 1152.4h18.4m-9.2-9.2v18.4M914.9 1167.4h18.4m-9.2-9.2v18.4M945.6 1162.1h18.4m-9.2-9.2v18.4M932.8 1164.2h18.4m-9.2-9.2v18.4M948.5 1131.5h18.4m-9.2-9.2v18.4M987.4 1114.5h18.4m-9.2-9.2v18.4M943.9 1187.1h18.4m-9.2-9.2v18.4M957.6 1168.1h18.4m-9.2-9.2v18.4M891.2 1209.9h18.4m-9.2-9.2v18.4M891.6 1212.7h18.4m-9.2-9.2v18.4M944.0 1164.2h18.4m-9.2-9.2v18.4M926.5 1155.4h18.4m-9.2-9.2v18.4M960.7 1145.3h18.4m-9.2-9.2v18.4M927.6 1170.4h18.4m-9.2-9.2v18.4M915.6 1157.6h18.4m-9.2-9.2v18.4M968.7 1120.4h18.4m-9.2-9.2v18.4M942.8 1195.8h18.4m-9.2-9.2v18.4M957.8 1174.5h18.4m-9.2-9.2v18.4M920.9 1162.7h18.4m-9.2-9.2v18.4M953.0 1180.6h18.4m-9.2-9.2v18.4M922.8 1147.2h18.4m-9.2-9.2v18.4M951.2 1126.0h18.4m-9.2-9.2v18.4M950.8 1172.2h18.4m-9.2-9.2v18.4M950.1 1199.8h18.4m-9.2-9.2v18.4M930.9 1169.2h18.4m-9.2-9.2v18.4M955.8 1148.2h18.4m-9.2-9.2v18.4M906.8 1164.3h18.4m-9.2-9.2v18.4M981.9 1113.4h18.4m-9.2-9.2v18.4M938.7 1185.7h18.4m-9.2-9.2v18.4M930.2 1156.6h18.4m-9.2-9.2v18.4M910.8 1177.7h18.4m-9.2-9.2v18.4M958.8 1143.3h18.4m-9.2-9.2v18.4M917.1 1162.2h18.4m-9.2-9.2v18.4M982.2 1137.2h18.4m-9.2-9.2v18.4M938.3 1136.0h18.4m-9.2-9.2v18.4M917.8 1164.9h18.4m-9.2-9.2v18.4M897.0 1182.0h18.4m-9.2-9.2v18.4M942.7 1175.4h18.4m-9.2-9.2v18.4M927.5 1158.4h18.4m-9.2-9.2v18.4M929.9 1164.4h18.4m-9.2-9.2v18.4M890.9 1220.1h18.4m-9.2-9.2v18.4M954.3 1191.6h18.4m-9.2-9.2v18.4M983.7 1130.4h18.4m-9.2-9.2v18.4M889.6 1191.2h18.4m-9.2-9.2v18.4M950.9 1152.6h18.4m-9.2-9.2v18.4M957.9 1176.7h18.4m-9.2-9.2v18.4M990.6 1117.1h18.4m-9.2-9.2v18.4M948.5 1165.2h18.4m-9.2-9.2v18.4M983.1 1118.5h18.4m-9.2-9.2v18.4M956.2 1205.6h18.4m-9.2-9.2v18.4M963.5 1122.7h18.4m-9.2-9.2v18.4M933.8 1164.0h18.4m-9.2-9.2v18.4M984.2 1123.4h18.4m-9.2-9.2v18.4M937.4 1179.1h18.4m-9.2-9.2v18.4M990.8 1113.7h18.4m-9.2-9.2v18.4M934.6 1147.3h18.4m-9.2-9.2v18.4M895.4 1194.3h18.4m-9.2-9.2v18.4M971.6 1154.6h18.4m-9.2-9.2v18.4M968.5 1138.6h18.4m-9.2-9.2v18.4M957.7 1200.6h18.4m-9.2-9.2v18.4M954.5 1126.6h18.4m-9.2-9.2v18.4M967.6 1117.2h18.4m-9.2-9.2v18.4M900.0 1206.5h18.4m-9.2-9.2v18.4M928.1 1140.7h18.4m-9.2-9.2v18.4M933.0 1158.5h18.4m-9.2-9.2v18.4M957.8 1195.4h18.4m-9.2-9.2v18.4M958.5 1126.5h18.4m-9.2-9.2v18.4M890.7 1224.5h18.4m-9.2-9.2v18.4M949.0 1130.7h18.4m-9.2-9.2v18.4M955.2 1201.8h18.4m-9.2-9.2v18.4M955.6 1151.4h18.4m-9.2-9.2v18.4M891.9 1217.8h18.4m-9.2-9.2v18.4M894.0 1216.8h18.4m-9.2-9.2v18.4M954.1 1164.0h18.4m-9.2-9.2v18.4M963.8 1181.0h18.4m-9.2-9.2v18.4M955.5 1135.5h18.4m-9.2-9.2v18.4M897.0 1184.6h18.4m-9.2-9.2v18.4M957.4 1184.5h18.4m-9.2-9.2v18.4M980.7 1132.1h18.4m-9.2-9.2v18.4M945.1 1191.7h18.4m-9.2-9.2v18.4M948.6 1139.1h18.4m-9.2-9.2v18.4M930.9 1171.2h18.4m-9.2-9.2v18.4M910.9 1158.5h18.4m-9.2-9.2v18.4M961.1 1131.1h18.4m-9.2-9.2v18.4M930.6 1180.5h18.4m-9.2-9.2v18.4M926.5 1150.1h18.4m-9.2-9.2v18.4M893.6 1191.0h18.4m-9.2-9.2v18.4M977.8 1145.2h18.4m-9.2-9.2v18.4M947.7 1198.7h18.4m-9.2-9.2v18.4M932.1 1181.8h18.4m-9.2-9.2v18.4M962.8 1186.8h18.4m-9.2-9.2v18.4M985.9 1108.9h18.4m-9.2-9.2v18.4M919.5 1168.9h18.4m-9.2-9.2v18.4M932.6 1157.9h18.4m-9.2-9.2v18.4M953.0 1170.8h18.4m-9.2-9.2v18.4M980.9 1108.3h18.4m-9.2-9.2v18.4M982.3 1133.1h18.4m-9.2-9.2v18.4M963.8 1156.8h18.4m-9.2-9.2v18.4M961.2 1191.9h18.4m-9.2-9.2v18.4M969.1 1125.1h18.4m-9.2-9.2v18.4M950.9 1162.6h18.4m-9.2-9.2v18.4M951.1 1140.8h18.4m-9.2-9.2v18.4M964.5 1134.0h18.4m-9.2-9.2v18.4M925.3 1175.0h18.4m-9.2-9.2v18.4M956.9 1173.5h18.4m-9.2-9.2v18.4M950.1 1163.6h18.4m-9.2-9.2v18.4M930.1 1179.2h18.4m-9.2-9.2v18.4M921.0 1147.0h18.4m-9.2-9.2v18.4M961.8 1135.6h18.4m-9.2-9.2v18.4M986.1 1125.4h18.4m-9.2-9.2v18.4M944.8 1195.6h18.4m-9.2-9.2v18.4M953.2 1166.6h18.4m-9.2-9.2v18.4M969.1 1172.4h18.4m-9.2-9.2v18.4M952.9 1136.5h18.4m-9.2-9.2v18.4M891.1 1216.6h18.4m-9.2-9.2v18.4M894.7 1207.7h18.4m-9.2-9.2v18.4M925.1 1166.9h18.4m-9.2-9.2v18.4M946.7 1147.4h18.4m-9.2-9.2v18.4M962.2 1155.1h18.4m-9.2-9.2v18.4M916.3 1177.4h18.4m-9.2-9.2v18.4M932.0 1166.3h18.4m-9.2-9.2v18.4M983.8 1111.6h18.4m-9.2-9.2v18.4M928.1 1168.2h18.4m-9.2-9.2v18.4M976.7 1118.7h18.4m-9.2-9.2v18.4M929.6 1143.7h18.4m-9.2-9.2v18.4M894.5 1187.0h18.4m-9.2-9.2v18.4M964.6 1153.1h18.4m-9.2-9.2v18.4M977.6 1110.4h18.4m-9.2-9.2v18.4M944.1 1193.5h18.4m-9.2-9.2v18.4M963.3 1129.4h18.4m-9.2-9.2v18.4M967.8 1124.5h18.4m-9.2-9.2v18.4M910.9 1181.7h18.4m-9.2-9.2v18.4M899.2 1194.9h18.4m-9.2-9.2v18.4M896.7 1191.1h18.4m-9.2-9.2v18.4M977.5 1112.1h18.4m-9.2-9.2v18.4M897.9 1185.0h18.4m-9.2-9.2v18.4M955.1 1194.0h18.4m-9.2-9.2v18.4M921.0 1171.5h18.4m-9.2-9.2v18.4M940.9 1171.3h18.4m-9.2-9.2v18.4M952.4 1134.1h18.4m-9.2-9.2v18.4M1012.2 1112.9h18.4m-9.2-9.2v18.4M1030.0 1094.1h18.4m-9.2-9.2v18.4M1062.4 1088.6h18.4m-9.2-9.2v18.4M1054.0 1110.8h18.4m-9.2-9.2v18.4M1052.7 1091.8h18.4m-9.2-9.2v18.4M1049.8 1090.2h18.4m-9.2-9.2v18.4M1038.9 1089.1h18.4m-9.2-9.2v18.4M1006.0 1138.6h18.4m-9.2-9.2v18.4M1061.5 1106.5h18.4m-9.2-9.2v18.4M1021.9 1072.2h18.4m-9.2-9.2v18.4M997.5 1145.8h18.4m-9.2-9.2v18.4M1042.0 1095.8h18.4m-9.2-9.2v18.4M1021.2 1067.3h18.4m-9.2-9.2v18.4M1079.9 1045.4h18.4m-9.2-9.2v18.4M1000.2 1143.2h18.4m-9.2-9.2v18.4M1078.8 1037.1h18.4m-9.2-9.2v18.4M1048.3 1062.7h18.4m-9.2-9.2v18.4M1050.6 1051.9h18.4m-9.2-9.2v18.4M1045.7 1043.7h18.4m-9.2-9.2v18.4M1018.3 1098.3h18.4m-9.2-9.2v18.4M998.6 1119.1h18.4m-9.2-9.2v18.4M1048.3 1107.6h18.4m-9.2-9.2v18.4M999.3 1110.4h18.4m-9.2-9.2v18.4M1055.3 1039.4h18.4m-9.2-9.2v18.4M991.7 1120.3h18.4m-9.2-9.2v18.4M1052.8 1082.0h18.4m-9.2-9.2v18.4M1068.7 1036.4h18.4m-9.2-9.2v18.4M991.0 1131.4h18.4m-9.2-9.2v18.4M1012.9 1126.5h18.4m-9.2-9.2v18.4M1010.9 1078.5h18.4m-9.2-9.2v18.4M1026.6 1058.1h18.4m-9.2-9.2v18.4M1036.7 1067.0h18.4m-9.2-9.2v18.4M1040.1 1060.0h18.4m-9.2-9.2v18.4M1067.6 1072.9h18.4m-9.2-9.2v18.4M1023.8 1090.9h18.4m-9.2-9.2v18.4M1009.6 1132.6h18.4m-9.2-9.2v18.4M1002.1 1127.5h18.4m-9.2-9.2v18.4M1011.5 1101.7h18.4m-9.2-9.2v18.4M1044.1 1076.2h18.4m-9.2-9.2v18.4M1005.1 1103.0h18.4m-9.2-9.2v18.4M1044.4 1089.2h18.4m-9.2-9.2v18.4M1066.8 1084.3h18.4m-9.2-9.2v18.4M1053.9 1074.1h18.4m-9.2-9.2v18.4M1058.0 1054.2h18.4m-9.2-9.2v18.4M1071.2 1035.6h18.4m-9.2-9.2v18.4M1019.9 1108.5h18.4m-9.2-9.2v18.4M1023.3 1076.4h18.4m-9.2-9.2v18.4M1031.3 1069.1h18.4m-9.2-9.2v18.4M1010.2 1105.5h18.4m-9.2-9.2v18.4M1011.1 1104.8h18.4m-9.2-9.2v18.4M1042.9 1074.1h18.4m-9.2-9.2v18.4M1068.2 1039.3h18.4m-9.2-9.2v18.4M1064.5 1077.3h18.4m-9.2-9.2v18.4M1017.1 1073.5h18.4m-9.2-9.2v18.4M1034.5 1091.1h18.4m-9.2-9.2v18.4M1058.6 1070.4h18.4m-9.2-9.2v18.4M1046.7 1069.8h18.4m-9.2-9.2v18.4M1054.7 1050.4h18.4m-9.2-9.2v18.4M1022.7 1074.5h18.4m-9.2-9.2v18.4M1034.4 1087.2h18.4m-9.2-9.2v18.4M1053.8 1055.9h18.4m-9.2-9.2v18.4M1041.8 1079.7h18.4m-9.2-9.2v18.4M1004.8 1133.1h18.4m-9.2-9.2v18.4M1056.2 1065.8h18.4m-9.2-9.2v18.4M1001.5 1118.0h18.4m-9.2-9.2v18.4M1052.7 1089.2h18.4m-9.2-9.2v18.4M1061.3 1054.5h18.4m-9.2-9.2v18.4M1040.4 1052.9h18.4m-9.2-9.2v18.4M1057.5 1092.1h18.4m-9.2-9.2v18.4M994.4 1108.0h18.4m-9.2-9.2v18.4M1032.0 1058.1h18.4m-9.2-9.2v18.4M1067.9 1070.9h18.4m-9.2-9.2v18.4M1053.0 1051.6h18.4m-9.2-9.2v18.4M1005.9 1115.9h18.4m-9.2-9.2v18.4M1063.7 1036.7h18.4m-9.2-9.2v18.4M1021.0 1074.5h18.4m-9.2-9.2v18.4M1040.5 1065.4h18.4m-9.2-9.2v18.4M1018.6 1104.0h18.4m-9.2-9.2v18.4M1040.0 1067.3h18.4m-9.2-9.2v18.4M1031.1 1098.6h18.4m-9.2-9.2v18.4M1064.4 1055.1h18.4m-9.2-9.2v18.4M1039.8 1097.6h18.4m-9.2-9.2v18.4M1071.6 1033.4h18.4m-9.2-9.2v18.4M1056.1 1069.5h18.4m-9.2-9.2v18.4M1046.8 1054.4h18.4m-9.2-9.2v18.4M1077.7 1032.6h18.4m-9.2-9.2v18.4M1045.7 1107.1h18.4m-9.2-9.2v18.4M1041.4 1091.5h18.4m-9.2-9.2v18.4M1044.2 1059.0h18.4m-9.2-9.2v18.4M993.6 1128.3h18.4m-9.2-9.2v18.4M1060.6 1084.8h18.4m-9.2-9.2v18.4M997.9 1149.8h18.4m-9.2-9.2v18.4M1012.7 1107.7h18.4m-9.2-9.2v18.4M1029.9 1069.3h18.4m-9.2-9.2v18.4M1033.7 1067.4h18.4m-9.2-9.2v18.4M1069.0 1067.8h18.4m-9.2-9.2v18.4M1045.1 1056.4h18.4m-9.2-9.2v18.4M1000.4 1133.7h18.4m-9.2-9.2v18.4M991.5 1138.6h18.4m-9.2-9.2v18.4M1060.6 1061.1h18.4m-9.2-9.2v18.4M1011.4 1081.8h18.4m-9.2-9.2v18.4M1007.6 1094.7h18.4m-9.2-9.2v18.4M1044.6 1074.7h18.4m-9.2-9.2v18.4M1054.2 1062.6h18.4m-9.2-9.2v18.4M1006.5 1120.2h18.4m-9.2-9.2v18.4M1032.1 1091.0h18.4m-9.2-9.2v18.4M1024.3 1081.9h18.4m-9.2-9.2v18.4M1056.4 1056.0h18.4m-9.2-9.2v18.4M1049.7 1050.8h18.4m-9.2-9.2v18.4M1051.8 1106.7h18.4m-9.2-9.2v18.4M1046.1 1081.8h18.4m-9.2-9.2v18.4M1028.7 1087.9h18.4m-9.2-9.2v18.4M1051.5 1040.7h18.4m-9.2-9.2v18.4M1076.1 1052.2h18.4m-9.2-9.2v18.4M1053.0 1098.7h18.4m-9.2-9.2v18.4M1050.8 1040.1h18.4m-9.2-9.2v18.4M1049.4 1102.2h18.4m-9.2-9.2v18.4M1051.7 1082.3h18.4m-9.2-9.2v18.4M1046.9 1109.2h18.4m-9.2-9.2v18.4M1005.0 1110.1h18.4m-9.2-9.2v18.4M1011.9 1087.6h18.4m-9.2-9.2v18.4M1042.3 1088.9h18.4m-9.2-9.2v18.4M1072.7 1052.0h18.4m-9.2-9.2v18.4M1010.4 1100.0h18.4m-9.2-9.2v18.4M1032.2 1067.1h18.4m-9.2-9.2v18.4M1049.0 1060.3h18.4m-9.2-9.2v18.4M991.9 1111.2h18.4m-9.2-9.2v18.4M1058.5 1057.4h18.4m-9.2-9.2v18.4M1006.8 1113.5h18.4m-9.2-9.2v18.4M996.0 1100.0h18.4m-9.2-9.2v18.4M1058.4 1091.5h18.4m-9.2-9.2v18.4M1074.4 1031.9h18.4m-9.2-9.2v18.4M1053.4 1088.3h18.4m-9.2-9.2v18.4M1068.5 1073.3h18.4m-9.2-9.2v18.4M1059.0 1088.1h18.4m-9.2-9.2v18.4M993.3 1101.4h18.4m-9.2-9.2v18.4M1015.2 1102.7h18.4m-9.2-9.2v18.4M994.7 1095.4h18.4m-9.2-9.2v18.4M996.0 1118.0h18.4m-9.2-9.2v18.4M994.7 1108.2h18.4m-9.2-9.2v18.4M1062.3 1046.7h18.4m-9.2-9.2v18.4M1000.6 1102.9h18.4m-9.2-9.2v18.4M1031.9 1059.5h18.4m-9.2-9.2v18.4M1045.0 1074.9h18.4m-9.2-9.2v18.4M1039.9 1052.9h18.4m-9.2-9.2v18.4M1067.6 1081.1h18.4m-9.2-9.2v18.4M1058.0 1111.2h18.4m-9.2-9.2v18.4M995.5 1132.4h18.4m-9.2-9.2v18.4M1059.6 1063.6h18.4m-9.2-9.2v18.4M1068.6 1075.5h18.4m-9.2-9.2v18.4M1058.2 1103.4h18.4m-9.2-9.2v18.4M1014.4 1169.9h18.4m-9.2-9.2v18.4M1020.3 1173.6h18.4m-9.2-9.2v18.4M1014.9 1133.7h18.4m-9.2-9.2v18.4M1000.9 1165.7h18.4m-9.2-9.2v18.4M1017.5 1166.2h18.4m-9.2-9.2v18.4M1007.3 1188.2h18.4m-9.2-9.2v18.4M1010.4 1169.3h18.4m-9.2-9.2v18.4M1001.6 1170.8h18.4m-9.2-9.2v18.4M1011.1 1184.4h18.4m-9.2-9.2v18.4M1000.1 1172.7h18.4m-9.2-9.2v18.4M998.3 1169.5h18.4m-9.2-9.2v18.4M1230.2 927.0h18.4m-9.2-9.2v18.4M1234.9 927.3h18.4m-9.2-9.2v18.4M1242.6 930.1h18.4m-9.2-9.2v18.4M1295.3 928.0h18.4m-9.2-9.2v18.4M1274.7 922.7h18.4m-9.2-9.2v18.4M1288.9 929.4h18.4m-9.2-9.2v18.4M1079.2 1053.5h18.4m-9.2-9.2v18.4M1230.5 931.0h18.4m-9.2-9.2v18.4M1150.8 998.7h18.4m-9.2-9.2v18.4M1158.2 962.1h18.4m-9.2-9.2v18.4M1172.2 1011.0h18.4m-9.2-9.2v18.4M1099.5 1048.7h18.4m-9.2-9.2v18.4M1092.8 1049.1h18.4m-9.2-9.2v18.4M1110.1 1044.2h18.4m-9.2-9.2v18.4M1122.1 1029.6h18.4m-9.2-9.2v18.4M1129.3 998.4h18.4m-9.2-9.2v18.4M1182.1 986.7h18.4m-9.2-9.2v18.4M1119.1 1021.4h18.4m-9.2-9.2v18.4M1199.8 979.6h18.4m-9.2-9.2v18.4M1180.7 1046.6h18.4m-9.2-9.2v18.4M1233.1 914.2h18.4m-9.2-9.2v18.4M1139.1 987.4h18.4m-9.2-9.2v18.4M1174.2 963.0h18.4m-9.2-9.2v18.4M1247.1 905.4h18.4m-9.2-9.2v18.4M1168.9 970.0h18.4m-9.2-9.2v18.4M1111.0 1019.1h18.4m-9.2-9.2v18.4M1187.2 975.5h18.4m-9.2-9.2v18.4M1111.2 1064.5h18.4m-9.2-9.2v18.4M1195.0 980.2h18.4m-9.2-9.2v18.4M1169.6 1017.2h18.4m-9.2-9.2v18.4M1237.5 915.6h18.4m-9.2-9.2v18.4M1165.1 983.6h18.4m-9.2-9.2v18.4M1130.5 993.2h18.4m-9.2-9.2v18.4M1206.8 956.3h18.4m-9.2-9.2v18.4M1194.6 979.0h18.4m-9.2-9.2v18.4M1170.6 1024.0h18.4m-9.2-9.2v18.4M1154.8 1000.8h18.4m-9.2-9.2v18.4M1179.9 1020.6h18.4m-9.2-9.2v18.4M1104.0 1050.5h18.4m-9.2-9.2v18.4M1141.6 1000.6h18.4m-9.2-9.2v18.4M1120.2 1017.4h18.4m-9.2-9.2v18.4M1125.3 1005.1h18.4m-9.2-9.2v18.4M1173.6 976.2h18.4m-9.2-9.2v18.4M1195.1 1002.1h18.4m-9.2-9.2v18.4M1242.7 908.8h18.4m-9.2-9.2v18.4M1159.1 983.3h18.4m-9.2-9.2v18.4M1170.6 969.7h18.4m-9.2-9.2v18.4M1160.0 1011.9h18.4m-9.2-9.2v18.4M1101.4 1047.9h18.4m-9.2-9.2v18.4M1095.3 1030.7h18.4m-9.2-9.2v18.4M1106.6 1058.9h18.4m-9.2-9.2v18.4M1166.3 979.7h18.4m-9.2-9.2v18.4M1104.0 1037.6h18.4m-9.2-9.2v18.4M1159.8 964.0h18.4m-9.2-9.2v18.4M1098.6 1053.9h18.4m-9.2-9.2v18.4M1117.0 1028.2h18.4m-9.2-9.2v18.4M1195.3 955.6h18.4m-9.2-9.2v18.4M1078.2 1036.1h18.4m-9.2-9.2v18.4M1198.0 969.0h18.4m-9.2-9.2v18.4M1142.4 973.6h18.4m-9.2-9.2v18.4M1217.1 945.6h18.4m-9.2-9.2v18.4M1128.5 1021.1h18.4m-9.2-9.2v18.4M1105.3 1047.3h18.4m-9.2-9.2v18.4M1251.9 903.8h18.4m-9.2-9.2v18.4M1190.0 1012.6h18.4m-9.2-9.2v18.4M1177.2 986.7h18.4m-9.2-9.2v18.4M1207.8 974.1h18.4m-9.2-9.2v18.4M1157.2 964.2h18.4m-9.2-9.2v18.4M1122.6 1022.0h18.4m-9.2-9.2v18.4M1097.7 1068.1h18.4m-9.2-9.2v18.4M1080.0 1048.4h18.4m-9.2-9.2v18.4M1130.3 1008.3h18.4m-9.2-9.2v18.4M1239.0 911.7h18.4m-9.2-9.2v18.4M1200.3 970.9h18.4m-9.2-9.2v18.4M1105.6 1066.2h18.4m-9.2-9.2v18.4M1140.3 973.7h18.4m-9.2-9.2v18.4M1166.6 989.0h18.4m-9.2-9.2v18.4M1176.5 958.8h18.4m-9.2-9.2v18.4M1083.6 1065.2h18.4m-9.2-9.2v18.4M1150.1 1003.1h18.4m-9.2-9.2v18.4M1228.5 935.6h18.4m-9.2-9.2v18.4M1207.9 971.6h18.4m-9.2-9.2v18.4M1119.2 1024.4h18.4m-9.2-9.2v18.4M1197.5 992.0h18.4m-9.2-9.2v18.4M1224.8 937.6h18.4m-9.2-9.2v18.4M1181.4 1025.1h18.4m-9.2-9.2v18.4M1092.1 1062.0h18.4m-9.2-9.2v18.4M1101.3 1063.3h18.4m-9.2-9.2v18.4M1199.1 992.8h18.4m-9.2-9.2v18.4M1178.6 1002.1h18.4m-9.2-9.2v18.4M1239.7 917.8h18.4m-9.2-9.2v18.4M1159.4 999.7h18.4m-9.2-9.2v18.4M1109.9 1062.3h18.4m-9.2-9.2v18.4M1174.0 1005.0h18.4m-9.2-9.2v18.4M1132.7 993.2h18.4m-9.2-9.2v18.4M1091.6 1064.6h18.4m-9.2-9.2v18.4M1244.1 905.3h18.4m-9.2-9.2v18.4M1084.5 1046.4h18.4m-9.2-9.2v18.4M1180.5 981.6h18.4m-9.2-9.2v18.4M1138.3 994.9h18.4m-9.2-9.2v18.4M1201.1 989.6h18.4m-9.2-9.2v18.4M1174.2 1021.7h18.4m-9.2-9.2v18.4M1078.2 1042.4h18.4m-9.2-9.2v18.4M1216.8 956.7h18.4m-9.2-9.2v18.4M1140.7 992.4h18.4m-9.2-9.2v18.4M1180.4 1017.6h18.4m-9.2-9.2v18.4M1220.5 933.3h18.4m-9.2-9.2v18.4M1086.4 1044.8h18.4m-9.2-9.2v18.4M1168.6 1013.8h18.4m-9.2-9.2v18.4M1197.7 1005.2h18.4m-9.2-9.2v18.4M1107.0 1067.6h18.4m-9.2-9.2v18.4M1132.6 1017.2h18.4m-9.2-9.2v18.4M1190.7 979.9h18.4m-9.2-9.2v18.4M1234.5 921.0h18.4m-9.2-9.2v18.4M1215.3 957.7h18.4m-9.2-9.2v18.4M1099.7 1065.3h18.4m-9.2-9.2v18.4M1209.7 963.1h18.4m-9.2-9.2v18.4M1237.5 930.4h18.4m-9.2-9.2v18.4M1158.5 979.9h18.4m-9.2-9.2v18.4M1084.0 1065.3h18.4m-9.2-9.2v18.4M1099.0 1052.4h18.4m-9.2-9.2v18.4M1111.5 1039.5h18.4m-9.2-9.2v18.4M1199.3 1003.4h18.4m-9.2-9.2v18.4M1124.8 1013.9h18.4m-9.2-9.2v18.4M1198.7 999.1h18.4m-9.2-9.2v18.4M1192.0 1015.4h18.4m-9.2-9.2v18.4M1241.3 905.6h18.4m-9.2-9.2v18.4M1175.6 976.9h18.4m-9.2-9.2v18.4M1184.8 1015.9h18.4m-9.2-9.2v18.4M1200.9 986.1h18.4m-9.2-9.2v18.4M1163.4 974.7h18.4m-9.2-9.2v18.4M1176.7 985.6h18.4m-9.2-9.2v18.4M1161.4 977.4h18.4m-9.2-9.2v18.4M1234.7 932.9h18.4m-9.2-9.2v18.4M1129.7 1010.5h18.4m-9.2-9.2v18.4M1135.2 998.4h18.4m-9.2-9.2v18.4M1181.3 964.3h18.4m-9.2-9.2v18.4M1077.2 1052.1h18.4m-9.2-9.2v18.4M1180.2 1021.9h18.4m-9.2-9.2v18.4M1221.4 934.5h18.4m-9.2-9.2v18.4M1216.7 957.1h18.4m-9.2-9.2v18.4M1168.6 1016.2h18.4m-9.2-9.2v18.4M1171.3 995.9h18.4m-9.2-9.2v18.4M1173.6 979.5h18.4m-9.2-9.2v18.4M1168.4 962.2h18.4m-9.2-9.2v18.4M1240.2 926.5h18.4m-9.2-9.2v18.4M1096.8 1064.9h18.4m-9.2-9.2v18.4M1161.4 968.6h18.4m-9.2-9.2v18.4M1140.8 990.8h18.4m-9.2-9.2v18.4M1159.7 972.7h18.4m-9.2-9.2v18.4M1168.4 1005.5h18.4m-9.2-9.2v18.4M1132.1 999.6h18.4m-9.2-9.2v18.4M1182.9 963.6h18.4m-9.2-9.2v18.4M1161.5 977.8h18.4m-9.2-9.2v18.4M1111.7 1036.5h18.4m-9.2-9.2v18.4M1086.4 1062.9h18.4m-9.2-9.2v18.4M1142.3 979.4h18.4m-9.2-9.2v18.4M1095.7 1058.3h18.4m-9.2-9.2v18.4M1170.4 995.1h18.4m-9.2-9.2v18.4M1124.3 1034.0h18.4m-9.2-9.2v18.4M1166.0 966.2h18.4m-9.2-9.2v18.4M1201.0 993.1h18.4m-9.2-9.2v18.4M1145.8 968.8h18.4m-9.2-9.2v18.4M1105.8 1025.6h18.4m-9.2-9.2v18.4M1247.5 903.1h18.4m-9.2-9.2v18.4M1153.1 977.3h18.4m-9.2-9.2v18.4M1201.0 958.1h18.4m-9.2-9.2v18.4M1234.4 907.0h18.4m-9.2-9.2v18.4M1107.8 1027.3h18.4m-9.2-9.2v18.4M1093.8 1027.0h18.4m-9.2-9.2v18.4M1126.7 1011.8h18.4m-9.2-9.2v18.4M1172.6 987.1h18.4m-9.2-9.2v18.4M1133.8 1006.1h18.4m-9.2-9.2v18.4M1208.0 961.9h18.4m-9.2-9.2v18.4M1151.5 1004.8h18.4m-9.2-9.2v18.4M1171.9 961.8h18.4m-9.2-9.2v18.4M1084.1 1047.1h18.4m-9.2-9.2v18.4M1157.1 978.8h18.4m-9.2-9.2v18.4M1194.7 1008.0h18.4m-9.2-9.2v18.4M1144.1 1011.0h18.4m-9.2-9.2v18.4M1184.1 1036.1h18.4m-9.2-9.2v18.4M1166.3 989.2h18.4m-9.2-9.2v18.4M1179.6 995.4h18.4m-9.2-9.2v18.4M1227.7 933.2h18.4m-9.2-9.2v18.4M1179.5 967.6h18.4m-9.2-9.2v18.4M1197.5 983.8h18.4m-9.2-9.2v18.4M1116.0 1017.3h18.4m-9.2-9.2v18.4M1207.7 977.3h18.4m-9.2-9.2v18.4M1176.6 1044.9h18.4m-9.2-9.2v18.4M1179.2 1014.7h18.4m-9.2-9.2v18.4M1150.4 976.6h18.4m-9.2-9.2v18.4M1175.1 1010.1h18.4m-9.2-9.2v18.4M1113.8 1051.4h18.4m-9.2-9.2v18.4M1116.5 1042.6h18.4m-9.2-9.2v18.4M1092.5 1057.2h18.4m-9.2-9.2v18.4M1109.8 1021.0h18.4m-9.2-9.2v18.4M1102.9 1033.1h18.4m-9.2-9.2v18.4M1188.3 978.9h18.4m-9.2-9.2v18.4M1174.0 1029.0h18.4m-9.2-9.2v18.4M1084.1 1042.1h18.4m-9.2-9.2v18.4M1204.7 972.7h18.4m-9.2-9.2v18.4M1163.9 1007.1h18.4m-9.2-9.2v18.4M1184.3 1015.5h18.4m-9.2-9.2v18.4M1123.6 1034.6h18.4m-9.2-9.2v18.4M1184.3 1017.3h18.4m-9.2-9.2v18.4M1129.6 992.2h18.4m-9.2-9.2v18.4M1119.5 1016.8h18.4m-9.2-9.2v18.4M1195.1 1012.1h18.4m-9.2-9.2v18.4M1136.6 1002.6h18.4m-9.2-9.2v18.4M1132.0 1012.4h18.4m-9.2-9.2v18.4M1121.2 1021.3h18.4m-9.2-9.2v18.4M1178.3 1011.7h18.4m-9.2-9.2v18.4M1143.4 983.3h18.4m-9.2-9.2v18.4M1096.4 1039.6h18.4m-9.2-9.2v18.4M1182.0 985.7h18.4m-9.2-9.2v18.4M1165.0 990.0h18.4m-9.2-9.2v18.4M1238.1 912.5h18.4m-9.2-9.2v18.4M1188.0 978.7h18.4m-9.2-9.2v18.4M1081.1 1054.8h18.4m-9.2-9.2v18.4M1174.9 1014.8h18.4m-9.2-9.2v18.4M1203.1 980.8h18.4m-9.2-9.2v18.4M1190.4 972.4h18.4m-9.2-9.2v18.4M1206.4 963.7h18.4m-9.2-9.2v18.4M1161.8 976.1h18.4m-9.2-9.2v18.4M1184.9 974.4h18.4m-9.2-9.2v18.4M1166.7 982.5h18.4m-9.2-9.2v18.4M1187.3 972.0h18.4m-9.2-9.2v18.4M1186.1 980.5h18.4m-9.2-9.2v18.4M1169.0 967.7h18.4m-9.2-9.2v18.4M1107.9 1064.7h18.4m-9.2-9.2v18.4M1127.4 998.9h18.4m-9.2-9.2v18.4M1132.2 994.2h18.4m-9.2-9.2v18.4M1166.9 1023.7h18.4m-9.2-9.2v18.4M1176.0 1033.5h18.4m-9.2-9.2v18.4M1111.0 1046.8h18.4m-9.2-9.2v18.4M1176.8 1016.3h18.4m-9.2-9.2v18.4M1139.7 985.0h18.4m-9.2-9.2v18.4M1192.2 990.5h18.4m-9.2-9.2v18.4M1174.3 995.7h18.4m-9.2-9.2v18.4M1247.9 910.7h18.4m-9.2-9.2v18.4M1182.1 1028.6h18.4m-9.2-9.2v18.4M1202.9 956.2h18.4m-9.2-9.2v18.4M1181.3 981.7h18.4m-9.2-9.2v18.4M1085.8 1056.8h18.4m-9.2-9.2v18.4M1180.7 982.7h18.4m-9.2-9.2v18.4M1166.8 1013.5h18.4m-9.2-9.2v18.4M1138.2 977.2h18.4m-9.2-9.2v18.4M1355.0 825.7h18.4m-9.2-9.2v18.4M1330.3 820.5h18.4m-9.2-9.2v18.4M1382.5 828.7h18.4m-9.2-9.2v18.4M1456.1 786.3h18.4m-9.2-9.2v18.4M1332.4 827.6h18.4m-9.2-9.2v18.4M1363.2 844.3h18.4m-9.2-9.2v18.4M1322.3 840.1h18.4m-9.2-9.2v18.4M1282.6 905.3h18.4m-9.2-9.2v18.4M1362.7 844.1h18.4m-9.2-9.2v18.4M1286.0 887.0h18.4m-9.2-9.2v18.4M1408.5 815.9h18.4m-9.2-9.2v18.4M1451.1 792.5h18.4m-9.2-9.2v18.4M1370.5 847.0h18.4m-9.2-9.2v18.4M1440.2 780.8h18.4m-9.2-9.2v18.4M1331.6 844.3h18.4m-9.2-9.2v18.4M1321.2 876.2h18.4m-9.2-9.2v18.4M1412.5 812.1h18.4m-9.2-9.2v18.4M1441.7 779.9h18.4m-9.2-9.2v18.4M1323.5 824.4h18.4m-9.2-9.2v18.4M1237.7 909.5h18.4m-9.2-9.2v18.4M1320.3 879.4h18.4m-9.2-9.2v18.4M1347.5 829.1h18.4m-9.2-9.2v18.4M1392.1 824.5h18.4m-9.2-9.2v18.4M1278.3 891.9h18.4m-9.2-9.2v18.4M1398.9 802.4h18.4m-9.2-9.2v18.4M1435.8 776.1h18.4m-9.2-9.2v18.4M1416.8 801.9h18.4m-9.2-9.2v18.4M1302.3 893.7h18.4m-9.2-9.2v18.4M1350.2 828.9h18.4m-9.2-9.2v18.4M1264.9 896.0h18.4m-9.2-9.2v18.4M1365.8 839.3h18.4m-9.2-9.2v18.4M1276.3 893.2h18.4m-9.2-9.2v18.4M1329.0 845.1h18.4m-9.2-9.2v18.4M1346.4 833.1h18.4m-9.2-9.2v18.4M1409.1 827.8h18.4m-9.2-9.2v18.4M1269.0 874.4h18.4m-9.2-9.2v18.4M1444.8 787.4h18.4m-9.2-9.2v18.4M1474.8 768.1h18.4m-9.2-9.2v18.4M1298.6 867.0h18.4m-9.2-9.2v18.4M1346.2 853.0h18.4m-9.2-9.2v18.4M1431.2 810.7h18.4m-9.2-9.2v18.4M1263.9 881.9h18.4m-9.2-9.2v18.4M1456.5 760.9h18.4m-9.2-9.2v18.4M1436.0 812.9h18.4m-9.2-9.2v18.4M1273.9 873.1h18.4m-9.2-9.2v18.4M1435.9 793.6h18.4m-9.2-9.2v18.4M1381.9 814.1h18.4m-9.2-9.2v18.4M1279.0 907.4h18.4m-9.2-9.2v18.4M1234.7 909.6h18.4m-9.2-9.2v18.4M1376.4 819.8h18.4m-9.2-9.2v18.4M1228.5 918.4h18.4m-9.2-9.2v18.4M1357.2 821.5h18.4m-9.2-9.2v18.4M1234.9 901.5h18.4m-9.2-9.2v18.4M1268.1 894.2h18.4m-9.2-9.2v18.4M1376.2 811.4h18.4m-9.2-9.2v18.4M1446.5 779.3h18.4m-9.2-9.2v18.4M1330.2 871.4h18.4m-9.2-9.2v18.4M1459.0 778.4h18.4m-9.2-9.2v18.4M1355.7 822.2h18.4m-9.2-9.2v18.4M1287.5 864.0h18.4m-9.2-9.2v18.4M1338.6 834.7h18.4m-9.2-9.2v18.4M1376.9 809.8h18.4m-9.2-9.2v18.4M1362.9 839.3h18.4m-9.2-9.2v18.4M1459.9 787.6h18.4m-9.2-9.2v18.4M1308.0 844.8h18.4m-9.2-9.2v18.4M1369.5 827.9h18.4m-9.2-9.2v18.4M1458.5 772.6h18.4m-9.2-9.2v18.4M1278.6 920.8h18.4m-9.2-9.2v18.4M1310.8 855.8h18.4m-9.2-9.2v18.4M1348.2 838.8h18.4m-9.2-9.2v18.4M1304.1 894.6h18.4m-9.2-9.2v18.4M1430.7 815.2h18.4m-9.2-9.2v18.4M1261.0 875.8h18.4m-9.2-9.2v18.4M1269.6 897.9h18.4m-9.2-9.2v18.4M1327.8 864.1h18.4m-9.2-9.2v18.4M1310.3 844.5h18.4m-9.2-9.2v18.4M1439.0 780.6h18.4m-9.2-9.2v18.4M1259.3 904.9h18.4m-9.2-9.2v18.4M1369.2 835.1h18.4m-9.2-9.2v18.4M1264.2 899.0h18.4m-9.2-9.2v18.4M1381.0 845.8h18.4m-9.2-9.2v18.4M1329.3 862.8h18.4m-9.2-9.2v18.4M1278.8 890.3h18.4m-9.2-9.2v18.4M1272.6 896.3h18.4m-9.2-9.2v18.4M1325.3 871.7h18.4m-9.2-9.2v18.4M1427.2 781.5h18.4m-9.2-9.2v18.4M1221.8 923.5h18.4m-9.2-9.2v18.4M1260.8 894.0h18.4m-9.2-9.2v18.4M1270.1 908.2h18.4m-9.2-9.2v18.4M1378.6 827.8h18.4m-9.2-9.2v18.4M1357.2 812.0h18.4m-9.2-9.2v18.4M1327.3 874.2h18.4m-9.2-9.2v18.4M1292.5 902.3h18.4m-9.2-9.2v18.4M1414.0 803.9h18.4m-9.2-9.2v18.4M1433.3 778.4h18.4m-9.2-9.2v18.4M1432.0 798.3h18.4m-9.2-9.2v18.4M1282.3 901.0h18.4m-9.2-9.2v18.4M1257.0 880.4h18.4m-9.2-9.2v18.4M1314.7 885.1h18.4m-9.2-9.2v18.4M1272.6 888.3h18.4m-9.2-9.2v18.4M1381.7 810.9h18.4m-9.2-9.2v18.4M1380.4 821.2h18.4m-9.2-9.2v18.4M1423.4 808.6h18.4m-9.2-9.2v18.4M1367.8 820.6h18.4m-9.2-9.2v18.4M1307.7 892.5h18.4m-9.2-9.2v18.4M1430.6 807.6h18.4m-9.2-9.2v18.4M1283.6 919.3h18.4m-9.2-9.2v18.4M1429.8 800.4h18.4m-9.2-9.2v18.4M1436.4 806.8h18.4m-9.2-9.2v18.4M1315.2 872.0h18.4m-9.2-9.2v18.4M1265.6 882.7h18.4m-9.2-9.2v18.4M1462.0 772.0h18.4m-9.2-9.2v18.4M1282.8 868.8h18.4m-9.2-9.2v18.4M1391.2 820.6h18.4m-9.2-9.2v18.4M1313.7 868.0h18.4m-9.2-9.2v18.4M1341.0 828.7h18.4m-9.2-9.2v18.4M1263.3 875.4h18.4m-9.2-9.2v18.4M1343.5 857.4h18.4m-9.2-9.2v18.4M1414.4 823.1h18.4m-9.2-9.2v18.4M1329.3 824.2h18.4m-9.2-9.2v18.4M1230.7 914.6h18.4m-9.2-9.2v18.4M1382.8 837.0h18.4m-9.2-9.2v18.4M1376.7 823.9h18.4m-9.2-9.2v18.4M1387.5 832.5h18.4m-9.2-9.2v18.4M1277.0 895.1h18.4m-9.2-9.2v18.4M1264.4 889.4h18.4m-9.2-9.2v18.4M1402.7 820.4h18.4m-9.2-9.2v18.4M1430.5 815.5h18.4m-9.2-9.2v18.4M1435.6 792.3h18.4m-9.2-9.2v18.4M1286.5 872.1h18.4m-9.2-9.2v18.4M1310.0 857.3h18.4m-9.2-9.2v18.4M1319.2 876.5h18.4m-9.2-9.2v18.4M1318.2 830.4h18.4m-9.2-9.2v18.4M1437.5 802.6h18.4m-9.2-9.2v18.4M1232.2 910.1h18.4m-9.2-9.2v18.4M1441.5 779.5h18.4m-9.2-9.2v18.4M1319.8 844.3h18.4m-9.2-9.2v18.4M1468.2 778.6h18.4m-9.2-9.2v18.4M1403.1 821.2h18.4m-9.2-9.2v18.4M1470.7 774.8h18.4m-9.2-9.2v18.4M1402.9 827.5h18.4m-9.2-9.2v18.4M1240.3 909.6h18.4m-9.2-9.2v18.4M1472.8 784.4h18.4m-9.2-9.2v18.4M1236.1 906.1h18.4m-9.2-9.2v18.4M1314.6 848.0h18.4m-9.2-9.2v18.4M1328.1 873.2h18.4m-9.2-9.2v18.4M1267.7 873.9h18.4m-9.2-9.2v18.4M1356.6 846.3h18.4m-9.2-9.2v18.4M1308.2 845.5h18.4m-9.2-9.2v18.4M1364.0 814.9h18.4m-9.2-9.2v18.4M1357.3 825.5h18.4m-9.2-9.2v18.4M1339.9 841.0h18.4m-9.2-9.2v18.4M1464.3 759.6h18.4m-9.2-9.2v18.4M1301.7 884.4h18.4m-9.2-9.2v18.4M1464.5 766.0h18.4m-9.2-9.2v18.4M1372.5 812.6h18.4m-9.2-9.2v18.4M1343.2 847.0h18.4m-9.2-9.2v18.4M1366.2 834.4h18.4m-9.2-9.2v18.4M1424.1 799.0h18.4m-9.2-9.2v18.4M1468.5 758.5h18.4m-9.2-9.2v18.4M1332.6 838.8h18.4m-9.2-9.2v18.4M1263.0 887.5h18.4m-9.2-9.2v18.4M1461.2 760.3h18.4m-9.2-9.2v18.4M1268.9 889.4h18.4m-9.2-9.2v18.4M1425.4 810.3h18.4m-9.2-9.2v18.4M1223.9 922.5h18.4m-9.2-9.2v18.4M1384.6 843.5h18.4m-9.2-9.2v18.4M1273.6 893.2h18.4m-9.2-9.2v18.4M1343.1 823.1h18.4m-9.2-9.2v18.4M1308.0 868.3h18.4m-9.2-9.2v18.4M1447.1 771.7h18.4m-9.2-9.2v18.4M1365.1 826.0h18.4m-9.2-9.2v18.4M1409.4 816.2h18.4m-9.2-9.2v18.4M1430.7 806.3h18.4m-9.2-9.2v18.4M1307.2 852.3h18.4m-9.2-9.2v18.4M1307.7 888.7h18.4m-9.2-9.2v18.4M1390.8 841.1h18.4m-9.2-9.2v18.4M1289.8 862.8h18.4m-9.2-9.2v18.4M1457.4 777.2h18.4m-9.2-9.2v18.4M1408.2 803.9h18.4m-9.2-9.2v18.4M1471.2 772.9h18.4m-9.2-9.2v18.4M1331.9 848.3h18.4m-9.2-9.2v18.4M1269.0 885.8h18.4m-9.2-9.2v18.4M1365.3 822.6h18.4m-9.2-9.2v18.4M1408.3 818.5h18.4m-9.2-9.2v18.4M1282.5 882.1h18.4m-9.2-9.2v18.4M1434.0 811.9h18.4m-9.2-9.2v18.4M1464.5 768.5h18.4m-9.2-9.2v18.4M1272.3 910.7h18.4m-9.2-9.2v18.4M1318.8 857.8h18.4m-9.2-9.2v18.4M1373.0 812.8h18.4m-9.2-9.2v18.4M1352.7 829.6h18.4m-9.2-9.2v18.4M1309.1 882.6h18.4m-9.2-9.2v18.4M1305.9 853.3h18.4m-9.2-9.2v18.4M1402.9 800.9h18.4m-9.2-9.2v18.4M1461.4 773.8h18.4m-9.2-9.2v18.4M1253.3 903.8h18.4m-9.2-9.2v18.4M1340.9 833.9h18.4m-9.2-9.2v18.4M1393.9 816.6h18.4m-9.2-9.2v18.4M1307.5 857.1h18.4m-9.2-9.2v18.4M1258.5 889.2h18.4m-9.2-9.2v18.4M1466.7 756.4h18.4m-9.2-9.2v18.4M1297.7 867.2h18.4m-9.2-9.2v18.4M1396.0 810.9h18.4m-9.2-9.2v18.4M1436.2 780.0h18.4m-9.2-9.2v18.4M1396.0 815.8h18.4m-9.2-9.2v18.4M1444.6 803.1h18.4m-9.2-9.2v18.4M1252.7 898.0h18.4m-9.2-9.2v18.4M1274.7 900.8h18.4m-9.2-9.2v18.4M1326.4 833.2h18.4m-9.2-9.2v18.4M1344.4 814.4h18.4m-9.2-9.2v18.4M1332.1 864.7h18.4m-9.2-9.2v18.4M1233.3 906.5h18.4m-9.2-9.2v18.4M1363.5 829.9h18.4m-9.2-9.2v18.4M1376.8 832.2h18.4m-9.2-9.2v18.4M1336.5 820.2h18.4m-9.2-9.2v18.4M1360.7 827.3h18.4m-9.2-9.2v18.4M1315.8 839.7h18.4m-9.2-9.2v18.4M1298.4 886.1h18.4m-9.2-9.2v18.4M1335.3 837.3h18.4m-9.2-9.2v18.4M1279.5 920.1h18.4m-9.2-9.2v18.4M1415.3 819.2h18.4m-9.2-9.2v18.4M1309.8 867.9h18.4m-9.2-9.2v18.4M1300.9 899.2h18.4m-9.2-9.2v18.4M1396.7 814.0h18.4m-9.2-9.2v18.4M1293.0 866.5h18.4m-9.2-9.2v18.4M1321.0 827.1h18.4m-9.2-9.2v18.4M1380.3 809.5h18.4m-9.2-9.2v18.4M1377.4 831.2h18.4m-9.2-9.2v18.4M1455.1 785.4h18.4m-9.2-9.2v18.4M1383.6 810.5h18.4m-9.2-9.2v18.4M1463.8 756.1h18.4m-9.2-9.2v18.4M1350.1 837.6h18.4m-9.2-9.2v18.4M1281.2 882.6h18.4m-9.2-9.2v18.4M1384.8 842.5h18.4m-9.2-9.2v18.4M1433.4 814.5h18.4m-9.2-9.2v18.4M1421.6 814.5h18.4m-9.2-9.2v18.4M1332.4 857.1h18.4m-9.2-9.2v18.4M1302.9 853.5h18.4m-9.2-9.2v18.4M1458.5 761.2h18.4m-9.2-9.2v18.4M1336.1 852.3h18.4m-9.2-9.2v18.4M1264.0 877.0h18.4m-9.2-9.2v18.4M1327.6 832.9h18.4m-9.2-9.2v18.4M1253.4 900.3h18.4m-9.2-9.2v18.4M1268.7 888.5h18.4m-9.2-9.2v18.4M1295.8 864.9h18.4m-9.2-9.2v18.4M1433.2 781.3h18.4m-9.2-9.2v18.4M1373.4 844.5h18.4m-9.2-9.2v18.4M1429.2 805.1h18.4m-9.2-9.2v18.4M1343.3 847.6h18.4m-9.2-9.2v18.4M1287.0 915.6h18.4m-9.2-9.2v18.4M1277.6 900.5h18.4m-9.2-9.2v18.4M1365.6 832.6h18.4m-9.2-9.2v18.4M1304.8 883.7h18.4m-9.2-9.2v18.4M1269.7 889.9h18.4m-9.2-9.2v18.4M1259.6 901.6h18.4m-9.2-9.2v18.4M1455.4 783.4h18.4m-9.2-9.2v18.4M1367.6 839.7h18.4m-9.2-9.2v18.4M1288.2 883.6h18.4m-9.2-9.2v18.4M1336.0 864.0h18.4m-9.2-9.2v18.4M1380.9 853.9h18.4m-9.2-9.2v18.4M1395.8 826.3h18.4m-9.2-9.2v18.4M1322.3 842.0h18.4m-9.2-9.2v18.4M1291.8 906.0h18.4m-9.2-9.2v18.4M1337.3 852.3h18.4m-9.2-9.2v18.4M1391.6 823.0h18.4m-9.2-9.2v18.4M1365.6 817.4h18.4m-9.2-9.2v18.4M1288.4 881.0h18.4m-9.2-9.2v18.4M1283.1 884.6h18.4m-9.2-9.2v18.4M1317.4 850.7h18.4m-9.2-9.2v18.4M1291.5 901.0h18.4m-9.2-9.2v18.4M1451.9 791.8h18.4m-9.2-9.2v18.4M1304.4 878.3h18.4m-9.2-9.2v18.4M1305.9 856.5h18.4m-9.2-9.2v18.4M1313.4 839.2h18.4m-9.2-9.2v18.4M1306.7 857.8h18.4m-9.2-9.2v18.4M1381.3 826.7h18.4m-9.2-9.2v18.4M1275.7 885.8h18.4m-9.2-9.2v18.4M1325.9 821.8h18.4m-9.2-9.2v18.4M1253.9 897.6h18.4m-9.2-9.2v18.4M1380.3 852.4h18.4m-9.2-9.2v18.4M1307.7 882.6h18.4m-9.2-9.2v18.4M1234.4 903.7h18.4m-9.2-9.2v18.4M1286.1 866.4h18.4m-9.2-9.2v18.4M1456.0 792.1h18.4m-9.2-9.2v18.4M1272.7 903.0h18.4m-9.2-9.2v18.4M1305.5 850.4h18.4m-9.2-9.2v18.4M1398.9 818.1h18.4m-9.2-9.2v18.4M1440.8 778.5h18.4m-9.2-9.2v18.4M1413.4 817.7h18.4m-9.2-9.2v18.4M1362.6 822.4h18.4m-9.2-9.2v18.4M1343.1 815.1h18.4m-9.2-9.2v18.4M1433.2 816.5h18.4m-9.2-9.2v18.4M1428.7 817.4h18.4m-9.2-9.2v18.4M1439.3 812.1h18.4m-9.2-9.2v18.4M1553.4 750.8h18.4m-9.2-9.2v18.4M1428.6 789.4h18.4m-9.2-9.2v18.4M1458.7 763.8h18.4m-9.2-9.2v18.4M1448.5 756.2h18.4m-9.2-9.2v18.4M1470.0 782.7h18.4m-9.2-9.2v18.4M1494.0 775.4h18.4m-9.2-9.2v18.4M1560.9 757.1h18.4m-9.2-9.2v18.4M1427.5 811.9h18.4m-9.2-9.2v18.4M1490.1 774.8h18.4m-9.2-9.2v18.4M1423.5 794.2h18.4m-9.2-9.2v18.4M1444.4 752.3h18.4m-9.2-9.2v18.4M1467.5 789.1h18.4m-9.2-9.2v18.4M1424.1 782.9h18.4m-9.2-9.2v18.4M1515.4 750.5h18.4m-9.2-9.2v18.4M1529.1 760.7h18.4m-9.2-9.2v18.4M1438.5 760.6h18.4m-9.2-9.2v18.4M1460.3 761.7h18.4m-9.2-9.2v18.4M1477.7 760.5h18.4m-9.2-9.2v18.4M1532.5 751.4h18.4m-9.2-9.2v18.4M1525.4 753.9h18.4m-9.2-9.2v18.4M1434.4 806.4h18.4m-9.2-9.2v18.4M1425.6 825.1h18.4m-9.2-9.2v18.4M1525.9 750.1h18.4m-9.2-9.2v18.4M1554.4 753.2h18.4m-9.2-9.2v18.4M1509.1 760.7h18.4m-9.2-9.2v18.4M1485.8 761.2h18.4m-9.2-9.2v18.4M1436.8 753.9h18.4m-9.2-9.2v18.4M1454.2 761.9h18.4m-9.2-9.2v18.4M1456.9 752.0h18.4m-9.2-9.2v18.4M1431.8 818.4h18.4m-9.2-9.2v18.4M1428.6 783.0h18.4m-9.2-9.2v18.4M1421.2 804.1h18.4m-9.2-9.2v18.4M1451.7 754.0h18.4m-9.2-9.2v18.4M1524.8 770.2h18.4m-9.2-9.2v18.4M1479.0 764.6h18.4m-9.2-9.2v18.4M1465.2 764.6h18.4m-9.2-9.2v18.4M1514.2 772.7h18.4m-9.2-9.2v18.4M1525.4 758.7h18.4m-9.2-9.2v18.4M1427.6 755.9h18.4m-9.2-9.2v18.4M1446.8 777.6h18.4m-9.2-9.2v18.4M1424.4 827.6h18.4m-9.2-9.2v18.4M1473.6 764.4h18.4m-9.2-9.2v18.4M1423.0 795.3h18.4m-9.2-9.2v18.4M1424.9 770.0h18.4m-9.2-9.2v18.4M1504.8 774.1h18.4m-9.2-9.2v18.4M1467.7 761.1h18.4m-9.2-9.2v18.4M1436.8 785.6h18.4m-9.2-9.2v18.4M1525.3 766.3h18.4m-9.2-9.2v18.4M1517.6 758.9h18.4m-9.2-9.2v18.4M1453.0 777.5h18.4m-9.2-9.2v18.4M1422.3 775.1h18.4m-9.2-9.2v18.4M1508.7 770.7h18.4m-9.2-9.2v18.4M1563.0 752.8h18.4m-9.2-9.2v18.4M1425.4 755.7h18.4m-9.2-9.2v18.4M1432.9 815.8h18.4m-9.2-9.2v18.4M1453.6 784.1h18.4m-9.2-9.2v18.4M1508.2 751.9h18.4m-9.2-9.2v18.4M1501.7 768.3h18.4m-9.2-9.2v18.4M1554.3 755.4h18.4m-9.2-9.2v18.4M1434.8 775.5h18.4m-9.2-9.2v18.4M1427.5 752.0h18.4m-9.2-9.2v18.4M1466.5 777.7h18.4m-9.2-9.2v18.4M1477.7 766.8h18.4m-9.2-9.2v18.4M1510.4 772.0h18.4m-9.2-9.2v18.4M1422.2 777.6h18.4m-9.2-9.2v18.4M1437.8 750.2h18.4m-9.2-9.2v18.4M1525.6 759.8h18.4m-9.2-9.2v18.4M1425.0 774.4h18.4m-9.2-9.2v18.4M1449.2 772.3h18.4m-9.2-9.2v18.4M1492.0 754.3h18.4m-9.2-9.2v18.4M1438.5 788.4h18.4m-9.2-9.2v18.4M1528.1 772.0h18.4m-9.2-9.2v18.4M1425.8 796.2h18.4m-9.2-9.2v18.4M1424.1 766.4h18.4m-9.2-9.2v18.4M1510.8 770.1h18.4m-9.2-9.2v18.4M1515.6 760.4h18.4m-9.2-9.2v18.4M1479.4 760.8h18.4m-9.2-9.2v18.4M1459.8 769.2h18.4m-9.2-9.2v18.4M1498.5 760.6h18.4m-9.2-9.2v18.4M1538.0 753.3h18.4m-9.2-9.2v18.4M1530.5 760.8h18.4m-9.2-9.2v18.4M1477.8 771.2h18.4m-9.2-9.2v18.4M1431.6 818.3h18.4m-9.2-9.2v18.4M1431.4 819.0h18.4m-9.2-9.2v18.4M1423.5 761.7h18.4m-9.2-9.2v18.4M1494.0 762.0h18.4m-9.2-9.2v18.4M1476.9 784.3h18.4m-9.2-9.2v18.4M1434.1 786.1h18.4m-9.2-9.2v18.4M1538.6 764.9h18.4m-9.2-9.2v18.4M1446.9 772.1h18.4m-9.2-9.2v18.4M1476.1 752.0h18.4m-9.2-9.2v18.4M1512.9 770.7h18.4m-9.2-9.2v18.4M1521.2 756.7h18.4m-9.2-9.2v18.4M1476.5 750.4h18.4m-9.2-9.2v18.4M1438.5 757.3h18.4m-9.2-9.2v18.4M1543.1 764.1h18.4m-9.2-9.2v18.4M1553.9 750.5h18.4m-9.2-9.2v18.4M1446.1 766.5h18.4m-9.2-9.2v18.4M1557.9 756.6h18.4m-9.2-9.2v18.4M1497.8 760.1h18.4m-9.2-9.2v18.4M1427.7 776.1h18.4m-9.2-9.2v18.4M1523.3 770.2h18.4m-9.2-9.2v18.4M1554.4 758.3h18.4m-9.2-9.2v18.4M1435.6 753.2h18.4m-9.2-9.2v18.4M1473.2 770.8h18.4m-9.2-9.2v18.4M1523.7 779.1h18.4m-9.2-9.2v18.4M1480.2 772.1h18.4m-9.2-9.2v18.4M1689.3 683.7h18.4m-9.2-9.2v18.4M1479.7 785.2h18.4m-9.2-9.2v18.4M1766.4 643.2h18.4m-9.2-9.2v18.4M1855.1 602.0h18.4m-9.2-9.2v18.4M1479.3 731.5h18.4m-9.2-9.2v18.4M1569.5 721.5h18.4m-9.2-9.2v18.4M2005.8 594.1h18.4m-9.2-9.2v18.4M1970.2 601.2h18.4m-9.2-9.2v18.4M1670.7 691.8h18.4m-9.2-9.2v18.4M1830.3 618.2h18.4m-9.2-9.2v18.4M1482.9 757.2h18.4m-9.2-9.2v18.4M1845.9 589.7h18.4m-9.2-9.2v18.4M1919.2 585.9h18.4m-9.2-9.2v18.4M1853.2 608.5h18.4m-9.2-9.2v18.4M1542.1 716.3h18.4m-9.2-9.2v18.4M1705.6 668.0h18.4m-9.2-9.2v18.4M1853.3 593.7h18.4m-9.2-9.2v18.4M1871.0 589.5h18.4m-9.2-9.2v18.4M1502.5 737.2h18.4m-9.2-9.2v18.4M1965.1 599.3h18.4m-9.2-9.2v18.4M1690.7 683.0h18.4m-9.2-9.2v18.4M1479.1 752.7h18.4m-9.2-9.2v18.4M1980.2 573.7h18.4m-9.2-9.2v18.4M1593.0 691.7h18.4m-9.2-9.2v18.4M1685.2 659.5h18.4m-9.2-9.2v18.4M1646.8 653.5h18.4m-9.2-9.2v18.4M1598.4 717.1h18.4m-9.2-9.2v18.4M1834.1 623.4h18.4m-9.2-9.2v18.4M1771.1 629.1h18.4m-9.2-9.2v18.4M1431.5 784.1h18.4m-9.2-9.2v18.4M1908.6 593.9h18.4m-9.2-9.2v18.4M1868.8 587.7h18.4m-9.2-9.2v18.4M1974.5 592.9h18.4m-9.2-9.2v18.4M1736.3 650.1h18.4m-9.2-9.2v18.4M1629.1 664.4h18.4m-9.2-9.2v18.4M1513.5 755.4h18.4m-9.2-9.2v18.4M1678.9 669.8h18.4m-9.2-9.2v18.4M2015.3 592.3h18.4m-9.2-9.2v18.4M1965.9 580.1h18.4m-9.2-9.2v18.4M1482.2 761.2h18.4m-9.2-9.2v18.4M1681.7 681.4h18.4m-9.2-9.2v18.4M1944.7 574.0h18.4m-9.2-9.2v18.4M2028.3 554.1h18.4m-9.2-9.2v18.4M1881.0 591.0h18.4m-9.2-9.2v18.4M1829.2 628.3h18.4m-9.2-9.2v18.4M1631.0 675.6h18.4m-9.2-9.2v18.4M1912.1 601.7h18.4m-9.2-9.2v18.4M1650.7 688.5h18.4m-9.2-9.2v18.4M1691.8 647.1h18.4m-9.2-9.2v18.4M1717.4 643.9h18.4m-9.2-9.2v18.4M2028.0 564.0h18.4m-9.2-9.2v18.4M1566.4 723.5h18.4m-9.2-9.2v18.4M1601.6 710.8h18.4m-9.2-9.2v18.4M1949.3 570.9h18.4m-9.2-9.2v18.4M1810.4 627.3h18.4m-9.2-9.2v18.4M1642.4 668.0h18.4m-9.2-9.2v18.4M1918.4 594.2h18.4m-9.2-9.2v18.4M1814.5 632.4h18.4m-9.2-9.2v18.4M1948.0 596.2h18.4m-9.2-9.2v18.4M1890.6 581.9h18.4m-9.2-9.2v18.4M1493.8 762.8h18.4m-9.2-9.2v18.4M1547.8 707.4h18.4m-9.2-9.2v18.4M1996.9 598.4h18.4m-9.2-9.2v18.4M1611.6 697.4h18.4m-9.2-9.2v18.4M1821.4 625.2h18.4m-9.2-9.2v18.4M1575.6 707.5h18.4m-9.2-9.2v18.4M1803.0 635.6h18.4m-9.2-9.2v18.4M2004.9 567.6h18.4m-9.2-9.2v18.4M1531.8 722.3h18.4m-9.2-9.2v18.4M1688.2 685.0h18.4m-9.2-9.2v18.4M1704.5 651.6h18.4m-9.2-9.2v18.4M1842.8 589.7h18.4m-9.2-9.2v18.4M1663.1 664.8h18.4m-9.2-9.2v18.4M1556.6 701.7h18.4m-9.2-9.2v18.4M1922.0 589.0h18.4m-9.2-9.2v18.4M1491.7 741.8h18.4m-9.2-9.2v18.4M1724.6 659.2h18.4m-9.2-9.2v18.4M1796.4 622.1h18.4m-9.2-9.2v18.4M1500.9 774.0h18.4m-9.2-9.2v18.4M1564.0 704.4h18.4m-9.2-9.2v18.4M1714.1 669.2h18.4m-9.2-9.2v18.4M1922.5 585.8h18.4m-9.2-9.2v18.4M1430.2 769.6h18.4m-9.2-9.2v18.4M1497.7 719.9h18.4m-9.2-9.2v18.4M1646.3 683.0h18.4m-9.2-9.2v18.4M1968.4 565.0h18.4m-9.2-9.2v18.4M1967.5 596.3h18.4m-9.2-9.2v18.4M1634.4 668.2h18.4m-9.2-9.2v18.4M2005.2 584.9h18.4m-9.2-9.2v18.4M1735.4 634.4h18.4m-9.2-9.2v18.4M1816.0 612.8h18.4m-9.2-9.2v18.4M1952.6 557.1h18.4m-9.2-9.2v18.4M1964.8 593.0h18.4m-9.2-9.2v18.4M1490.7 778.3h18.4m-9.2-9.2v18.4M1937.6 575.9h18.4m-9.2-9.2v18.4M1464.9 761.3h18.4m-9.2-9.2v18.4M1877.5 585.1h18.4m-9.2-9.2v18.4M1882.2 585.3h18.4m-9.2-9.2v18.4M1594.1 729.8h18.4m-9.2-9.2v18.4M1568.7 744.9h18.4m-9.2-9.2v18.4M1786.2 642.4h18.4m-9.2-9.2v18.4M1575.5 743.8h18.4m-9.2-9.2v18.4M1969.9 592.3h18.4m-9.2-9.2v18.4M1991.6 594.1h18.4m-9.2-9.2v18.4M1978.3 566.7h18.4m-9.2-9.2v18.4M1998.4 573.9h18.4m-9.2-9.2v18.4M1694.7 682.0h18.4m-9.2-9.2v18.4M1669.8 691.5h18.4m-9.2-9.2v18.4M1559.8 707.2h18.4m-9.2-9.2v18.4M1636.2 664.2h18.4m-9.2-9.2v18.4M1786.1 626.7h18.4m-9.2-9.2v18.4M1903.6 579.7h18.4m-9.2-9.2v18.4M1912.2 579.0h18.4m-9.2-9.2v18.4M1799.0 639.1h18.4m-9.2-9.2v18.4M1460.6 771.7h18.4m-9.2-9.2v18.4M2026.8 567.4h18.4m-9.2-9.2v18.4M1975.2 579.7h18.4m-9.2-9.2v18.4M1475.4 789.4h18.4m-9.2-9.2v18.4M1970.3 577.9h18.4m-9.2-9.2v18.4M1445.5 769.4h18.4m-9.2-9.2v18.4M1987.5 569.2h18.4m-9.2-9.2v18.4M1833.1 600.2h18.4m-9.2-9.2v18.4M1571.0 742.7h18.4m-9.2-9.2v18.4M1563.3 708.9h18.4m-9.2-9.2v18.4M2022.1 580.2h18.4m-9.2-9.2v18.4M1496.5 717.9h18.4m-9.2-9.2v18.4M1616.7 704.5h18.4m-9.2-9.2v18.4M1651.3 707.1h18.4m-9.2-9.2v18.4M1787.1 628.5h18.4m-9.2-9.2v18.4M1519.0 781.7h18.4m-9.2-9.2v18.4M1625.9 719.6h18.4m-9.2-9.2v18.4M1972.1 597.8h18.4m-9.2-9.2v18.4M1915.6 571.1h18.4m-9.2-9.2v18.4M1548.0 753.2h18.4m-9.2-9.2v18.4M1563.5 710.6h18.4m-9.2-9.2v18.4M1646.8 698.3h18.4m-9.2-9.2v18.4M1975.4 550.4h18.4m-9.2-9.2v18.4M1521.0 753.0h18.4m-9.2-9.2v18.4M1459.5 783.3h18.4m-9.2-9.2v18.4M1791.7 640.4h18.4m-9.2-9.2v18.4M1797.7 610.7h18.4m-9.2-9.2v18.4M1536.1 728.5h18.4m-9.2-9.2v18.4M1478.4 769.9h18.4m-9.2-9.2v18.4M1465.3 763.2h18.4m-9.2-9.2v18.4M1635.4 716.6h18.4m-9.2-9.2v18.4M2005.6 586.4h18.4m-9.2-9.2v18.4M1671.1 700.6h18.4m-9.2-9.2v18.4M1440.0 760.8h18.4m-9.2-9.2v18.4M1552.3 703.1h18.4m-9.2-9.2v18.4M1781.8 630.8h18.4m-9.2-9.2v18.4M1514.2 734.9h18.4m-9.2-9.2v18.4M1696.1 666.7h18.4m-9.2-9.2v18.4M2033.6 552.2h18.4m-9.2-9.2v18.4M1664.2 668.6h18.4m-9.2-9.2v18.4M1979.4 578.3h18.4m-9.2-9.2v18.4M1642.8 673.0h18.4m-9.2-9.2v18.4M1527.4 744.0h18.4m-9.2-9.2v18.4M1640.3 673.6h18.4m-9.2-9.2v18.4M1983.7 564.3h18.4m-9.2-9.2v18.4M1856.9 593.9h18.4m-9.2-9.2v18.4M1597.4 709.0h18.4m-9.2-9.2v18.4M1495.7 746.0h18.4m-9.2-9.2v18.4M2012.0 534.8h18.4m-9.2-9.2v18.4M1957.4 566.2h18.4m-9.2-9.2v18.4M1830.4 615.4h18.4m-9.2-9.2v18.4M1469.7 775.2h18.4m-9.2-9.2v18.4M1632.1 709.6h18.4m-9.2-9.2v18.4M1434.3 759.5h18.4m-9.2-9.2v18.4M1712.0 671.9h18.4m-9.2-9.2v18.4M1544.0 753.8h18.4m-9.2-9.2v18.4M1445.8 760.6h18.4m-9.2-9.2v18.4M2023.5 564.4h18.4m-9.2-9.2v18.4M1805.2 621.1h18.4m-9.2-9.2v18.4M1531.5 749.1h18.4m-9.2-9.2v18.4M1571.7 726.1h18.4m-9.2-9.2v18.4M1890.9 580.8h18.4m-9.2-9.2v18.4M1999.0 584.0h18.4m-9.2-9.2v18.4M1736.8 656.9h18.4m-9.2-9.2v18.4M1515.5 717.5h18.4m-9.2-9.2v18.4M1520.4 758.9h18.4m-9.2-9.2v18.4M1641.3 702.6h18.4m-9.2-9.2v18.4M1537.0 710.9h18.4m-9.2-9.2v18.4M1568.9 744.4h18.4m-9.2-9.2v18.4M2025.2 559.4h18.4m-9.2-9.2v18.4M1561.1 723.1h18.4m-9.2-9.2v18.4M1946.8 568.0h18.4m-9.2-9.2v18.4M1586.8 730.5h18.4m-9.2-9.2v18.4M1998.7 576.1h18.4m-9.2-9.2v18.4M1980.4 602.2h18.4m-9.2-9.2v18.4M1544.9 722.7h18.4m-9.2-9.2v18.4M1495.5 733.6h18.4m-9.2-9.2v18.4M1970.8 584.8h18.4m-9.2-9.2v18.4M1686.2 674.0h18.4m-9.2-9.2v18.4M1445.3 761.2h18.4m-9.2-9.2v18.4M1576.9 714.8h18.4m-9.2-9.2v18.4M1684.9 652.0h18.4m-9.2-9.2v18.4M1884.1 610.0h18.4m-9.2-9.2v18.4M1572.6 705.8h18.4m-9.2-9.2v18.4M1658.6 705.3h18.4m-9.2-9.2v18.4M1944.2 568.9h18.4m-9.2-9.2v18.4M1925.0 575.7h18.4m-9.2-9.2v18.4M1987.9 578.3h18.4m-9.2-9.2v18.4M1900.0 600.7h18.4m-9.2-9.2v18.4M1524.5 736.5h18.4m-9.2-9.2v18.4M1458.8 766.5h18.4m-9.2-9.2v18.4M1973.8 594.9h18.4m-9.2-9.2v18.4M1643.7 704.8h18.4m-9.2-9.2v18.4M1586.7 719.8h18.4m-9.2-9.2v18.4M1765.1 643.4h18.4m-9.2-9.2v18.4M1466.4 757.3h18.4m-9.2-9.2v18.4M1840.2 604.8h18.4m-9.2-9.2v18.4M1890.8 581.5h18.4m-9.2-9.2v18.4M1575.4 721.0h18.4m-9.2-9.2v18.4M1715.7 659.0h18.4m-9.2-9.2v18.4M1853.5 587.7h18.4m-9.2-9.2v18.4M1801.8 618.2h18.4m-9.2-9.2v18.4M1920.7 575.0h18.4m-9.2-9.2v18.4M1531.8 725.8h18.4m-9.2-9.2v18.4M1536.5 723.1h18.4m-9.2-9.2v18.4M1763.5 629.2h18.4m-9.2-9.2v18.4M1495.6 734.7h18.4m-9.2-9.2v18.4M1664.9 683.1h18.4m-9.2-9.2v18.4M1937.0 592.5h18.4m-9.2-9.2v18.4M1460.4 763.7h18.4m-9.2-9.2v18.4M1504.5 757.2h18.4m-9.2-9.2v18.4M1655.9 686.0h18.4m-9.2-9.2v18.4M1850.6 594.5h18.4m-9.2-9.2v18.4M1953.0 575.4h18.4m-9.2-9.2v18.4M1983.7 554.3h18.4m-9.2-9.2v18.4M2016.1 549.0h18.4m-9.2-9.2v18.4M1998.9 577.5h18.4m-9.2-9.2v18.4M2001.1 549.1h18.4m-9.2-9.2v18.4M1510.1 764.7h18.4m-9.2-9.2v18.4M1592.8 723.6h18.4m-9.2-9.2v18.4M1681.2 662.8h18.4m-9.2-9.2v18.4M1700.0 673.1h18.4m-9.2-9.2v18.4M1902.8 576.5h18.4m-9.2-9.2v18.4M1919.5 589.2h18.4m-9.2-9.2v18.4M1897.5 576.7h18.4m-9.2-9.2v18.4M1698.0 646.8h18.4m-9.2-9.2v18.4M1544.4 710.5h18.4m-9.2-9.2v18.4M2010.5 544.8h18.4m-9.2-9.2v18.4M2007.7 537.4h18.4m-9.2-9.2v18.4M1550.4 725.1h18.4m-9.2-9.2v18.4M1521.0 765.0h18.4m-9.2-9.2v18.4M1460.1 781.7h18.4m-9.2-9.2v18.4M1833.1 595.7h18.4m-9.2-9.2v18.4M1945.2 572.2h18.4m-9.2-9.2v18.4M1535.5 756.5h18.4m-9.2-9.2v18.4M1668.1 688.5h18.4m-9.2-9.2v18.4M1651.7 703.3h18.4m-9.2-9.2v18.4M1884.7 576.0h18.4m-9.2-9.2v18.4M2018.9 541.0h18.4m-9.2-9.2v18.4M1951.4 566.2h18.4m-9.2-9.2v18.4M1655.8 677.4h18.4m-9.2-9.2v18.4M1996.1 553.3h18.4m-9.2-9.2v18.4M1557.0 749.8h18.4m-9.2-9.2v18.4M1704.8 645.8h18.4m-9.2-9.2v18.4M1648.9 722.4h18.4m-9.2-9.2v18.4M1608.4 712.2h18.4m-9.2-9.2v18.4M1939.8 589.5h18.4m-9.2-9.2v18.4M1517.2 755.6h18.4m-9.2-9.2v18.4M1817.0 600.1h18.4m-9.2-9.2v18.4M1892.6 596.3h18.4m-9.2-9.2v18.4M1493.4 735.4h18.4m-9.2-9.2v18.4M1710.8 653.4h18.4m-9.2-9.2v18.4M1925.4 577.9h18.4m-9.2-9.2v18.4M1856.0 599.0h18.4m-9.2-9.2v18.4M1497.8 762.0h18.4m-9.2-9.2v18.4M1605.6 681.5h18.4m-9.2-9.2v18.4M1655.8 655.9h18.4m-9.2-9.2v18.4M1771.7 634.0h18.4m-9.2-9.2v18.4M1898.1 572.1h18.4m-9.2-9.2v18.4M1836.5 594.2h18.4m-9.2-9.2v18.4M1997.9 582.0h18.4m-9.2-9.2v18.4M1528.3 730.7h18.4m-9.2-9.2v18.4M1564.1 735.5h18.4m-9.2-9.2v18.4M1634.7 706.8h18.4m-9.2-9.2v18.4M1644.2 722.2h18.4m-9.2-9.2v18.4M1676.6 671.9h18.4m-9.2-9.2v18.4M1854.9 604.4h18.4m-9.2-9.2v18.4M1496.4 736.1h18.4m-9.2-9.2v18.4M1608.5 709.1h18.4m-9.2-9.2v18.4M1525.3 747.1h18.4m-9.2-9.2v18.4M1942.3 561.9h18.4m-9.2-9.2v18.4M1925.7 592.9h18.4m-9.2-9.2v18.4M1662.7 650.6h18.4m-9.2-9.2v18.4M1782.6 630.2h18.4m-9.2-9.2v18.4M2034.2 538.7h18.4m-9.2-9.2v18.4M1959.2 594.5h18.4m-9.2-9.2v18.4M1468.2 760.5h18.4m-9.2-9.2v18.4M1845.6 603.2h18.4m-9.2-9.2v18.4M1660.3 666.6h18.4m-9.2-9.2v18.4M1850.0 600.4h18.4m-9.2-9.2v18.4M1656.9 714.4h18.4m-9.2-9.2v18.4M1924.0 594.9h18.4m-9.2-9.2v18.4M1979.8 584.4h18.4m-9.2-9.2v18.4M1858.0 602.3h18.4m-9.2-9.2v18.4M1565.7 726.3h18.4m-9.2-9.2v18.4M1959.5 564.6h18.4m-9.2-9.2v18.4M1918.8 566.2h18.4m-9.2-9.2v18.4M1581.6 743.2h18.4m-9.2-9.2v18.4M1607.5 682.3h18.4m-9.2-9.2v18.4M1773.5 626.3h18.4m-9.2-9.2v18.4M1517.1 786.1h18.4m-9.2-9.2v18.4M1813.2 605.4h18.4m-9.2-9.2v18.4M1587.5 704.9h18.4m-9.2-9.2v18.4M1502.3 722.6h18.4m-9.2-9.2v18.4M1970.7 583.7h18.4m-9.2-9.2v18.4M1999.9 550.2h18.4m-9.2-9.2v18.4M1889.4 597.8h18.4m-9.2-9.2v18.4M1987.9 540.9h18.4m-9.2-9.2v18.4M1661.6 697.3h18.4m-9.2-9.2v18.4M1677.0 692.4h18.4m-9.2-9.2v18.4M1530.7 751.3h18.4m-9.2-9.2v18.4M1547.6 726.1h18.4m-9.2-9.2v18.4M1586.9 736.7h18.4m-9.2-9.2v18.4M1932.7 598.7h18.4m-9.2-9.2v18.4M1936.4 561.3h18.4m-9.2-9.2v18.4M1838.3 608.4h18.4m-9.2-9.2v18.4M1905.0 593.6h18.4m-9.2-9.2v18.4M1680.0 665.1h18.4m-9.2-9.2v18.4M1675.8 661.0h18.4m-9.2-9.2v18.4M1859.5 588.3h18.4m-9.2-9.2v18.4M1661.6 703.2h18.4m-9.2-9.2v18.4M1495.2 768.1h18.4m-9.2-9.2v18.4M1994.4 554.7h18.4m-9.2-9.2v18.4M1964.2 557.8h18.4m-9.2-9.2v18.4M1679.0 685.6h18.4m-9.2-9.2v18.4M1632.1 716.6h18.4m-9.2-9.2v18.4M2000.3 547.2h18.4m-9.2-9.2v18.4M1634.2 664.8h18.4m-9.2-9.2v18.4M1504.4 758.4h18.4m-9.2-9.2v18.4M1588.1 704.2h18.4m-9.2-9.2v18.4M1996.7 595.1h18.4m-9.2-9.2v18.4M1996.3 597.4h18.4m-9.2-9.2v18.4M1818.2 608.6h18.4m-9.2-9.2v18.4M1607.3 706.1h18.4m-9.2-9.2v18.4M1533.9 712.9h18.4m-9.2-9.2v18.4M1970.7 554.7h18.4m-9.2-9.2v18.4M1678.7 695.5h18.4m-9.2-9.2v18.4M1587.1 710.5h18.4m-9.2-9.2v18.4M1699.0 664.3h18.4m-9.2-9.2v18.4M1566.4 734.9h18.4m-9.2-9.2v18.4M1979.6 555.1h18.4m-9.2-9.2v18.4M2018.7 575.6h18.4m-9.2-9.2v18.4M1932.5 595.8h18.4m-9.2-9.2v18.4M1677.8 693.4h18.4m-9.2-9.2v18.4M1592.1 724.1h18.4m-9.2-9.2v18.4M1556.1 718.0h18.4m-9.2-9.2v18.4M1654.2 662.9h18.4m-9.2-9.2v18.4M1512.7 765.6h18.4m-9.2-9.2v18.4M1941.9 593.3h18.4m-9.2-9.2v18.4M1539.6 727.8h18.4m-9.2-9.2v18.4M1771.0 635.2h18.4m-9.2-9.2v18.4M1612.7 697.8h18.4m-9.2-9.2v18.4M1721.4 664.6h18.4m-9.2-9.2v18.4M1637.9 724.4h18.4m-9.2-9.2v18.4M1836.9 620.8h18.4m-9.2-9.2v18.4M1929.5 586.0h18.4m-9.2-9.2v18.4M1543.3 743.4h18.4m-9.2-9.2v18.4M1717.9 665.4h18.4m-9.2-9.2v18.4M1464.9 746.3h18.4m-9.2-9.2v18.4M1991.0 575.1h18.4m-9.2-9.2v18.4M1534.3 707.5h18.4m-9.2-9.2v18.4M1502.8 720.1h18.4m-9.2-9.2v18.4M1801.4 607.4h18.4m-9.2-9.2v18.4M1970.4 601.2h18.4m-9.2-9.2v18.4M2003.3 591.3h18.4m-9.2-9.2v18.4M1448.9 767.1h18.4m-9.2-9.2v18.4M1919.0 599.1h18.4m-9.2-9.2v18.4M1698.0 670.5h18.4m-9.2-9.2v18.4M1627.4 720.0h18.4m-9.2-9.2v18.4M1858.6 592.5h18.4m-9.2-9.2v18.4M1869.2 601.5h18.4m-9.2-9.2v18.4M1989.5 585.6h18.4m-9.2-9.2v18.4M1894.3 585.1h18.4m-9.2-9.2v18.4M1505.9 752.1h18.4m-9.2-9.2v18.4M1971.4 581.5h18.4m-9.2-9.2v18.4M1741.5 635.8h18.4m-9.2-9.2v18.4M1913.3 571.0h18.4m-9.2-9.2v18.4M1841.5 604.5h18.4m-9.2-9.2v18.4M1815.7 622.8h18.4m-9.2-9.2v18.4M1773.5 619.6h18.4m-9.2-9.2v18.4M1619.3 710.9h18.4m-9.2-9.2v18.4M1520.0 768.3h18.4m-9.2-9.2v18.4M1439.2 781.1h18.4m-9.2-9.2v18.4M1684.3 654.6h18.4m-9.2-9.2v18.4M1739.3 647.6h18.4m-9.2-9.2v18.4M1976.3 579.3h18.4m-9.2-9.2v18.4M1870.3 597.0h18.4m-9.2-9.2v18.4M1539.5 752.9h18.4m-9.2-9.2v18.4M1891.8 594.8h18.4m-9.2-9.2v18.4M1973.8 570.2h18.4m-9.2-9.2v18.4M1667.5 651.2h18.4m-9.2-9.2v18.4M1644.8 708.7h18.4m-9.2-9.2v18.4M1487.8 777.2h18.4m-9.2-9.2v18.4M1947.0 586.2h18.4m-9.2-9.2v18.4M2028.8 533.0h18.4m-9.2-9.2v18.4M1480.0 742.7h18.4m-9.2-9.2v18.4M2008.1 552.9h18.4m-9.2-9.2v18.4M1604.7 690.4h18.4m-9.2-9.2v18.4M1865.2 580.9h18.4m-9.2-9.2v18.4M1940.9 588.8h18.4m-9.2-9.2v18.4M1482.6 756.8h18.4m-9.2-9.2v18.4M2022.2 534.5h18.4m-9.2-9.2v18.4M1881.0 606.3h18.4m-9.2-9.2v18.4M1624.2 682.8h18.4m-9.2-9.2v18.4M2024.4 533.3h18.4m-9.2-9.2v18.4M1859.4 610.7h18.4m-9.2-9.2v18.4M1969.2 561.0h18.4m-9.2-9.2v18.4M1805.8 633.5h18.4m-9.2-9.2v18.4M1625.4 715.4h18.4m-9.2-9.2v18.4M2004.3 590.8h18.4m-9.2-9.2v18.4M1711.0 658.1h18.4m-9.2-9.2v18.4M1634.4 719.6h18.4m-9.2-9.2v18.4M1507.1 713.8h18.4m-9.2-9.2v18.4M1501.3 722.6h18.4m-9.2-9.2v18.4M1916.4 575.7h18.4m-9.2-9.2v18.4M1623.2 705.1h18.4m-9.2-9.2v18.4M1586.2 715.8h18.4m-9.2-9.2v18.4M1641.6 656.2h18.4m-9.2-9.2v18.4M1836.4 616.8h18.4m-9.2-9.2v18.4M1996.1 567.3h18.4m-9.2-9.2v18.4M1658.9 675.3h18.4m-9.2-9.2v18.4M1893.2 585.0h18.4m-9.2-9.2v18.4M1690.0 651.5h18.4m-9.2-9.2v18.4M1440.4 769.6h18.4m-9.2-9.2v18.4M1710.7 673.5h18.4m-9.2-9.2v18.4M1823.8 629.5h18.4m-9.2-9.2v18.4M1715.9 658.9h18.4m-9.2-9.2v18.4M1893.4 585.2h18.4m-9.2-9.2v18.4M1803.5 628.4h18.4m-9.2-9.2v18.4M1643.1 670.8h18.4m-9.2-9.2v18.4M1534.2 729.0h18.4m-9.2-9.2v18.4M1508.9 771.3h18.4m-9.2-9.2v18.4M1883.0 596.9h18.4m-9.2-9.2v18.4M1557.0 742.8h18.4m-9.2-9.2v18.4M1946.3 560.3h18.4m-9.2-9.2v18.4M1596.2 688.0h18.4m-9.2-9.2v18.4M1491.3 777.4h18.4m-9.2-9.2v18.4M1909.3 585.9h18.4m-9.2-9.2v18.4M1925.8 602.0h18.4m-9.2-9.2v18.4M1989.4 541.5h18.4m-9.2-9.2v18.4M1679.0 690.9h18.4m-9.2-9.2v18.4M1595.3 709.4h18.4m-9.2-9.2v18.4M1835.6 621.9h18.4m-9.2-9.2v18.4M1528.9 719.0h18.4m-9.2-9.2v18.4M1662.5 699.9h18.4m-9.2-9.2v18.4M1529.2 711.1h18.4m-9.2-9.2v18.4M1685.8 674.5h18.4m-9.2-9.2v18.4M1741.8 634.1h18.4m-9.2-9.2v18.4M1727.2 663.0h18.4m-9.2-9.2v18.4M1518.2 754.2h18.4m-9.2-9.2v18.4M1484.7 734.4h18.4m-9.2-9.2v18.4M1943.2 577.4h18.4m-9.2-9.2v18.4M1599.4 718.9h18.4m-9.2-9.2v18.4M1609.6 692.3h18.4m-9.2-9.2v18.4M1498.2 757.5h18.4m-9.2-9.2v18.4M1514.4 758.8h18.4m-9.2-9.2v18.4M1945.4 570.5h18.4m-9.2-9.2v18.4M1492.9 762.4h18.4m-9.2-9.2v18.4M1574.2 721.2h18.4m-9.2-9.2v18.4M1670.9 661.7h18.4m-9.2-9.2v18.4M1522.6 711.8h18.4m-9.2-9.2v18.4M1447.3 764.2h18.4m-9.2-9.2v18.4M1738.3 654.5h18.4m-9.2-9.2v18.4M2001.4 572.3h18.4m-9.2-9.2v18.4M1572.7 718.0h18.4m-9.2-9.2v18.4M1595.3 725.0h18.4m-9.2-9.2v18.4M1824.5 616.8h18.4m-9.2-9.2v18.4M1572.6 714.3h18.4m-9.2-9.2v18.4M1949.3 570.3h18.4m-9.2-9.2v18.4M1630.2 713.7h18.4m-9.2-9.2v18.4M1554.3 736.7h18.4m-9.2-9.2v18.4M1999.4 577.0h18.4m-9.2-9.2v18.4M1483.7 773.9h18.4m-9.2-9.2v18.4M1744.5 650.4h18.4m-9.2-9.2v18.4M1883.3 577.3h18.4m-9.2-9.2v18.4M1478.6 778.1h18.4m-9.2-9.2v18.4M1655.0 680.5h18.4m-9.2-9.2v18.4M1578.5 727.9h18.4m-9.2-9.2v18.4M1586.5 698.6h18.4m-9.2-9.2v18.4M1456.9 777.9h18.4m-9.2-9.2v18.4M2021.0 571.4h18.4m-9.2-9.2v18.4M1936.6 573.2h18.4m-9.2-9.2v18.4M2000.6 586.1h18.4m-9.2-9.2v18.4M1771.2 642.8h18.4m-9.2-9.2v18.4M1718.5 653.4h18.4m-9.2-9.2v18.4M1908.0 592.0h18.4m-9.2-9.2v18.4M2029.5 530.7h18.4m-9.2-9.2v18.4M1482.7 767.8h18.4m-9.2-9.2v18.4M1903.3 575.9h18.4m-9.2-9.2v18.4M1595.2 714.3h18.4m-9.2-9.2v18.4M1458.8 787.0h18.4m-9.2-9.2v18.4M1809.3 617.3h18.4m-9.2-9.2v18.4M1740.6 633.5h18.4m-9.2-9.2v18.4M1433.0 757.9h18.4m-9.2-9.2v18.4M1961.7 565.1h18.4m-9.2-9.2v18.4M1506.3 746.8h18.4m-9.2-9.2v18.4M1907.3 576.3h18.4m-9.2-9.2v18.4M1467.7 787.1h18.4m-9.2-9.2v18.4M1687.8 645.3h18.4m-9.2-9.2v18.4M1607.2 681.6h18.4m-9.2-9.2v18.4M1840.1 614.8h18.4m-9.2-9.2v18.4M1824.0 618.9h18.4m-9.2-9.2v18.4M1612.5 717.1h18.4m-9.2-9.2v18.4M2019.5 557.7h18.4m-9.2-9.2v18.4M1972.1 570.6h18.4m-9.2-9.2v18.4M1568.5 747.9h18.4m-9.2-9.2v18.4M1953.6 585.8h18.4m-9.2-9.2v18.4M1711.8 649.5h18.4m-9.2-9.2v18.4M1996.7 567.1h18.4m-9.2-9.2v18.4M1893.2 601.3h18.4m-9.2-9.2v18.4M1773.1 622.3h18.4m-9.2-9.2v18.4M1874.3 585.4h18.4m-9.2-9.2v18.4M1447.5 773.7h18.4m-9.2-9.2v18.4M1492.5 749.9h18.4m-9.2-9.2v18.4M1981.7 591.0h18.4m-9.2-9.2v18.4M1524.7 710.2h18.4m-9.2-9.2v18.4M2022.3 536.0h18.4m-9.2-9.2v18.4M1526.1 745.8h18.4m-9.2-9.2v18.4M1673.9 658.5h18.4m-9.2-9.2v18.4M1467.6 762.1h18.4m-9.2-9.2v18.4M1894.3 606.1h18.4m-9.2-9.2v18.4M1565.6 718.8h18.4m-9.2-9.2v18.4M1458.7 746.7h18.4m-9.2-9.2v18.4M1529.0 745.0h18.4m-9.2-9.2v18.4M1460.3 781.3h18.4m-9.2-9.2v18.4M1619.2 704.5h18.4m-9.2-9.2v18.4M1990.2 542.5h18.4m-9.2-9.2v18.4M2001.8 546.8h18.4m-9.2-9.2v18.4M1627.7 703.0h18.4m-9.2-9.2v18.4M1523.5 774.6h18.4m-9.2-9.2v18.4M1611.9 705.1h18.4m-9.2-9.2v18.4M1890.1 574.9h18.4m-9.2-9.2v18.4M1531.1 762.4h18.4m-9.2-9.2v18.4M1834.9 602.8h18.4m-9.2-9.2v18.4M1978.9 554.0h18.4m-9.2-9.2v18.4M1520.8 742.1h18.4m-9.2-9.2v18.4M1968.3 574.0h18.4m-9.2-9.2v18.4M1951.9 584.4h18.4m-9.2-9.2v18.4M1968.6 598.9h18.4m-9.2-9.2v18.4M1964.9 560.6h18.4m-9.2-9.2v18.4M1526.3 771.3h18.4m-9.2-9.2v18.4M2014.7 565.7h18.4m-9.2-9.2v18.4M1995.0 582.7h18.4m-9.2-9.2v18.4M1580.0 720.5h18.4m-9.2-9.2v18.4M1918.3 602.0h18.4m-9.2-9.2v18.4M1847.6 594.6h18.4m-9.2-9.2v18.4M2009.2 553.7h18.4m-9.2-9.2v18.4M1672.0 658.1h18.4m-9.2-9.2v18.4M1631.1 701.8h18.4m-9.2-9.2v18.4M1502.8 717.1h18.4m-9.2-9.2v18.4M1545.0 745.9h18.4m-9.2-9.2v18.4M1775.5 640.7h18.4m-9.2-9.2v18.4M1990.6 582.8h18.4m-9.2-9.2v18.4M1863.7 601.9h18.4m-9.2-9.2v18.4M1880.1 590.6h18.4m-9.2-9.2v18.4M1483.7 769.7h18.4m-9.2-9.2v18.4M1698.3 679.6h18.4m-9.2-9.2v18.4M1495.4 721.1h18.4m-9.2-9.2v18.4M1463.3 783.3h18.4m-9.2-9.2v18.4M1752.1 642.6h18.4m-9.2-9.2v18.4M1822.7 601.0h18.4m-9.2-9.2v18.4M1503.9 761.2h18.4m-9.2-9.2v18.4M1447.9 773.6h18.4m-9.2-9.2v18.4M1802.7 608.4h18.4m-9.2-9.2v18.4M1842.7 612.6h18.4m-9.2-9.2v18.4M1453.4 784.0h18.4m-9.2-9.2v18.4M1767.2 625.1h18.4m-9.2-9.2v18.4M1654.7 699.7h18.4m-9.2-9.2v18.4M1830.6 603.8h18.4m-9.2-9.2v18.4M1934.9 575.8h18.4m-9.2-9.2v18.4M1544.5 729.0h18.4m-9.2-9.2v18.4M2023.6 551.5h18.4m-9.2-9.2v18.4M1999.9 571.3h18.4m-9.2-9.2v18.4M1988.3 591.2h18.4m-9.2-9.2v18.4M1606.5 717.4h18.4m-9.2-9.2v18.4M2030.2 551.3h18.4m-9.2-9.2v18.4M1443.8 764.5h18.4m-9.2-9.2v18.4M1645.0 713.5h18.4m-9.2-9.2v18.4M1641.6 707.3h18.4m-9.2-9.2v18.4M1846.1 610.7h18.4m-9.2-9.2v18.4M1523.5 748.5h18.4m-9.2-9.2v18.4M1600.8 721.2h18.4m-9.2-9.2v18.4M1631.8 691.3h18.4m-9.2-9.2v18.4M1482.0 744.6h18.4m-9.2-9.2v18.4M1930.6 568.8h18.4m-9.2-9.2v18.4M1471.8 780.9h18.4m-9.2-9.2v18.4M1703.9 657.5h18.4m-9.2-9.2v18.4M1744.3 646.5h18.4m-9.2-9.2v18.4M1554.2 743.3h18.4m-9.2-9.2v18.4M1677.6 652.7h18.4m-9.2-9.2v18.4M1661.7 662.5h18.4m-9.2-9.2v18.4M1913.4 598.3h18.4m-9.2-9.2v18.4M1473.3 772.2h18.4m-9.2-9.2v18.4M1966.5 585.8h18.4m-9.2-9.2v18.4M1955.2 561.1h18.4m-9.2-9.2v18.4M1499.3 774.2h18.4m-9.2-9.2v18.4M1616.1 674.4h18.4m-9.2-9.2v18.4M1930.9 595.7h18.4m-9.2-9.2v18.4M2029.4 553.1h18.4m-9.2-9.2v18.4M1529.6 739.2h18.4m-9.2-9.2v18.4M1978.7 567.6h18.4m-9.2-9.2v18.4M1982.7 586.1h18.4m-9.2-9.2v18.4M1435.6 763.8h18.4m-9.2-9.2v18.4M1619.4 697.2h18.4m-9.2-9.2v18.4M1668.4 664.8h18.4m-9.2-9.2v18.4M1931.0 596.4h18.4m-9.2-9.2v18.4M1652.0 682.4h18.4m-9.2-9.2v18.4M1959.5 588.6h18.4m-9.2-9.2v18.4M1622.1 706.3h18.4m-9.2-9.2v18.4M1600.4 728.4h18.4m-9.2-9.2v18.4M1617.0 677.3h18.4m-9.2-9.2v18.4M1611.7 721.1h18.4m-9.2-9.2v18.4M1565.5 747.1h18.4m-9.2-9.2v18.4M1889.3 594.8h18.4m-9.2-9.2v18.4M1536.3 741.0h18.4m-9.2-9.2v18.4M1439.2 758.9h18.4m-9.2-9.2v18.4M2000.7 562.3h18.4m-9.2-9.2v18.4M1466.4 746.6h18.4m-9.2-9.2v18.4M1520.8 721.6h18.4m-9.2-9.2v18.4M1557.8 707.3h18.4m-9.2-9.2v18.4M2025.5 560.5h18.4m-9.2-9.2v18.4M1510.7 754.9h18.4m-9.2-9.2v18.4M1446.1 783.4h18.4m-9.2-9.2v18.4M1735.1 643.2h18.4m-9.2-9.2v18.4M1645.0 712.8h18.4m-9.2-9.2v18.4M1987.1 602.5h18.4m-9.2-9.2v18.4M2007.8 552.4h18.4m-9.2-9.2v18.4M1671.3 689.4h18.4m-9.2-9.2v18.4M1789.1 623.3h18.4m-9.2-9.2v18.4M1540.9 728.0h18.4m-9.2-9.2v18.4M1877.1 590.9h18.4m-9.2-9.2v18.4M1431.4 774.7h18.4m-9.2-9.2v18.4M1832.7 621.3h18.4m-9.2-9.2v18.4M1531.2 743.7h18.4m-9.2-9.2v18.4M1655.7 692.6h18.4m-9.2-9.2v18.4M1476.2 779.1h18.4m-9.2-9.2v18.4M1649.2 712.2h18.4m-9.2-9.2v18.4M1479.3 745.6h18.4m-9.2-9.2v18.4M1844.7 610.7h18.4m-9.2-9.2v18.4M1821.6 618.1h18.4m-9.2-9.2v18.4M1446.6 784.8h18.4m-9.2-9.2v18.4M1995.0 599.5h18.4m-9.2-9.2v18.4M1693.8 684.0h18.4m-9.2-9.2v18.4M1959.5 585.0h18.4m-9.2-9.2v18.4M1529.4 735.9h18.4m-9.2-9.2v18.4M1806.8 631.9h18.4m-9.2-9.2v18.4M1808.3 606.4h18.4m-9.2-9.2v18.4M1904.1 598.9h18.4m-9.2-9.2v18.4M1946.3 567.9h18.4m-9.2-9.2v18.4M1766.6 625.7h18.4m-9.2-9.2v18.4M1959.1 573.6h18.4m-9.2-9.2v18.4M1731.1 640.4h18.4m-9.2-9.2v18.4M1676.9 670.8h18.4m-9.2-9.2v18.4M1579.4 739.3h18.4m-9.2-9.2v18.4M1432.0 758.1h18.4m-9.2-9.2v18.4M1665.1 676.5h18.4m-9.2-9.2v18.4M1677.4 688.2h18.4m-9.2-9.2v18.4M1853.9 613.0h18.4m-9.2-9.2v18.4M1486.5 755.1h18.4m-9.2-9.2v18.4M1551.7 710.6h18.4m-9.2-9.2v18.4M1489.1 756.4h18.4m-9.2-9.2v18.4M1485.6 774.9h18.4m-9.2-9.2v18.4M1631.3 689.5h18.4m-9.2-9.2v18.4M1861.8 597.4h18.4m-9.2-9.2v18.4M1845.4 596.3h18.4m-9.2-9.2v18.4M1957.2 551.5h18.4m-9.2-9.2v18.4M1830.2 604.8h18.4m-9.2-9.2v18.4M1442.3 767.6h18.4m-9.2-9.2v18.4M1963.7 577.7h18.4m-9.2-9.2v18.4M1866.3 593.7h18.4m-9.2-9.2v18.4M1551.4 752.5h18.4m-9.2-9.2v18.4M1725.7 637.5h18.4m-9.2-9.2v18.4M1443.4 766.0h18.4m-9.2-9.2v18.4M1882.3 609.0h18.4m-9.2-9.2v18.4M1502.6 781.8h18.4m-9.2-9.2v18.4M1441.1 780.5h18.4m-9.2-9.2v18.4M2023.7 564.4h18.4m-9.2-9.2v18.4M1858.8 587.0h18.4m-9.2-9.2v18.4M1660.3 710.4h18.4m-9.2-9.2v18.4M1800.3 614.8h18.4m-9.2-9.2v18.4M1894.1 602.4h18.4m-9.2-9.2v18.4M1447.1 783.9h18.4m-9.2-9.2v18.4M1857.6 612.3h18.4m-9.2-9.2v18.4M1456.2 756.6h18.4m-9.2-9.2v18.4M2009.7 554.1h18.4m-9.2-9.2v18.4M1553.4 722.3h18.4m-9.2-9.2v18.4M1621.4 695.1h18.4m-9.2-9.2v18.4M1772.5 623.2h18.4m-9.2-9.2v18.4M1926.4 585.4h18.4m-9.2-9.2v18.4M1669.6 684.7h18.4m-9.2-9.2v18.4M1730.9 648.1h18.4m-9.2-9.2v18.4M2028.0 567.3h18.4m-9.2-9.2v18.4M1451.4 753.3h18.4m-9.2-9.2v18.4M1931.6 584.2h18.4m-9.2-9.2v18.4M1952.8 561.9h18.4m-9.2-9.2v18.4M1548.6 739.5h18.4m-9.2-9.2v18.4M1986.7 587.3h18.4m-9.2-9.2v18.4M1636.0 720.1h18.4m-9.2-9.2v18.4M1996.3 579.6h18.4m-9.2-9.2v18.4M1554.4 725.8h18.4m-9.2-9.2v18.4M1577.5 735.3h18.4m-9.2-9.2v18.4M1475.3 737.5h18.4m-9.2-9.2v18.4M1934.1 584.2h18.4m-9.2-9.2v18.4M1460.4 765.5h18.4m-9.2-9.2v18.4M1567.4 721.9h18.4m-9.2-9.2v18.4M2011.6 594.9h18.4m-9.2-9.2v18.4M1882.7 597.4h18.4m-9.2-9.2v18.4M1757.7 631.6h18.4m-9.2-9.2v18.4M1980.7 560.9h18.4m-9.2-9.2v18.4M1683.6 672.5h18.4m-9.2-9.2v18.4M1979.4 564.4h18.4m-9.2-9.2v18.4M1517.8 712.5h18.4m-9.2-9.2v18.4M1449.5 774.1h18.4m-9.2-9.2v18.4M1629.0 714.0h18.4m-9.2-9.2v18.4M1566.0 747.4h18.4m-9.2-9.2v18.4M1778.1 640.1h18.4m-9.2-9.2v18.4M1667.1 649.7h18.4m-9.2-9.2v18.4M1811.4 608.1h18.4m-9.2-9.2v18.4M1511.5 717.5h18.4m-9.2-9.2v18.4M1571.0 731.5h18.4m-9.2-9.2v18.4M1689.9 659.4h18.4m-9.2-9.2v18.4M1722.6 666.5h18.4m-9.2-9.2v18.4M1527.1 708.6h18.4m-9.2-9.2v18.4M1979.1 548.4h18.4m-9.2-9.2v18.4M1757.2 649.1h18.4m-9.2-9.2v18.4M2033.7 563.7h18.4m-9.2-9.2v18.4M1587.9 723.0h18.4m-9.2-9.2v18.4M2004.6 573.3h18.4m-9.2-9.2v18.4M2013.8 537.1h18.4m-9.2-9.2v18.4M1889.5 581.8h18.4m-9.2-9.2v18.4M1915.5 570.4h18.4m-9.2-9.2v18.4M1886.8 600.6h18.4m-9.2-9.2v18.4M1462.8 764.7h18.4m-9.2-9.2v18.4M1448.7 754.1h18.4m-9.2-9.2v18.4M1720.7 653.6h18.4m-9.2-9.2v18.4M1689.3 670.3h18.4m-9.2-9.2v18.4M2002.6 561.2h18.4m-9.2-9.2v18.4M1617.1 694.1h18.4m-9.2-9.2v18.4M1901.6 587.4h18.4m-9.2-9.2v18.4M1617.8 714.2h18.4m-9.2-9.2v18.4M1876.0 586.7h18.4m-9.2-9.2v18.4M1630.7 676.2h18.4m-9.2-9.2v18.4M2019.4 588.4h18.4m-9.2-9.2v18.4M1560.0 742.4h18.4m-9.2-9.2v18.4M1541.6 748.9h18.4m-9.2-9.2v18.4M1644.3 672.0h18.4m-9.2-9.2v18.4M1494.6 745.5h18.4m-9.2-9.2v18.4M2013.5 571.3h18.4m-9.2-9.2v18.4M1520.0 783.4h18.4m-9.2-9.2v18.4M1878.2 610.8h18.4m-9.2-9.2v18.4M1588.0 734.7h18.4m-9.2-9.2v18.4M1894.2 600.2h18.4m-9.2-9.2v18.4M1506.7 748.6h18.4m-9.2-9.2v18.4M1507.9 785.7h18.4m-9.2-9.2v18.4M1922.7 583.1h18.4m-9.2-9.2v18.4M1923.9 597.9h18.4m-9.2-9.2v18.4M1590.9 711.1h18.4m-9.2-9.2v18.4M1837.2 608.6h18.4m-9.2-9.2v18.4M1963.6 593.3h18.4m-9.2-9.2v18.4M1982.0 591.9h18.4m-9.2-9.2v18.4M1617.0 722.6h18.4m-9.2-9.2v18.4M1640.4 657.4h18.4m-9.2-9.2v18.4M1571.9 747.5h18.4m-9.2-9.2v18.4M1474.2 787.0h18.4m-9.2-9.2v18.4M1716.3 639.6h18.4m-9.2-9.2v18.4M1635.3 682.8h18.4m-9.2-9.2v18.4M1685.1 662.2h18.4m-9.2-9.2v18.4M1457.8 758.7h18.4m-9.2-9.2v18.4M1499.1 775.7h18.4m-9.2-9.2v18.4M2095.3 536.9h18.4m-9.2-9.2v18.4M2204.0 532.8h18.4m-9.2-9.2v18.4M2107.1 551.6h18.4m-9.2-9.2v18.4M2032.7 554.6h18.4m-9.2-9.2v18.4M2194.4 502.4h18.4m-9.2-9.2v18.4M2130.3 556.8h18.4m-9.2-9.2v18.4M2208.6 515.0h18.4m-9.2-9.2v18.4M2109.3 540.9h18.4m-9.2-9.2v18.4M2041.4 564.9h18.4m-9.2-9.2v18.4M2032.8 552.8h18.4m-9.2-9.2v18.4M2048.8 571.5h18.4m-9.2-9.2v18.4M2081.9 544.1h18.4m-9.2-9.2v18.4M2199.9 506.3h18.4m-9.2-9.2v18.4M2151.0 540.1h18.4m-9.2-9.2v18.4M2112.0 564.3h18.4m-9.2-9.2v18.4M2032.4 558.5h18.4m-9.2-9.2v18.4M2081.9 537.1h18.4m-9.2-9.2v18.4M2047.8 536.2h18.4m-9.2-9.2v18.4M2182.8 523.7h18.4m-9.2-9.2v18.4M2128.8 561.9h18.4m-9.2-9.2v18.4M2050.3 557.5h18.4m-9.2-9.2v18.4M2156.8 546.7h18.4m-9.2-9.2v18.4M2224.3 519.0h18.4m-9.2-9.2v18.4M2085.6 545.0h18.4m-9.2-9.2v18.4M2118.2 560.4h18.4m-9.2-9.2v18.4M2125.2 556.7h18.4m-9.2-9.2v18.4M2095.2 556.7h18.4m-9.2-9.2v18.4M2032.4 574.3h18.4m-9.2-9.2v18.4M2122.9 560.8h18.4m-9.2-9.2v18.4M2085.7 540.4h18.4m-9.2-9.2v18.4M2070.0 560.7h18.4m-9.2-9.2v18.4M2036.2 536.9h18.4m-9.2-9.2v18.4M2040.7 566.1h18.4m-9.2-9.2v18.4M2110.6 564.6h18.4m-9.2-9.2v18.4M2027.6 563.5h18.4m-9.2-9.2v18.4M2040.4 569.8h18.4m-9.2-9.2v18.4M2147.1 523.6h18.4m-9.2-9.2v18.4M2212.7 490.1h18.4m-9.2-9.2v18.4M2187.7 489.3h18.4m-9.2-9.2v18.4M2150.4 551.9h18.4m-9.2-9.2v18.4M2072.3 537.5h18.4m-9.2-9.2v18.4M2212.5 526.1h18.4m-9.2-9.2v18.4M2117.2 542.5h18.4m-9.2-9.2v18.4M2216.5 481.3h18.4m-9.2-9.2v18.4M2177.8 528.1h18.4m-9.2-9.2v18.4M2105.2 540.1h18.4m-9.2-9.2v18.4M2079.6 538.5h18.4m-9.2-9.2v18.4M2103.2 564.3h18.4m-9.2-9.2v18.4M2180.4 524.5h18.4m-9.2-9.2v18.4M2195.6 538.0h18.4m-9.2-9.2v18.4M2176.9 539.5h18.4m-9.2-9.2v18.4M2188.6 541.6h18.4m-9.2-9.2v18.4M2104.8 532.6h18.4m-9.2-9.2v18.4M2121.8 530.2h18.4m-9.2-9.2v18.4M2072.3 547.9h18.4m-9.2-9.2v18.4M2188.7 524.4h18.4m-9.2-9.2v18.4M2062.6 536.0h18.4m-9.2-9.2v18.4M2145.3 530.7h18.4m-9.2-9.2v18.4M2057.8 571.4h18.4m-9.2-9.2v18.4M2076.0 540.3h18.4m-9.2-9.2v18.4M2128.3 547.9h18.4m-9.2-9.2v18.4M2072.1 532.1h18.4m-9.2-9.2v18.4M2073.3 540.2h18.4m-9.2-9.2v18.4M2133.0 528.6h18.4m-9.2-9.2v18.4M2051.4 525.6h18.4m-9.2-9.2v18.4M2174.6 498.3h18.4m-9.2-9.2v18.4M2120.2 545.2h18.4m-9.2-9.2v18.4M2155.1 508.9h18.4m-9.2-9.2v18.4M2073.7 548.1h18.4m-9.2-9.2v18.4M2222.2 497.1h18.4m-9.2-9.2v18.4M2129.5 551.4h18.4m-9.2-9.2v18.4M2100.8 554.6h18.4m-9.2-9.2v18.4M2087.6 541.2h18.4m-9.2-9.2v18.4M2202.8 536.1h18.4m-9.2-9.2v18.4M2063.9 563.9h18.4m-9.2-9.2v18.4M2028.7 574.3h18.4m-9.2-9.2v18.4M2173.4 490.6h18.4m-9.2-9.2v18.4M2055.3 550.4h18.4m-9.2-9.2v18.4M2180.2 526.0h18.4m-9.2-9.2v18.4M2053.4 576.9h18.4m-9.2-9.2v18.4M2059.0 530.7h18.4m-9.2-9.2v18.4M2198.3 511.8h18.4m-9.2-9.2v18.4M2047.9 535.9h18.4m-9.2-9.2v18.4M2107.4 549.8h18.4m-9.2-9.2v18.4M2026.2 574.3h18.4m-9.2-9.2v18.4M2156.0 511.4h18.4m-9.2-9.2v18.4M2117.1 549.3h18.4m-9.2-9.2v18.4M2036.3 561.8h18.4m-9.2-9.2v18.4M2204.1 496.2h18.4m-9.2-9.2v18.4M2026.9 570.9h18.4m-9.2-9.2v18.4M2180.6 531.4h18.4m-9.2-9.2v18.4M2181.9 519.6h18.4m-9.2-9.2v18.4M2125.8 561.9h18.4m-9.2-9.2v18.4M2108.2 560.3h18.4m-9.2-9.2v18.4M2104.2 535.6h18.4m-9.2-9.2v18.4M2125.1 532.8h18.4m-9.2-9.2v18.4M2047.6 577.4h18.4m-9.2-9.2v18.4M2089.1 560.5h18.4m-9.2-9.2v18.4M2151.6 536.5h18.4m-9.2-9.2v18.4M2204.7 485.3h18.4m-9.2-9.2v18.4M2026.3 531.1h18.4m-9.2-9.2v18.4M2055.4 570.2h18.4m-9.2-9.2v18.4M2148.9 537.1h18.4m-9.2-9.2v18.4M2065.9 554.4h18.4m-9.2-9.2v18.4M2173.7 504.2h18.4m-9.2-9.2v18.4M2199.5 522.0h18.4m-9.2-9.2v18.4M2092.5 559.0h18.4m-9.2-9.2v18.4M2150.4 533.4h18.4m-9.2-9.2v18.4M2176.3 489.9h18.4m-9.2-9.2v18.4M2074.0 565.2h18.4m-9.2-9.2v18.4M2045.6 555.4h18.4m-9.2-9.2v18.4M2089.8 558.3h18.4m-9.2-9.2v18.4M2102.9 557.7h18.4m-9.2-9.2v18.4M2208.9 490.8h18.4m-9.2-9.2v18.4M2197.3 502.4h18.4m-9.2-9.2v18.4M2090.4 535.4h18.4m-9.2-9.2v18.4M2132.8 539.8h18.4m-9.2-9.2v18.4M2064.6 553.5h18.4m-9.2-9.2v18.4M2179.3 493.3h18.4m-9.2-9.2v18.4M2038.7 532.6h18.4m-9.2-9.2v18.4M2093.5 562.3h18.4m-9.2-9.2v18.4M2054.2 566.2h18.4m-9.2-9.2v18.4M2076.7 532.9h18.4m-9.2-9.2v18.4M2213.7 507.7h18.4m-9.2-9.2v18.4M2113.1 567.4h18.4m-9.2-9.2v18.4M2161.1 500.1h18.4m-9.2-9.2v18.4M2088.6 537.0h18.4m-9.2-9.2v18.4M2101.4 532.0h18.4m-9.2-9.2v18.4M2221.1 499.4h18.4m-9.2-9.2v18.4M2154.1 546.0h18.4m-9.2-9.2v18.4M2103.0 532.1h18.4m-9.2-9.2v18.4M2118.7 541.9h18.4m-9.2-9.2v18.4M2055.2 526.3h18.4m-9.2-9.2v18.4M2086.2 544.9h18.4m-9.2-9.2v18.4M2205.1 503.5h18.4m-9.2-9.2v18.4M2071.0 531.4h18.4m-9.2-9.2v18.4M2037.3 532.0h18.4m-9.2-9.2v18.4M2216.7 525.3h18.4m-9.2-9.2v18.4M2221.1 515.5h18.4m-9.2-9.2v18.4M2111.0 532.9h18.4m-9.2-9.2v18.4M2189.7 526.7h18.4m-9.2-9.2v18.4M2200.3 484.6h18.4m-9.2-9.2v18.4M2185.9 536.8h18.4m-9.2-9.2v18.4M2151.4 522.3h18.4m-9.2-9.2v18.4M2094.3 534.4h18.4m-9.2-9.2v18.4M2067.5 565.4h18.4m-9.2-9.2v18.4M2192.3 536.3h18.4m-9.2-9.2v18.4M2138.6 543.4h18.4m-9.2-9.2v18.4M2187.4 542.6h18.4m-9.2-9.2v18.4M2184.0 517.9h18.4m-9.2-9.2v18.4M2128.7 542.5h18.4m-9.2-9.2v18.4M2065.5 534.6h18.4m-9.2-9.2v18.4M2045.1 542.0h18.4m-9.2-9.2v18.4M2043.7 558.6h18.4m-9.2-9.2v18.4M2153.8 516.8h18.4m-9.2-9.2v18.4M2037.4 545.3h18.4m-9.2-9.2v18.4M2069.6 532.5h18.4m-9.2-9.2v18.4M2186.7 520.3h18.4m-9.2-9.2v18.4M2221.7 524.5h18.4m-9.2-9.2v18.4M2141.9 537.6h18.4m-9.2-9.2v18.4M2091.9 549.3h18.4m-9.2-9.2v18.4M2066.4 541.5h18.4m-9.2-9.2v18.4M2054.1 534.5h18.4m-9.2-9.2v18.4M2112.8 562.1h18.4m-9.2-9.2v18.4M2038.0 547.8h18.4m-9.2-9.2v18.4M2209.0 503.6h18.4m-9.2-9.2v18.4M2087.8 536.3h18.4m-9.2-9.2v18.4M2035.9 536.2h18.4m-9.2-9.2v18.4M2124.3 561.7h18.4m-9.2-9.2v18.4M2039.4 540.5h18.4m-9.2-9.2v18.4M2105.3 562.0h18.4m-9.2-9.2v18.4M2037.3 524.1h18.4m-9.2-9.2v18.4M2207.8 489.8h18.4m-9.2-9.2v18.4M2201.0 482.2h18.4m-9.2-9.2v18.4M2073.0 532.6h18.4m-9.2-9.2v18.4M2179.2 515.6h18.4m-9.2-9.2v18.4M2096.1 549.8h18.4m-9.2-9.2v18.4M2034.1 537.3h18.4m-9.2-9.2v18.4M2115.5 551.4h18.4m-9.2-9.2v18.4M2165.4 541.9h18.4m-9.2-9.2v18.4M2192.7 536.5h18.4m-9.2-9.2v18.4M2033.1 536.9h18.4m-9.2-9.2v18.4M2132.9 530.2h18.4m-9.2-9.2v18.4M2172.2 517.6h18.4m-9.2-9.2v18.4M2191.9 518.9h18.4m-9.2-9.2v18.4M2173.3 516.0h18.4m-9.2-9.2v18.4M2076.5 539.8h18.4m-9.2-9.2v18.4M2142.6 544.3h18.4m-9.2-9.2v18.4M2093.1 543.7h18.4m-9.2-9.2v18.4M2213.9 502.6h18.4m-9.2-9.2v18.4M2057.9 572.7h18.4m-9.2-9.2v18.4M2196.2 514.3h18.4m-9.2-9.2v18.4M2083.3 537.6h18.4m-9.2-9.2v18.4M2174.7 538.7h18.4m-9.2-9.2v18.4M2044.3 564.9h18.4m-9.2-9.2v18.4M2051.9 568.9h18.4m-9.2-9.2v18.4M2220.8 491.7h18.4m-9.2-9.2v18.4M2157.2 508.4h18.4m-9.2-9.2v18.4M2182.7 535.4h18.4m-9.2-9.2v18.4M2213.4 495.6h18.4m-9.2-9.2v18.4M2119.1 549.3h18.4m-9.2-9.2v18.4M2218.9 509.5h18.4m-9.2-9.2v18.4M2038.9 536.2h18.4m-9.2-9.2v18.4M2204.4 494.5h18.4m-9.2-9.2v18.4M2175.8 493.8h18.4m-9.2-9.2v18.4M2050.7 548.4h18.4m-9.2-9.2v18.4M2087.1 530.4h18.4m-9.2-9.2v18.4M2211.9 519.8h18.4m-9.2-9.2v18.4M2158.6 514.0h18.4m-9.2-9.2v18.4M2128.5 535.5h18.4m-9.2-9.2v18.4M2154.1 529.6h18.4m-9.2-9.2v18.4M2174.4 513.1h18.4m-9.2-9.2v18.4M2056.0 561.0h18.4m-9.2-9.2v18.4M2126.6 530.2h18.4m-9.2-9.2v18.4M2191.7 526.0h18.4m-9.2-9.2v18.4M2166.8 523.5h18.4m-9.2-9.2v18.4M2142.5 549.3h18.4m-9.2-9.2v18.4M2159.8 529.6h18.4m-9.2-9.2v18.4M2053.2 532.0h18.4m-9.2-9.2v18.4M2058.6 556.4h18.4m-9.2-9.2v18.4M2211.5 483.4h18.4m-9.2-9.2v18.4M2109.6 539.6h18.4m-9.2-9.2v18.4M2203.7 530.8h18.4m-9.2-9.2v18.4M2170.7 500.9h18.4m-9.2-9.2v18.4M2223.4 518.1h18.4m-9.2-9.2v18.4M2173.8 508.3h18.4m-9.2-9.2v18.4M2045.5 568.4h18.4m-9.2-9.2v18.4M2066.0 528.6h18.4m-9.2-9.2v18.4M2115.7 559.2h18.4m-9.2-9.2v18.4M2105.6 547.2h18.4m-9.2-9.2v18.4M2151.2 526.8h18.4m-9.2-9.2v18.4M2099.4 566.9h18.4m-9.2-9.2v18.4M2029.3 561.5h18.4m-9.2-9.2v18.4M2112.6 540.5h18.4m-9.2-9.2v18.4M2117.1 558.5h18.4m-9.2-9.2v18.4M2037.2 561.6h18.4m-9.2-9.2v18.4M2113.1 560.3h18.4m-9.2-9.2v18.4M2074.8 547.0h18.4m-9.2-9.2v18.4M2161.9 533.3h18.4m-9.2-9.2v18.4M2089.2 542.0h18.4m-9.2-9.2v18.4M2055.0 561.9h18.4m-9.2-9.2v18.4M2210.0 506.4h18.4m-9.2-9.2v18.4M2205.0 498.4h18.4m-9.2-9.2v18.4M2121.8 532.4h18.4m-9.2-9.2v18.4M2054.6 568.4h18.4m-9.2-9.2v18.4M2196.6 506.2h18.4m-9.2-9.2v18.4M2042.0 537.9h18.4m-9.2-9.2v18.4M2059.7 549.2h18.4m-9.2-9.2v18.4M2029.2 529.0h18.4m-9.2-9.2v18.4M2095.5 551.3h18.4m-9.2-9.2v18.4M2199.3 490.7h18.4m-9.2-9.2v18.4M2175.4 491.0h18.4m-9.2-9.2v18.4M2208.8 489.5h18.4m-9.2-9.2v18.4M2119.1 526.7h18.4m-9.2-9.2v18.4M2214.6 494.1h18.4m-9.2-9.2v18.4M2172.1 522.5h18.4m-9.2-9.2v18.4M2187.6 525.8h18.4m-9.2-9.2v18.4M2114.2 564.8h18.4m-9.2-9.2v18.4M2115.3 536.9h18.4m-9.2-9.2v18.4M2151.3 552.2h18.4m-9.2-9.2v18.4M2117.1 557.1h18.4m-9.2-9.2v18.4M2201.2 525.0h18.4m-9.2-9.2v18.4" stroke="#ffa500" stroke-width="2.4" fill="none"/>
<g fill="none" stroke-linecap="butt">
<path d="M231 1576H2428" stroke="#222" stroke-width="3.5"/>
<path d="M231 1576H534" stroke="#aaa" stroke-width="4"/>
<path d="M232.5 75.5V1577" stroke="#333" stroke-width="3"/>
<path d="M231 75.5H2428" stroke="#111" stroke-width="3"/>
<path d="M2427.8 74V1578" stroke="#6e6e6e" stroke-width="5"/>
<path d="M536.2 1576v-22M536.2 75.5v22M841.3 1576v-22M841.3 75.5v22M1146.4 1576v-22M1146.4 75.5v22M1451.5 1576v-22M1451.5 75.5v22M1756.6 1576v-22M1756.6 75.5v22M2061.7 1576v-22M2061.7 75.5v22M2366.8 1576v-22M2366.8 75.5v22M232 1200.5h9M2427 1200.5h-21M232 825.5h9M2427 825.5h-21M232 450.5h9M2427 450.5h-21" stroke="#222" stroke-width="3"/>
</g>
<g style="font-size:77px">
<text x="231.1" y="1661" text-anchor="middle">0</text>
<text x="536.2" y="1661" text-anchor="middle">10</text>
<text x="841.3" y="1661" text-anchor="middle">20</text>
<text x="1146.4" y="1661" text-anchor="middle">30</text>
<text x="1451.5" y="1661" text-anchor="middle">40</text>
<text x="1756.6" y="1661" text-anchor="middle">50</text>
<text x="2061.7" y="1661" text-anchor="middle">60</text>
<text x="2366.8" y="1661" text-anchor="middle">70</text>
</g><g style="font-size:76px">
<text x="214" y="1603.0" text-anchor="end">35</text>
<text x="214" y="1228.0" text-anchor="end">40</text>
<text x="214" y="853.0" text-anchor="end">45</text>
<text x="214" y="478.0" text-anchor="end">50</text>
<text x="214" y="103.0" text-anchor="end">55</text>
</g>
<text x="1124.5" y="1748" style="font-size:75px">Elevation (°)</text>
<text transform="translate(88 827) rotate(-90)" text-anchor="middle" style="font-size:75px">C/N0 (dB-Hz)</text>
<text x="386" y="322" text-anchor="middle" style="font-size:76px">MASK</text>
<text x="381.5" y="406" text-anchor="middle" style="font-size:76px">(10°)</text>
<rect x="544" y="104" width="852.5" height="406.5" fill="#fff" stroke="#222" stroke-width="3"/>
<path d="M664 161.8h20M674 151.8v20" stroke="#ff0000" stroke-width="2.5" fill="none"/>
<text x="785" y="187.5" style="font-size:75px">B1C-BDS-3(C25)</text>
<path d="M664 258.8h20M674 248.8v20" stroke="#0000ff" stroke-width="2.5" fill="none"/>
<text x="785" y="285.5" style="font-size:75px">L1-GPS(G04)</text>
<path d="M664 355h20M674 345v20" stroke="#00c040" stroke-width="2.5" fill="none"/>
<text x="785" y="382" style="font-size:75px">E1-Galileo(E13)</text>
<path d="M664 450.3h20M674 440.3v20" stroke="#ffa500" stroke-width="2.5" fill="none"/>
<text x="785" y="480" style="font-size:75px">L1-QZSS(J01)</text>
<rect x="1589" y="554" width="71" height="257.3" fill="none" stroke="#222" stroke-width="3"/>
<path d="M1660 554L2324 746M1589 811.3L1982 1459" stroke="#111" stroke-width="3" fill="none"/>
<rect x="1977" y="746" width="347" height="724" fill="#fff"/>
<path d="M2043.3 998.0h18.4m-9.2-9.2v18.4M2073.5 1010.4h18.4m-9.2-9.2v18.4M1980.3 1082.7h18.4m-9.2-9.2v18.4M2010.8 1106.5h18.4m-9.2-9.2v18.4M2201.6 1119.6h18.4m-9.2-9.2v18.4M2295.6 1021.9h18.4m-9.2-9.2v18.4M2264.5 1034.7h18.4m-9.2-9.2v18.4M2137.2 1059.4h18.4m-9.2-9.2v18.4M2233.8 1059.4h18.4m-9.2-9.2v18.4M2170.2 1070.9h18.4m-9.2-9.2v18.4" stroke="#ff0000" stroke-width="2.4" fill="none"/>
<path d="M2111.5 1010.8h18.4m-9.2-9.2v18.4M2040.5 1034.6h18.4m-9.2-9.2v18.4M2076.3 1034.6h18.4m-9.2-9.2v18.4M2005.3 1059.4h18.4m-9.2-9.2v18.4M2068.0 1059.4h18.4m-9.2-9.2v18.4M2105.1 1059.4h18.4m-9.2-9.2v18.4M2032.3 1082.7h18.4m-9.2-9.2v18.4M1994.8 1095.0h18.4m-9.2-9.2v18.4M2147.3 986.6h18.4m-9.2-9.2v18.4M2182.5 986.6h18.4m-9.2-9.2v18.4M2253.5 998.5h18.4m-9.2-9.2v18.4M2218.3 1010.4h18.4m-9.2-9.2v18.4M2289.2 1010.4h18.4m-9.2-9.2v18.4M2141.8 1046.2h18.4m-9.2-9.2v18.4M2289.2 1046.2h18.4m-9.2-9.2v18.4M2178.0 1070.9h18.4m-9.2-9.2v18.4M2215.0 1070.9h18.4m-9.2-9.2v18.4M2250.8 1070.9h18.4m-9.2-9.2v18.4" stroke="#0000ff" stroke-width="2.4" fill="none"/>
<path d="M2024.5 1059.4h18.4m-9.2-9.2v18.4M1969.1 1082.7h18.4m-9.2-9.2v18.4M2076.3 1082.7h18.4m-9.2-9.2v18.4M2106.3 1095.0h18.4m-9.2-9.2v18.4M2050.6 1106.5h18.4m-9.2-9.2v18.4M1996.9 1130.8h18.4m-9.2-9.2v18.4M2128.8 1138.6h18.4m-9.2-9.2v18.4M2024.3 1155.2h18.4m-9.2-9.2v18.4M2079.0 1166.9h18.4m-9.2-9.2v18.4M2186.5 1082.9h18.4m-9.2-9.2v18.4M2212.8 1082.9h18.4m-9.2-9.2v18.4M2230.4 1082.9h18.4m-9.2-9.2v18.4M2179.6 1095.1h18.4m-9.2-9.2v18.4M2160.1 1107.4h18.4m-9.2-9.2v18.4M2239.7 1107.4h18.4m-9.2-9.2v18.4M2281.7 1107.4h18.4m-9.2-9.2v18.4M2256.3 1130.8h18.4m-9.2-9.2v18.4M2132.8 1143.5h18.4m-9.2-9.2v18.4M2307.6 1204.5h18.4m-9.2-9.2v18.4M2153.2 1059.4h18.4m-9.2-9.2v18.4M2204.1 1059.4h18.4m-9.2-9.2v18.4M2292.0 1059.4h18.4m-9.2-9.2v18.4M2267.2 1070.9h18.4m-9.2-9.2v18.4M2187.6 1082.3h18.4m-9.2-9.2v18.4M2229.7 1082.3h18.4m-9.2-9.2v18.4M2179.8 1094.7h18.4m-9.2-9.2v18.4" stroke="#00c040" stroke-width="2.4" fill="none"/>
<path d="M2087.0 1106.5h18.4m-9.2-9.2v18.4M2110.2 1119.0h18.4m-9.2-9.2v18.4M2098.5 1130.8h18.4m-9.2-9.2v18.4M2126.8 1130.8h18.4m-9.2-9.2v18.4M2037.9 1143.5h18.4m-9.2-9.2v18.4M2074.1 1143.5h18.4m-9.2-9.2v18.4M2049.7 1155.2h18.4m-9.2-9.2v18.4M2062.4 1155.2h18.4m-9.2-9.2v18.4M2081.9 1155.2h18.4m-9.2-9.2v18.4M2013.5 1166.9h18.4m-9.2-9.2v18.4M2111.7 1166.9h18.4m-9.2-9.2v18.4M1975.4 1179.6h18.4m-9.2-9.2v18.4M1989.1 1179.6h18.4m-9.2-9.2v18.4M2000.8 1179.6h18.4m-9.2-9.2v18.4M2035.0 1179.6h18.4m-9.2-9.2v18.4M2050.6 1179.6h18.4m-9.2-9.2v18.4M2066.3 1179.6h18.4m-9.2-9.2v18.4M2096.5 1179.6h18.4m-9.2-9.2v18.4M2126.8 1179.6h18.4m-9.2-9.2v18.4M2004.8 1192.3h18.4m-9.2-9.2v18.4M2020.4 1192.3h18.4m-9.2-9.2v18.4M1989.1 1204.0h18.4m-9.2-9.2v18.4M1975.4 1228.4h18.4m-9.2-9.2v18.4M2312.8 1095.1h18.4m-9.2-9.2v18.4M2141.5 1119.6h18.4m-9.2-9.2v18.4M2182.6 1130.8h18.4m-9.2-9.2v18.4M2277.3 1130.8h18.4m-9.2-9.2v18.4M2289.0 1130.8h18.4m-9.2-9.2v18.4M2300.8 1130.8h18.4m-9.2-9.2v18.4M2146.9 1143.5h18.4m-9.2-9.2v18.4M2158.6 1143.5h18.4m-9.2-9.2v18.4M2170.4 1143.5h18.4m-9.2-9.2v18.4M2193.3 1143.5h18.4m-9.2-9.2v18.4M2207.0 1143.5h18.4m-9.2-9.2v18.4M2218.2 1143.5h18.4m-9.2-9.2v18.4M2230.4 1143.5h18.4m-9.2-9.2v18.4M2242.2 1143.5h18.4m-9.2-9.2v18.4M2253.4 1143.5h18.4m-9.2-9.2v18.4M2292.0 1143.5h18.4m-9.2-9.2v18.4M2263.7 1155.2h18.4m-9.2-9.2v18.4M2307.6 1155.2h18.4m-9.2-9.2v18.4M2248.0 1166.9h18.4m-9.2-9.2v18.4M2133.8 1179.6h18.4m-9.2-9.2v18.4M2157.2 1179.6h18.4m-9.2-9.2v18.4M2232.4 1179.6h18.4m-9.2-9.2v18.4M2187.9 1192.3h18.4m-9.2-9.2v18.4M2202.6 1192.3h18.4m-9.2-9.2v18.4M2217.7 1192.3h18.4m-9.2-9.2v18.4M2171.8 1204.5h18.4m-9.2-9.2v18.4" stroke="#ffa500" stroke-width="2.4" fill="none"/>
<rect x="1977" y="746" width="347" height="724" fill="none" stroke="#333" stroke-width="3.5"/>
<path d="M1977 987.3h8M2324 987.3h-8M1977 1228.7h8M2324 1228.7h-8M2150.5 746v8M2150.5 1470v-8" stroke="#111" stroke-width="3" fill="none"/>
<g style="font-size:65px">
<text x="1959" y="769.0" text-anchor="end">50</text>
<text x="1959" y="1010.3" text-anchor="end">48</text>
<text x="1959" y="1251.7" text-anchor="end">46</text>
<text x="1959" y="1493.0" text-anchor="end">44</text>
<text x="1977.0" y="1544" text-anchor="middle">44</text>
<text x="2150.5" y="1544" text-anchor="middle">45</text>
<text x="2324.0" y="1544" text-anchor="middle">46</text>
</g>
</svg></body></html>
